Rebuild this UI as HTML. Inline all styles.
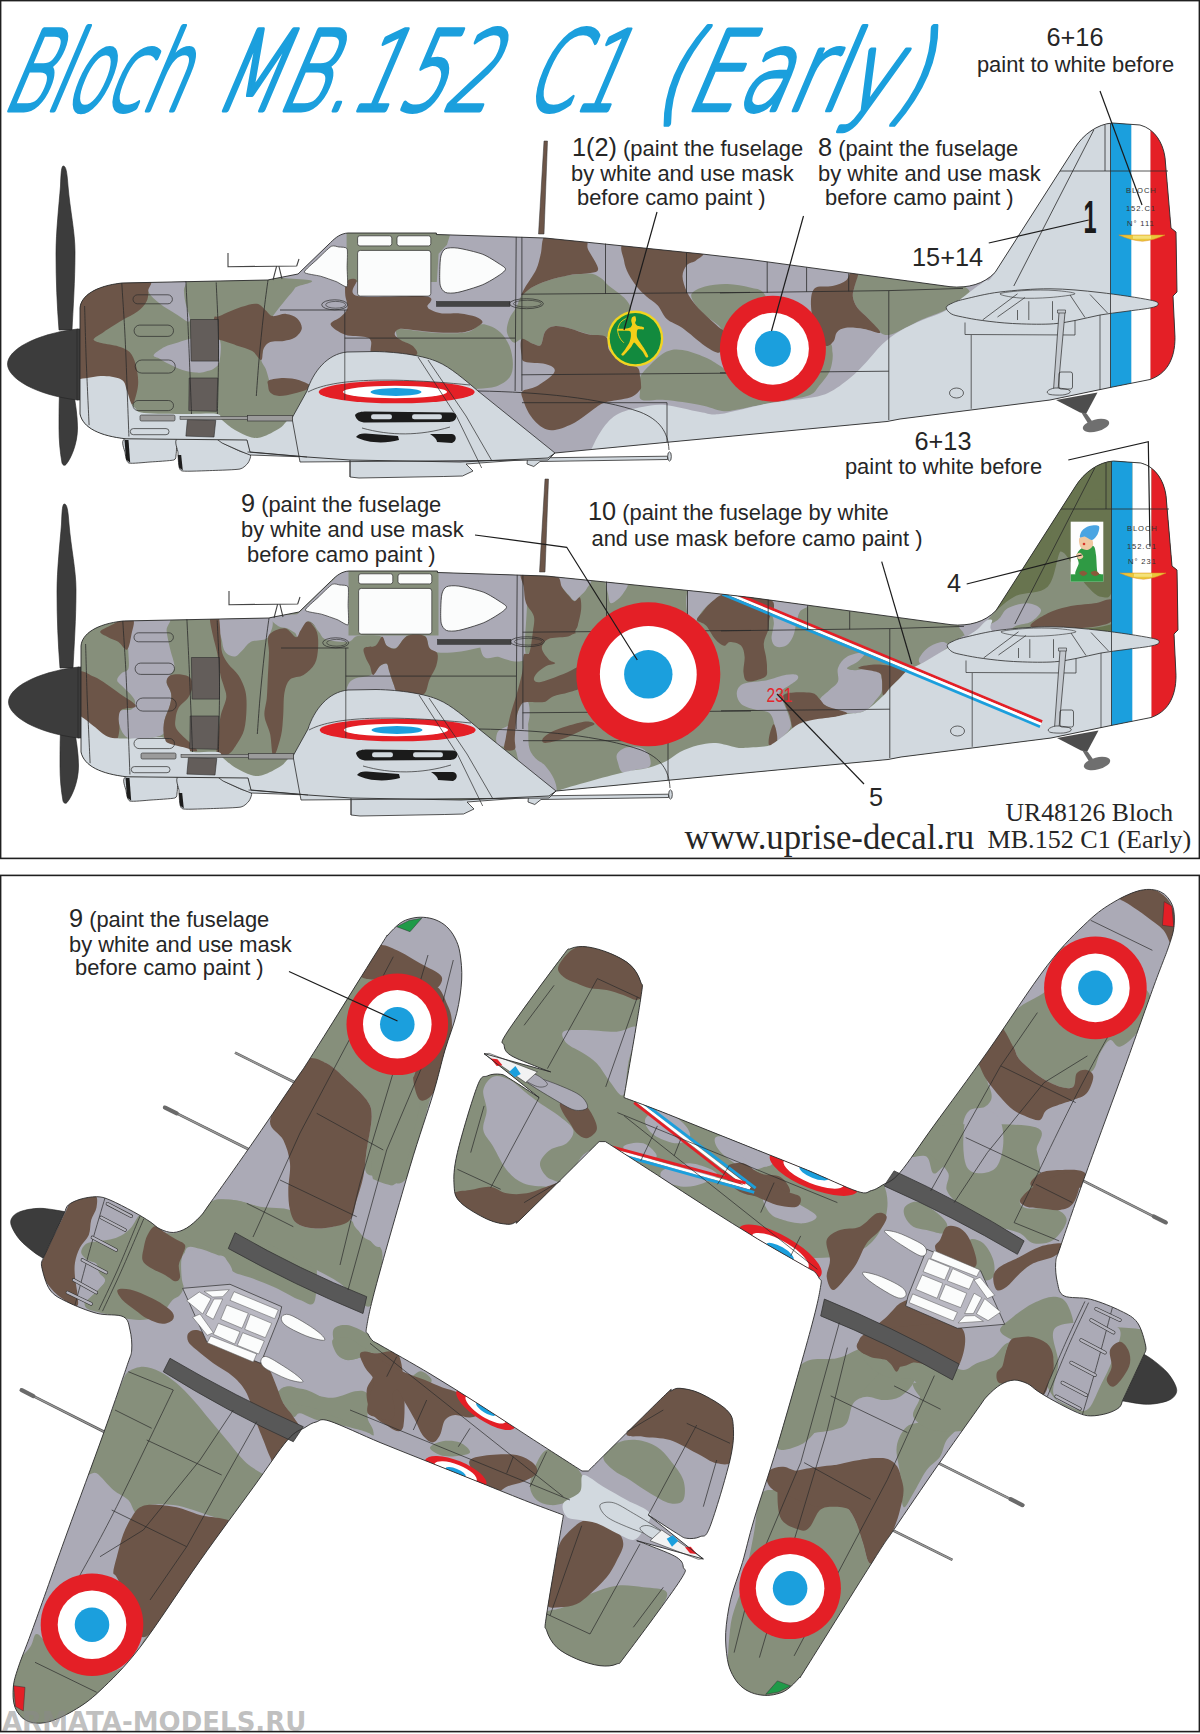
<!DOCTYPE html>
<html lang="en">
<head>
<meta charset="utf-8">
<title>Bloch MB.152 C1 (Early) - UR48126 decal instruction</title>
<style>
html,body{margin:0;padding:0;background:#fff;}
body{width:1200px;height:1734px;overflow:hidden;position:relative;font-family:"Liberation Sans",Arial,sans-serif;}
svg{display:block;position:absolute;left:0;top:0;}
.t{font-family:"Liberation Sans",Arial,sans-serif;fill:#262626;font-size:21.9px;}
.n{font-size:25.3px;}
.s{font-family:"Liberation Serif","Times New Roman",serif;fill:#262626;}
.title{font-family:"DejaVu Sans Light","DejaVu Sans","Liberation Sans",sans-serif;font-weight:200;fill:#1b9fdd;stroke:#1b9fdd;stroke-width:4.4px;stroke-linejoin:round;stroke-linecap:round;}
.title text{vector-effect:non-scaling-stroke;}
.ld{stroke:#1c1c1c;stroke-width:1.2;fill:none;}
.pl{stroke:#2a2a2a;stroke-width:0.8;fill:none;}
.ol{stroke:#222;stroke-width:1;fill:none;}
</style>
</head>
<body>
<svg width="1200" height="1734" viewBox="0 0 1200 1734">
<rect x="0" y="0" width="1200" height="1734" fill="#ffffff"/>

<!-- frames -->
<g fill="none" stroke="#1f1f1f" stroke-width="1.6">
<rect x="0.6" y="0.6" width="1198.8" height="857.8"/>
<rect x="0.6" y="875.4" width="1198.8" height="856.2"/>
</g>

<g id="p1" transform="translate(0,0)">
<clipPath id="p1_clip"><path d="M80,330 L80,308 C81,296 95,286 122,283 L268,280 L270,279.5 L298,274 L330.6,242.5 C336,237 341,233.5 348,233 L436.4,233 L436.4,234.5 L545,238 L624,246 L702,254 L750,259.5 L950,286.7 C968,288.5 984,284 995,272.5 L1075,147.5 C1083,135 1097,124 1112.5,123 L1140,125 C1155,129 1163,143 1165,157.5 L1171,228 L1176,232 L1177,292 L1173,296 L1175,337.5 C1175,360 1166,374 1150,379.5 L1110,387.5 L1050,400 L900,419 L887,421.5 L670,442 L555,453 L548,458 L460,462 L350,460 L307,457 L250,452 L247,440 L126,438.8 C100,436 83,428 80,414 Z"/></clipPath>
<g fill="#3c3c3c" stroke="#222" stroke-width="0.6">
<path d="M63.3,166 C66,166 67,172 68,186 C70,210 75,232 75,252 C75,280 73,310 72,330 L59,330 C57,305 56,280 56,254 C56,232 59,205 60.5,186 C61,172 61.5,166 63.3,166Z"/>
<path d="M60,384 L72,384 C75,400 77.5,415 77.5,428 C77.5,445 70,460 66,464.5 C64.5,466 63,465.5 62,463 C60,452 59,440 59,428 C59,412 59,398 60,384Z"/>
<path d="M7.5,364 C7.5,350 35,334 77.5,329 L77.5,400 C35,395 7.5,378 7.5,364Z"/>
<path d="M77,329 L80,329 L80,400 L77,400Z"/>
</g>
<path d="M125,438.8 C130,437.4 169.8,437.9 175,438.8 C180.2,439.7 176.4,445.9 176.5,447.5 C176.6,449.1 176.3,453.8 176,455 C175.7,456.2 176.4,459.3 173.8,460 C171.2,460.7 154.5,461.7 150,462 C145.5,462.3 131.3,463.9 128.8,463 C126.3,462.1 125.4,454.9 125,452.5 C124.6,450.1 120,440.2 125,438.8Z" fill="#d2d9df" stroke="#2b2b2b" stroke-width="0.8"/>
<path d="M177.5,438.8 C181.7,437.4 215.4,437.6 220,438 C224.6,438.4 221,441.7 223,443 C225,444.3 237.2,450 240,451.2 C242.8,452.4 249.7,453.8 250.5,455 C251.3,456.2 249.1,461.6 248,463 C246.9,464.4 243.6,468.2 240,469 C236.4,469.8 218.2,470.3 212.5,470.5 C206.8,470.7 185.9,471.6 182.5,471 C179.1,470.4 179.2,466.9 178.8,465 C178.4,463.1 178.1,455.1 178,452.5 C177.9,449.9 173.3,440.2 177.5,438.8Z" fill="#d2d9df" stroke="#2b2b2b" stroke-width="0.8"/>
<path d="M124.5,440 L128.5,440 L130.2,462.8 L126,459.5Z" fill="#1d1d1d"/>
<path d="M177.8,455 L181.2,455 L182.8,470.5 L179,467.5Z" fill="#1d1d1d"/>
<path d="M214,437 L222,443 L240,451 L250,455 L307,457 L350,460 L350,477 L359,478 L443.8,476.5 L462.5,476 L473,471 L466,464 L548,458 L555,453 L300,420Z" fill="#d2d9df" stroke="#2b2b2b" stroke-width="0.8"/>
<path d="M527.5,458 L667.5,456.2 L667.5,459.5 L540,461.5 L533.8,466.5 L527,464Z" fill="#d2d9df" stroke="#2b2b2b" stroke-width="0.8"/>
<ellipse cx="669.5" cy="456.5" rx="1.8" ry="4.6" fill="#d2d9df" stroke="#2b2b2b" stroke-width="0.8"/>
<path d="M80,330 L80,308 C81,296 95,286 122,283 L268,280 L270,279.5 L298,274 L330.6,242.5 C336,237 341,233.5 348,233 L436.4,233 L436.4,234.5 L545,238 L624,246 L702,254 L750,259.5 L950,286.7 C968,288.5 984,284 995,272.5 L1075,147.5 C1083,135 1097,124 1112.5,123 L1140,125 C1155,129 1163,143 1165,157.5 L1171,228 L1176,232 L1177,292 L1173,296 L1175,337.5 C1175,360 1166,374 1150,379.5 L1110,387.5 L1050,400 L900,419 L887,421.5 L670,442 L555,453 L548,458 L460,462 L350,460 L307,457 L250,452 L247,440 L126,438.8 C100,436 83,428 80,414 Z" fill="#d2d9df"/>
<g clip-path="url(#p1_clip)">
<rect x="70" y="110" width="1120" height="370" fill="#abaab6"/>
<path d="M79,279 C115.2,252 260.1,277.5 296.1,279 C332.1,280.5 296.7,284.6 295,288 C293.3,291.4 289.6,294.7 286,299.2 C282.4,303.7 277,310.1 273.6,315 C270.2,319.9 267.5,322.9 265.8,328.5 C264.1,334.1 264.3,343.6 263.5,348.8 C262.7,354.1 260.8,356.6 261.2,360 C261.6,363.4 264.5,365.6 265.8,369 C267.1,372.4 268,376.4 269.1,380.2 C270.2,383.9 265.9,390 272.5,391.5 C279.1,393 304.8,385.1 308.5,389.2 C312.2,393.3 301,408.7 295,416.2 C289,423.7 283.8,430.1 272.5,434.2 C261.2,438.3 259.8,439.9 227.5,441 C195.2,442.1 103.8,468 79,441 C54.2,414 42.8,306 79,279Z" fill="#868f7b"/>
<path d="M346.6,231.2 L436.4,231.2 L449.9,235.3 L447,244.8 L438.6,253.8 L436.8,281.9 L346.6,281.9Z" fill="#868f7b"/>
<path d="M395.9,331.4 C395.9,328.6 398.3,329.2 401.5,329.1 C404.7,329 409,330.1 415,330.7 C421,331.3 430,332.5 437.5,332.9 C445,333.3 454.4,333.3 460,332.9 C465.6,332.5 467.8,332.1 471.2,330.7 C474.6,329.3 477.2,325.4 480.2,324.6 C483.2,323.8 485.8,324.5 489.2,325.8 C492.6,327.1 497.1,329.1 500.5,332.5 C503.9,335.9 507.4,340.8 509.5,346 C511.6,351.2 512.9,358.8 512.9,364 C512.9,369.2 512.3,373.8 509.5,377.5 C506.7,381.2 501.2,384.6 496,386.5 C490.8,388.4 484,388.1 478,388.8 C472,389.6 466.8,392.9 460,391 C453.2,389.1 445,382 437.5,377.5 C430,373 421,369.2 415,364 C409,358.8 404.7,351.4 401.5,346 C398.3,340.6 395.9,334.2 395.9,331.4Z" fill="#868f7b"/>
<path d="M521.6,295.4 C524.2,292 527.5,289.9 531.8,287.5 C536.1,285.1 541.1,282.9 547.5,280.8 C553.9,278.7 562.9,276.3 570,275.1 C577.1,273.9 585,273 590.2,273.6 C595.5,274.2 598.5,276.6 601.5,278.5 C604.5,280.4 604.5,282 608.2,285.2 C612,288.4 620.2,293.7 624,297.6 C627.8,301.6 630.8,306.1 630.8,308.9 C630.8,311.7 627,311.7 624,314.5 C621,317.3 615.6,322.1 612.8,325.8 C610,329.6 611.2,335.6 607.1,337 C603,338.4 594.2,335.3 588,333.9 C581.8,332.5 575.6,329.7 570,328.4 C564.4,327.1 558.3,325.7 554.2,326.2 C550.1,326.7 547.4,328.3 545.2,331.4 C543,334.5 542.8,342.8 540.8,344.9 C538.8,347 536.1,344.8 532.9,343.8 C529.7,342.9 524.8,339.4 521.6,339.2 C518.4,339 516.2,343.7 513.8,342.6 C511.4,341.5 507.8,336.4 507,332.5 C506.2,328.6 507.7,323.1 509.2,319 C510.7,314.9 513.9,311.7 516,307.8 C518.1,303.9 519,298.8 521.6,295.4Z" fill="#868f7b"/>
<path d="M691.5,294 C693,290.8 699,288.1 705,286.4 C711,284.7 720,283.8 727.5,284 C735,284.2 743.8,285.7 750,287.5 C756.2,289.3 760.8,287.9 765,295 C769.2,302.1 779.2,321.7 775,330 C770.8,338.3 749.5,345.8 740,345 C730.5,344.2 723.5,329.7 718,325 C712.5,320.3 710.7,320 707,316.8 C703.3,313.5 698.6,309.3 696,305.5 C693.4,301.7 690,297.2 691.5,294Z" fill="#868f7b"/>
<path d="M639.8,377.5 C641.6,373.2 646.5,368.3 651,364 C655.5,359.7 661.5,353.9 666.8,351.6 C672,349.3 676.1,349.1 682.5,350 C688.9,350.9 698.6,354.5 705,357.2 C711.4,360 714.9,362.5 720.8,366.2 C726.6,370 730.1,377.7 740,380 C749.9,382.3 765.8,385.8 780,380 C794.2,374.2 816.2,349.6 825,345 C833.8,340.4 831.7,348.2 832.5,352.5 C833.3,356.8 832.2,364.9 830,370.5 C827.8,376.1 822.3,381.9 819,386 C815.7,390.1 815.3,392.7 810,395 C804.7,397.3 795.3,398.3 787,400 C778.7,401.7 768.7,403.3 760,405 C751.3,406.7 741.3,409 735,410 C728.7,411 727.8,411.8 722,411 C716.2,410.2 709.5,406.8 700,405 C690.5,403.2 674.7,400.8 665,400 C655.3,399.2 646.2,401.7 642,400 C637.8,398.3 640.4,393.8 640,390 C639.6,386.2 637.9,381.8 639.8,377.5Z" fill="#868f7b"/>
<path d="M858.4,271.5 C865.9,270.2 885.6,275.2 900,277.1 C914.4,279 934.3,281.2 945,282.8 C955.7,284.4 960,284.5 964.1,286.4 C968.2,288.3 970.7,291.6 969.8,294 C968.9,296.4 962.6,298.1 958.5,300.8 C954.4,303.5 951,307.1 945,310.2 C939,313.3 929.2,316.2 922.5,319.2 C915.8,322.2 909.8,325.6 904.5,328.2 C899.2,330.8 894.9,333.7 891,334.5 C887.1,335.3 884.6,335.7 880.9,333.1 C877.1,330.5 872.5,323.1 868.5,318.8 C864.5,314.5 859.8,311.3 857.2,307.5 C854.6,303.7 853.2,299.9 852.8,296.2 C852.4,292.4 854.1,289.1 855,285 C855.9,280.9 850.9,272.8 858.4,271.5Z" fill="#868f7b"/>
<path d="M147.6,279 C153.4,276.8 177.5,277.1 183.6,279 C189.7,280.9 183.6,286.4 183.9,290.2 C184.2,293.9 184.2,296.3 185.2,301.5 C186.2,306.7 191.3,319.2 189.7,321.3 C188.1,323.4 180.8,316.8 175.8,313.9 C170.9,311 164.5,307.4 160,303.8 C155.5,300.2 150.9,296.6 148.8,292.5 C146.7,288.4 141.8,281.2 147.6,279Z" fill="#abaab6"/>
<path d="M153.7,355.1 C154.4,353.1 160.4,349 164.5,346.9 C168.6,344.8 173.5,343.8 178,342.4 C182.5,341 187,339.4 191.5,338.6 C196,337.8 200.3,337.3 205,337.5 C209.7,337.7 217.2,335.9 219.6,339.8 C222,343.7 220.5,356.3 219.6,361.1 C218.7,365.9 216.4,366.8 214,368.6 C211.6,370.4 208,371 205,371.7 C202,372.4 199.8,372.9 196,372.6 C192.2,372.3 187,371.5 182.5,370.1 C178,368.7 172.8,366 169,364.1 C165.2,362.2 162.6,360.4 160,358.9 C157.4,357.4 152.9,357.1 153.7,355.1Z" fill="#abaab6"/>
<path d="M79,279 C90.1,257.2 133.8,277.1 145.4,279 C157,280.9 148.1,286.4 148.3,290.2 C148.5,293.9 148.3,297.9 146.5,301.5 C144.7,305.1 141.6,308.4 137.5,311.6 C133.4,314.8 127.4,317.2 121.8,320.6 C116.2,324 108.5,328.8 103.8,331.9 C99.1,335 94,337.4 93.6,339.3 C93.2,341.2 97.4,341.9 101.5,343.1 C105.6,344.3 113.7,345 118.4,346.5 C123.1,348 126.7,349.1 129.6,352.1 C132.5,355.1 134.3,359.4 135.7,364.5 C137.1,369.6 138.3,376.9 138.2,382.5 C138.1,388.1 136.4,394.4 135.2,398.2 C134,401.9 134.6,403.1 131.2,405 C127.8,406.9 123.7,408.8 115,409.5 C106.3,410.2 85,431.2 79,409.5 C73,387.8 67.9,300.8 79,279Z" fill="#6c5548"/>
<path d="M214,318.4 C214.9,314.6 215.1,318 219.6,316.1 C224.1,314.2 234.8,309.2 241,307.1 C247.2,305.1 252.7,303.2 256.8,303.8 C260.9,304.4 263.2,308.4 265.8,310.5 C268.4,312.6 269.1,315.5 272.5,316.1 C275.9,316.7 281.9,313.5 286,313.9 C290.1,314.3 294.6,316 297.2,318.4 C299.8,320.8 302.2,325.3 301.8,328.5 C301.4,331.7 298,335.4 295,337.5 C292,339.6 287.9,340.1 283.8,340.9 C279.7,341.6 273.6,340.7 270.2,342 C266.8,343.3 265,345.8 263.5,348.8 C262,351.8 263.1,359.6 261.2,360 C259.3,360.4 256.3,353.4 252.2,351 C248.1,348.6 241.9,347.3 236.5,345.4 C231.1,343.5 223.3,340.9 219.6,339.8 C215.8,338.7 214.9,342.2 214,338.6 C213.1,335 213.1,322.1 214,318.4Z" fill="#6c5548"/>
<path d="M269.1,380.2 C271.7,379.1 278.7,378 283.8,378 C288.9,378 295,378.7 299.5,380.2 C304,381.7 311.6,384.8 310.8,387 C310.1,389.2 300.3,391.8 295,393.3 C289.7,394.8 283.3,396.1 279.2,396 C275.1,395.9 272.1,394.5 270.2,392.6 C268.3,390.7 268.2,386.9 268,384.8 C267.8,382.7 266.5,381.3 269.1,380.2Z" fill="#6c5548"/>
<path d="M346.6,281.2 C348.5,278.9 354.7,277.8 356.5,280.3 C358.3,282.8 346,293.4 357.6,296.1 C369.2,298.8 414.6,294.8 426.2,296.5 C437.8,298.2 426.6,304.4 427.4,306.6 C428.2,308.9 428.8,308.9 431.2,310 C433.6,311.1 437.2,312.8 442,313.4 C446.8,314 454.4,312.8 460,313.4 C465.6,314 472.1,315.4 475.8,316.8 C479.6,318.2 482.1,320.1 482.5,321.7 C482.9,323.3 479.9,324.8 478,326.2 C476.1,327.6 474.2,329.1 471.2,330.2 C468.2,331.2 465.6,332.1 460,332.5 C454.4,332.9 445,332.9 437.5,332.5 C430,332.1 421.4,330.8 415,330.2 C408.6,329.6 402.6,328.3 399.2,329.1 C395.8,329.9 394.4,332.9 394.8,334.8 C395.2,336.7 398.5,338.5 401.5,340.4 C404.5,342.3 410.4,343.6 412.8,346 C415.2,348.4 419.5,353.1 416.1,355 C412.7,356.9 399.8,357.2 392.5,357.2 C385.2,357.2 375.8,357.6 372.2,355 C368.6,352.4 372.2,344.5 371.1,341.5 C370,338.5 369.8,338.1 365.5,337 C361.2,335.9 351,336.9 345.2,334.8 C339.4,332.7 331.3,327.6 330.6,324.6 C329.9,321.6 338,319.6 340.8,316.8 C343.6,314 346.8,311.6 347.5,307.8 C348.2,304 345.3,298.6 345.2,294.2 C345.1,289.8 344.7,283.5 346.6,281.2Z" fill="#6c5548"/>
<path d="M545.2,235.8 C549.3,233.2 558.7,237.2 565.5,238 C572.3,238.8 582,238.8 585.8,240.7 C589.5,242.6 586,244.6 588,249.2 C590,253.8 597.7,264.4 598.1,268.4 C598.5,272.4 594.9,272 590.2,273.1 C585.5,274.2 577.1,273.8 570,275.1 C562.9,276.4 553.9,278.7 547.5,280.8 C541.1,282.9 536.1,285.1 531.8,287.5 C527.5,289.9 522.7,295.4 521.6,295.4 C520.5,295.4 522.6,291.8 525,287.5 C527.4,283.2 533.6,275.1 536.2,269.5 C538.8,263.9 539.3,259.4 540.8,253.8 C542.3,248.2 541.1,238.4 545.2,235.8Z" fill="#6c5548"/>
<path d="M521.6,339.2 C523.5,337.3 529.7,342.9 532.9,343.8 C536.1,344.8 538.8,347 540.8,344.9 C542.8,342.8 543,334.5 545.2,331.4 C547.4,328.3 550.1,326.7 554.2,326.2 C558.3,325.7 564.4,327 570,328.4 C575.6,329.8 582,332.9 588,334.3 C594,335.7 602.4,334.3 606,337 C609.6,339.7 606.4,346 609.4,350.5 C612.4,355 619.3,361.2 624,364 C628.7,366.8 634.8,365.1 637.5,367.4 C640.2,369.6 639.6,374.6 640.2,377.5 C640.8,380.4 641,382.9 641,385 C641,387.1 641.8,387.9 640,390 C638.2,392.1 635.8,395.4 630,397.5 C624.2,399.6 611.2,400.4 605,402.5 C598.8,404.6 597.5,406.7 592.5,410 C587.5,413.3 581.2,419.2 575,422.5 C568.8,425.8 560.4,429.2 555,430 C549.6,430.8 546.7,430 542.5,427.5 C538.3,425 533.3,419.9 530,415 C526.7,410.1 523.7,402 522.5,398 C521.3,394 520.5,392.9 522.8,391 C525.1,389.1 531.3,389.1 536.2,386.5 C541.1,383.9 549,378.2 552,375.2 C555,372.2 555.3,370.4 554.2,368.5 C553.1,366.6 550.1,365.1 545.2,364 C540.3,362.9 528.9,363.3 525,361.8 C521.1,360.3 522.2,358.8 521.6,355 C521,351.2 519.7,341.1 521.6,339.2Z" fill="#6c5548"/>
<path d="M624,243.6 C630,241.4 647.1,246 660,247.4 C672.9,248.8 695.6,249.7 701.6,251.9 C707.6,254.1 698.4,258.3 696,260.5 C693.6,262.7 689.2,262.4 687,265 C684.8,267.6 682.5,271.7 682.5,276.2 C682.5,280.7 684.8,287.1 687,292 C689.2,296.9 692.6,301.4 696,305.5 C699.4,309.6 703.5,313.2 707.2,316.8 C711,320.4 715.7,324.3 718.5,326.9 C721.3,329.5 723.7,329.3 724.1,332.5 C724.5,335.7 721.7,342.6 720.8,346 C719.9,349.4 721.1,352.8 718.5,352.8 C715.9,352.8 711,350.1 705,346 C699,341.9 688.9,332.5 682.5,328 C676.1,323.5 670.9,322.8 666.8,319 C662.7,315.2 661.2,309.2 657.8,305.5 C654.4,301.8 649.9,299.5 646.5,296.5 C643.1,293.5 640.5,291.2 637.5,287.5 C634.5,283.8 630.8,278.5 628.5,274 C626.2,269.5 624.8,265.6 624,260.5 C623.2,255.4 618,245.8 624,243.6Z" fill="#6c5548"/>
<path d="M814.5,288.4 C818.1,284.8 827.2,287.4 832.5,286.1 C837.8,284.8 842.8,283.1 846,280.5 C849.2,277.9 849.5,271.8 851.6,270.4 C853.7,269 857.8,269.5 858.4,271.9 C859,274.3 855.9,280.9 855,285 C854.1,289.1 852.4,292.4 852.8,296.2 C853.2,299.9 854.6,303.7 857.2,307.5 C859.8,311.3 864.7,314.6 868.5,318.8 C872.3,323 881,331 880.2,332.7 C879.5,334.4 869.7,329.7 864,328.9 C858.3,328.1 850.5,327.2 846,327.8 C841.5,328.4 839.1,330 837,332.2 C834.9,334.4 835.5,338.9 833.6,341.2 C831.7,343.5 828.6,346.9 825.8,345.8 C823,344.7 819.2,340.9 816.8,334.5 C814.3,328.1 811.5,315.2 811.1,307.5 C810.7,299.8 810.9,292 814.5,288.4Z" fill="#6c5548"/>
<path d="M60,379 C63.2,362.2 71.7,379.5 79,379 C86.3,378.5 96.8,375.8 104,376 C111.2,376.2 118.2,377.5 122,380 C125.8,382.5 125.5,387.2 127,391 C128.5,394.8 129.7,400.2 131,403 C132.3,405.8 132.8,406.3 135,408 C137.2,409.7 135.3,412 144,413 C152.7,414 174.8,413.8 187,414 C199.2,414.2 211.2,413 217,414 C222.8,415 219,417.3 222,420 C225,422.7 230.3,427.2 235,430 C239.7,432.8 245.5,435.8 250,437 C254.5,438.2 257,438.5 262,437 C267,435.5 275,431.2 280,428 C285,424.8 287,418.5 292,418 C297,417.5 307,414.7 310,425 C313,435.3 351.7,470.8 310,480 C268.3,489.2 101.7,496.8 60,480 C18.3,463.2 56.8,395.8 60,379Z" fill="#d2d9df"/>
<path d="M580,470 C528.3,467 587,457.7 590,452 C593,446.3 595,441 598,436 C601,431 604.3,425.8 608,422 C611.7,418.2 614.3,415.5 620,413 C625.7,410.5 634.5,408.3 642,407 C649.5,405.7 655.3,404.2 665,405 C674.7,405.8 690.8,410.5 700,412 C709.2,413.5 709.2,415.3 720,414 C730.8,412.7 750.8,406.6 765,404 C779.2,401.4 794.5,400.4 805,398.6 C815.5,396.8 820.5,396.4 828,393 C835.5,389.6 843.7,383.1 850,378 C856.3,372.9 860.7,368.2 866,362.6 C871.3,357 876.3,349.9 882,344.6 C887.7,339.3 893.2,335.1 900,331 C906.8,326.9 915,323.3 922.5,320 C930,316.7 938.4,314.7 945,311 C951.6,307.3 957,301.8 962,298 C967,294.2 971.2,290.8 975,288 C978.8,285.2 981.7,283.6 985,281 C988.3,278.4 986.7,285.2 995,272.5 C1003.3,259.8 1021.7,227.1 1035,205 C1048.3,182.9 1062.2,156.7 1075,140 C1087.8,123.3 1092,110.8 1112,105 C1132,99.2 1181.2,50.8 1195,105 C1208.8,159.2 1244.2,369.2 1195,430 C1145.8,490.8 1002.5,463.3 900,470 C797.5,476.7 631.7,473 580,470Z" fill="#d2d9df"/>
</g>
<g clip-path="url(#p1_clip)">
<rect x="1110.5" y="110" width="21" height="290" fill="#1b9fdd"/>
<rect x="1131.5" y="110" width="19" height="290" fill="#ffffff"/>
<rect x="1150.5" y="110" width="40" height="290" fill="#e41f26"/>
</g>
<path d="M292,418 L307,391 C313,372 327,354 347,352 L375,351.5 C400,352 425,356 438,362 C450,367 465,380 478,391 L555,453 L548,460 L300,462 Z" fill="#d2d9df" stroke="#2b2b2b" stroke-width="0.8"/>
<ellipse cx="396.7" cy="392" rx="78" ry="11.3" fill="#e41f26"/>
<ellipse cx="395" cy="392" rx="52" ry="6.3" fill="#fff"/>
<ellipse cx="396" cy="392" rx="25.5" ry="3.9" fill="#1b9fdd"/>
<path d="M355,415 C357,412 362,411.5 366,411.5 L452,412.5 C456,413 457,415 456,418 C455,421 452,422 448,422 L366,422.5 C360,422.5 356,420 355,415Z" fill="#1b1b1b"/>
<rect x="371" y="414.3" width="21" height="5" rx="2.4" fill="#d2d9df"/>
<rect x="412" y="414.3" width="30" height="5" rx="2.4" fill="#d2d9df"/>
<path d="M356,437 C358,434 362,433 366,433.5 L398,436 L399,440 C385,444 366,443 356,437Z" fill="#1b1b1b"/>
<path d="M430,434 L452,434 C457,435 457,441 452,443 L437,442 C437,439 434,437 430,434Z" fill="#1b1b1b"/>
<path d="M362,428 C390,436 420,436 450,427" fill="none" stroke="#2b2b2b" stroke-width="0.7"/>
<path d="M418,357 L456.7,416.7 L481.7,468 M428,360 L466,416 L492,461 M308,392 C330,380 380,376 470,385 M344.8,352 L344.8,400" fill="none" stroke="#2b2b2b" stroke-width="0.7"/>
<path d="M247.5,452 L307,457 M350,460 L350,477" fill="none" stroke="#2b2b2b" stroke-width="0.7"/>
<path d="M228,253 L228,266.7 L296.7,266 M273,280 L276.5,266.7 M282,279 L279,266.7 M296.7,266 L299,259" fill="none" stroke="#444" stroke-width="1.1"/>
<path d="M946.2,307.5 C946.4,305.7 949.4,304.4 952.5,303 C955.6,301.6 957.1,300.8 965,299 C972.9,297.2 985.8,293.7 1000,292 C1014.2,290.3 1033.3,288.7 1050,288.8 C1066.7,288.9 1083.3,290.6 1100,292.5 C1116.7,294.4 1140.3,298 1150,300 C1159.7,302 1158,303.2 1158,304.5 C1158,305.8 1155.5,306.8 1150,308 C1144.5,309.2 1133.3,310.3 1125,311.5 C1116.7,312.7 1108.3,313.5 1100,315 C1091.7,316.5 1083.3,319 1075,320.5 C1066.7,322 1060.4,323.5 1050,324 C1039.6,324.5 1023.8,324.1 1012.5,323.5 C1001.2,322.9 990.8,321.6 982.5,320.5 C974.2,319.4 967.7,318.1 962.5,317 C957.3,315.9 953.9,315.4 951.2,313.8 C948.5,312.2 946,309.3 946.2,307.5Z" fill="#d2d9df" stroke="#2b2b2b" stroke-width="0.8"/>
<path d="M1000,293.8 C1000.8,292.6 1015.8,291.1 1025,290.5 C1034.2,289.9 1046.7,289.9 1055,290.5 C1063.3,291.1 1075.8,292.6 1075,293.8 C1074.2,295 1059.2,296.8 1050,297.5 C1040.8,298.2 1028.3,298.6 1020,298 C1011.7,297.4 999.2,295.1 1000,293.8Z" fill="none" stroke="#2b2b2b" stroke-width="0.6"/>
<path d="M982.5,320.0 L1017.5,293.8 M997.5,317.0 L1025.0,297.5 M1070.0,295.0 L1085.0,317.5 M1090.0,294.5 L1107.5,313.0 M965.0,322.5 L965.0,334.5 M965.0,334.5 L1075.0,335.0 M1075.0,320.5 L1075.0,335.0 M971.2,335.0 L971.2,408.8 M1100.0,315.0 L1100.0,390.0 M1017.5,310.0 L1017.5,320.0 M1028.8,301.2 L1028.8,320.0 M1052.5,301.2 L1052.5,320.0" fill="none" stroke="#2b2b2b" stroke-width="0.7"/>
<path d="M1059,312.5 L1065,312.5 L1058,390 L1053.5,390Z" fill="#c4c9cf" stroke="#2b2b2b" stroke-width="0.7"/>
<path d="M1057.5,310 L1065.5,310 L1065.5,313 L1057.5,313Z" fill="#c4c9cf" stroke="#2b2b2b" stroke-width="0.6"/>
<path d="M1047.5,391.2 C1048.3,390.1 1051.7,388.3 1055,388 C1058.3,387.7 1065,388.8 1067.5,389.5 C1070,390.2 1070.8,391.6 1070,392.5 C1069.2,393.4 1065.8,394.7 1062.5,395 C1059.2,395.3 1052.5,395.1 1050,394.5 C1047.5,393.9 1046.7,392.3 1047.5,391.2Z" fill="#d2d9df" stroke="#2b2b2b" stroke-width="0.7"/>
<rect x="1059" y="372" width="13.5" height="17" rx="2" fill="none" stroke="#2b2b2b" stroke-width="0.7"/>
<ellipse cx="956.5" cy="393" rx="7" ry="5" fill="none" stroke="#2b2b2b" stroke-width="0.7"/>
<rect x="357.6" y="235.8" width="34.2" height="10.1" rx="2.25" fill="#fbfcfc" stroke="#2b2b2b" stroke-width="0.7"/>
<rect x="397" y="235.8" width="33.8" height="10.1" rx="2.25" fill="#fbfcfc" stroke="#2b2b2b" stroke-width="0.7"/>
<rect x="357.6" y="250.4" width="73.2" height="45.7" rx="2.7" fill="#fbfcfc" stroke="#2b2b2b" stroke-width="0.7"/>
<path d="M304.3,272.2 C304,270.5 314.4,262 317.1,259.4 C319.8,256.8 329.1,247.5 331.3,246.3 C333.5,245.1 337.3,246.8 338.9,247 C340.5,247.2 346.3,246.8 347.1,248.8 C347.9,250.8 347.1,263.4 347.1,267.2 C347.1,271 348.2,285.2 347.1,286.6 C346,288 338.9,282.6 336.2,281.6 C333.5,280.6 323.7,277.1 320.5,276.2 C317.3,275.3 304.6,273.9 304.3,272.2Z" fill="#fbfcfc" stroke="#2b2b2b" stroke-width="0.7"/>
<path d="M440.9,256 C441.6,253.2 443.1,249.9 445.4,248.8 C447.7,247.7 452.9,247.4 457.8,248.1 C462.7,248.8 477,252.1 482.5,254.2 C488,256.3 496.3,261.9 499.4,263.9 C502.5,265.9 505.5,267.6 505.5,269.1 C505.5,270.6 502.5,273 499.4,275.1 C496.3,277.2 488,282.5 482.5,284.8 C477,287.1 462.7,291.4 457.8,292.4 C452.9,293.4 447.7,293.4 445.4,292.4 C443.1,291.4 440.9,288.3 440.2,285.2 C439.5,282.1 439.7,273.4 439.8,269.5 C439.9,265.6 440.2,258.8 440.9,256Z" fill="#fbfcfc" stroke="#2b2b2b" stroke-width="0.8"/>
<rect x="436.4" y="301.4" width="73.6" height="5" fill="#444" stroke="#2b2b2b" stroke-width="0.5"/>
<path d="M544,141 L547.5,141 L544,234 L538.5,234Z" fill="#6c5548" stroke="#333" stroke-width="0.5"/>
<path d="M190.4,319.5 L218.5,319.5 L218.5,361.1 L191.1,361.1Z" fill="#635d5a" stroke="#2b2b2b" stroke-width="0.6"/>
<path d="M189.2,378 L217.8,378 L216.7,411.3 L188.8,410.6Z" fill="#635d5a" stroke="#2b2b2b" stroke-width="0.6"/>
<path d="M187.4,419.6 L215.8,420.3 L214,437 L185.9,436.1Z" fill="#635d5a" stroke="#2b2b2b" stroke-width="0.6"/>
<rect x="140" y="415" width="35" height="6" rx="1.5" fill="#9b9b9b" stroke="#2b2b2b" stroke-width="0.6"/>
<rect x="180" y="416.5" width="68" height="3" fill="#9b9b9b" stroke="#2b2b2b" stroke-width="0.5"/>
<rect x="247.5" y="415.5" width="45" height="5.5" fill="#9b9b9b" stroke="#2b2b2b" stroke-width="0.6"/>
<rect x="133" y="294.8" width="39.4" height="9" rx="4.5" fill="none" stroke="#2b2b2b" stroke-width="0.7"/>
<rect x="134.1" y="325.1" width="39.4" height="11.3" rx="5.6" fill="none" stroke="#2b2b2b" stroke-width="0.7"/>
<rect x="135.2" y="360" width="40.1" height="13.1" rx="6.6" fill="none" stroke="#2b2b2b" stroke-width="0.7"/>
<rect x="133" y="400.5" width="40.5" height="10.1" rx="5.1" fill="none" stroke="#2b2b2b" stroke-width="0.7"/>
<rect x="130.3" y="428.6" width="38.7" height="6.1" rx="3" fill="none" stroke="#2b2b2b" stroke-width="0.7"/>
<ellipse cx="334.7" cy="304.8" rx="13" ry="5" fill="none" stroke="#2b2b2b" stroke-width="0.7"/>
<ellipse cx="335.7" cy="304.8" rx="10" ry="3.4" fill="none" stroke="#2b2b2b" stroke-width="0.6"/>
<ellipse cx="526.4" cy="303.7" rx="17" ry="5" fill="none" stroke="#2b2b2b" stroke-width="0.7"/>
<ellipse cx="527.4" cy="303.7" rx="14" ry="3.4" fill="none" stroke="#2b2b2b" stroke-width="0.6"/>
<path d="M1056,400 L1097.5,392.5 L1086,414 L1080,412.5Z" fill="#4d4d4d"/>
<path d="M1081,412 L1087,414 L1094,424 L1089,425Z" fill="#6a6a6a"/>
<ellipse cx="1096" cy="425.5" rx="13.5" ry="6" transform="rotate(-14 1096 425.5)" fill="#6f6f6f"/>
<g stroke="#2b2b2b" stroke-width="0.8" fill="none"><path d="M121.8,283.1 C122.3,292.2 124.2,318.7 125.1,337.5 C126,356.3 126.8,379.5 127.4,396 C128,412.5 128.7,429.8 128.9,436.5" fill="none"/>
<path d="M84.6,306 C84.9,315 85.5,340.1 86.2,360 C87,379.9 88.6,414.3 89.1,425.2" fill="none"/>
<path d="M185.9,281.2 C186.4,291.7 187.9,322.1 188.8,344.2 C189.7,366.3 191.1,402.4 191.5,414" fill="none"/>
<path d="M216.2,282.4 C216.6,292.7 218.3,322.3 218.5,344.2 C218.7,366.1 217.6,402.4 217.4,414" fill="none"/>
<path d="M268,280.1 C267.2,285.9 265,301.7 263.5,315 C262,328.3 260.2,346.5 259,360 C257.8,373.5 256.8,390 256.3,396" fill="none"/>
<path d="M344.8,310 L344.8,352.3" fill="none"/>
<path d="M516.2,236.9 L515.1,391" fill="none"/>
<path d="M521.9,236.9 L521.9,391" fill="none"/>
<path d="M280,310 L347.5,310" fill="none"/>
<path d="M344.8,338.1 L515.1,338.1" fill="none"/>
<path d="M521.6,294.2 L750,292.4" fill="none"/>
<path d="M720,292.9 L888.8,290.6 L963,288.4" fill="none"/>
<path d="M521.6,374.8 L750,373" fill="none"/>
<path d="M720,372.8 L888.8,371.2" fill="none"/>
<path d="M605.5,243.6 L605.5,293.8" fill="none"/>
<path d="M686.5,252.6 L686.5,293.1" fill="none"/>
<path d="M767.2,261.8 L767.2,292.9" fill="none"/>
<path d="M806.6,267.4 L806.6,291.8" fill="none"/>
<path d="M848.7,273.3 L848.7,291.3" fill="none"/>
<path d="M888.8,290.6 L888.8,420" fill="none"/>
<path d="M478,391 C540,392 600,398 640,412 C660,420 668,432 669,450 M522,402.7 L667,402.7 L667,442" fill="none"/>
<path d="M1110.5,123.5 L1110.5,387.5" fill="none"/>
<path d="M1060,171 L1168,171" fill="none"/>
<path d="M1093.8,130 L1013.8,286" fill="none"/>
<path d="M1105,125 L1105,171" fill="none"/></g>
<circle cx="635.3" cy="338.6" r="28" fill="#f2d51f"/><circle cx="635.3" cy="338.6" r="25.6" fill="#128a3e"/>
<path d="M632.1,317.2 C632.6,316.7 634.7,316 635.2,316.3 C635.7,316.6 636.1,319.3 636.1,320.1 C636.1,320.9 635,322.4 635.2,323.1 C635.4,323.8 636.5,325.3 637.5,325.8 C638.5,326.3 642.7,326.7 643.4,327.1 C644.1,327.5 644.3,329.1 643.6,329.4 C642.9,329.7 638.3,328.9 637.5,329.8 C636.7,330.7 636.7,335.5 637,337 C637.3,338.5 639.2,341 640.2,342.6 C641.2,344.2 644.5,348.9 645.4,350.5 C646.3,352.1 648.2,355.6 648.3,356.4 C648.4,357.2 646.7,357.8 646,357.2 C645.3,356.6 643.5,352.9 642.5,351.6 C641.5,350.3 638.5,347.1 637.5,346 C636.5,344.9 634.8,342.5 634.1,342.6 C633.4,342.7 632.1,345.9 631.2,347.1 C630.3,348.3 627.1,351.8 626.2,352.8 C625.3,353.8 623.7,355.5 623.1,355.7 C622.5,355.9 621.1,355 621.3,354.3 C621.5,353.6 624.2,350.7 625.1,349.4 C626,348.1 628.3,344.7 629,343.3 C629.7,341.9 630.6,338.4 630.8,337 C631,335.6 631.1,332.1 630.3,331.4 C629.5,330.7 625.5,330.8 624,330.7 C622.5,330.6 618.4,330.9 617.7,330.7 C617,330.5 616.8,329.1 617.7,328.9 C618.6,328.7 623.6,328.9 625.1,328.7 C626.6,328.5 629.5,328.1 630.3,327.6 C631.1,327.1 632,325.4 632.1,324.6 C632.2,323.8 631.2,321.7 631.2,320.8 C631.2,319.9 631.6,317.7 632.1,317.2Z" fill="#f4cf18"/>
<path d="M626.7,318.1 C625.7,318.8 622.1,320.4 620.6,322.4 C619.1,324.4 617.8,327.6 617.7,330.2 C617.6,332.8 619,336 620,338.1 C621,340.2 623.3,342.1 624,342.9" fill="none" stroke="#f4cf18" stroke-width="0.9"/>
<text transform="translate(1083.5,232.5) scale(0.5,1)" font-family="'Liberation Sans',Arial,sans-serif" font-weight="bold" font-size="47" fill="#1a1a1a">1</text>
<g font-family="'Liberation Sans',Arial,sans-serif" font-size="7.6" fill="#333" letter-spacing="0.9">
<text x="1126" y="192.6">BLOCH</text><text x="1126" y="210.6">152.C1</text><text x="1127" y="225.6">N° 111</text></g>
<path d="M1118.8,235 L1165,235 C1158,238.5 1150,240.5 1142.5,241.3 C1134,240.5 1126,238.5 1118.8,235Z" fill="#e9c83a" stroke="#e08a1e" stroke-width="0.5"/>
<rect x="1133" y="235.6" width="18" height="3.2" fill="#f4e27a"/>
<circle cx="772.9" cy="348.7" r="53" fill="#e41f26"/><circle cx="772.9" cy="348.7" r="36" fill="#fff"/><circle cx="772.9" cy="348.7" r="18" fill="#1b9fdd"/>
<path d="M80,330 L80,308 C81,296 95,286 122,283 L268,280 L270,279.5 L298,274 L330.6,242.5 C336,237 341,233.5 348,233 L436.4,233 L436.4,234.5 L545,238 L624,246 L702,254 L750,259.5 L950,286.7 C968,288.5 984,284 995,272.5 L1075,147.5 C1083,135 1097,124 1112.5,123 L1140,125 C1155,129 1163,143 1165,157.5 L1171,228 L1176,232 L1177,292 L1173,296 L1175,337.5 C1175,360 1166,374 1150,379.5 L1110,387.5 L1050,400 L900,419 L887,421.5 L670,442 L555,453 L548,458 L460,462 L350,460 L307,457 L250,452 L247,440 L126,438.8 C100,436 83,428 80,414 Z" fill="none" stroke="#2b2b2b" stroke-width="0.9"/>
</g>
<g id="p2" transform="translate(1,338)">
<clipPath id="p2_clip"><path d="M80,330 L80,308 C81,296 95,286 122,283 L268,280 L270,279.5 L298,274 L330.6,242.5 C336,237 341,233.5 348,233 L436.4,233 L436.4,234.5 L545,238 L624,246 L702,254 L750,259.5 L950,286.7 C968,288.5 984,284 995,272.5 L1075,147.5 C1083,135 1097,124 1112.5,123 L1140,125 C1155,129 1163,143 1165,157.5 L1171,228 L1176,232 L1177,292 L1173,296 L1175,337.5 C1175,360 1166,374 1150,379.5 L1110,387.5 L1050,400 L900,419 L887,421.5 L670,442 L555,453 L548,458 L460,462 L350,460 L307,457 L250,452 L247,440 L126,438.8 C100,436 83,428 80,414 Z"/></clipPath>
<g fill="#3c3c3c" stroke="#222" stroke-width="0.6">
<path d="M63.3,166 C66,166 67,172 68,186 C70,210 75,232 75,252 C75,280 73,310 72,330 L59,330 C57,305 56,280 56,254 C56,232 59,205 60.5,186 C61,172 61.5,166 63.3,166Z"/>
<path d="M60,384 L72,384 C75,400 77.5,415 77.5,428 C77.5,445 70,460 66,464.5 C64.5,466 63,465.5 62,463 C60,452 59,440 59,428 C59,412 59,398 60,384Z"/>
<path d="M7.5,364 C7.5,350 35,334 77.5,329 L77.5,400 C35,395 7.5,378 7.5,364Z"/>
<path d="M77,329 L80,329 L80,400 L77,400Z"/>
</g>
<path d="M125,438.8 C130,437.4 169.8,437.9 175,438.8 C180.2,439.7 176.4,445.9 176.5,447.5 C176.6,449.1 176.3,453.8 176,455 C175.7,456.2 176.4,459.3 173.8,460 C171.2,460.7 154.5,461.7 150,462 C145.5,462.3 131.3,463.9 128.8,463 C126.3,462.1 125.4,454.9 125,452.5 C124.6,450.1 120,440.2 125,438.8Z" fill="#d2d9df" stroke="#2b2b2b" stroke-width="0.8"/>
<path d="M177.5,438.8 C181.7,437.4 215.4,437.6 220,438 C224.6,438.4 221,441.7 223,443 C225,444.3 237.2,450 240,451.2 C242.8,452.4 249.7,453.8 250.5,455 C251.3,456.2 249.1,461.6 248,463 C246.9,464.4 243.6,468.2 240,469 C236.4,469.8 218.2,470.3 212.5,470.5 C206.8,470.7 185.9,471.6 182.5,471 C179.1,470.4 179.2,466.9 178.8,465 C178.4,463.1 178.1,455.1 178,452.5 C177.9,449.9 173.3,440.2 177.5,438.8Z" fill="#d2d9df" stroke="#2b2b2b" stroke-width="0.8"/>
<path d="M124.5,440 L128.5,440 L130.2,462.8 L126,459.5Z" fill="#1d1d1d"/>
<path d="M177.8,455 L181.2,455 L182.8,470.5 L179,467.5Z" fill="#1d1d1d"/>
<path d="M214,437 L222,443 L240,451 L250,455 L307,457 L350,460 L350,477 L359,478 L443.8,476.5 L462.5,476 L473,471 L466,464 L548,458 L555,453 L300,420Z" fill="#d2d9df" stroke="#2b2b2b" stroke-width="0.8"/>
<path d="M527.5,458 L667.5,456.2 L667.5,459.5 L540,461.5 L533.8,466.5 L527,464Z" fill="#d2d9df" stroke="#2b2b2b" stroke-width="0.8"/>
<ellipse cx="669.5" cy="456.5" rx="1.8" ry="4.6" fill="#d2d9df" stroke="#2b2b2b" stroke-width="0.8"/>
<path d="M80,330 L80,308 C81,296 95,286 122,283 L268,280 L270,279.5 L298,274 L330.6,242.5 C336,237 341,233.5 348,233 L436.4,233 L436.4,234.5 L545,238 L624,246 L702,254 L750,259.5 L950,286.7 C968,288.5 984,284 995,272.5 L1075,147.5 C1083,135 1097,124 1112.5,123 L1140,125 C1155,129 1163,143 1165,157.5 L1171,228 L1176,232 L1177,292 L1173,296 L1175,337.5 C1175,360 1166,374 1150,379.5 L1110,387.5 L1050,400 L900,419 L887,421.5 L670,442 L555,453 L548,458 L460,462 L350,460 L307,457 L250,452 L247,440 L126,438.8 C100,436 83,428 80,414 Z" fill="#d2d9df"/>
<g clip-path="url(#p2_clip)">
<rect x="70" y="110" width="1120" height="370" fill="#868f7b"/>
<path d="M125.1,279 C131.9,275.6 160.1,276.8 166.8,279 C173.6,281.2 165.2,287.2 165.6,292.5 C166,297.8 167.7,304.5 169,310.5 C170.3,316.5 173.5,324 173.5,328.5 C173.5,333 170.3,334.9 169,337.5 C167.7,340.1 165.4,341.2 165.6,344.2 C165.8,347.2 169.5,351.7 170.1,355.5 C170.7,359.3 170.1,362.3 169,366.8 C167.9,371.3 164.5,377.6 163.4,382.5 C162.3,387.4 165.4,393 162.2,396 C159,399 150.2,399.9 144.2,400.5 C138.2,401.1 130.5,401.6 126.2,399.4 C121.9,397.1 119.7,391.3 118.4,387 C117.1,382.7 116.3,376.1 118.4,373.5 C120.5,370.9 128.2,372.7 130.8,371.2 C133.4,369.7 134.1,366.7 134.1,364.5 C134.1,362.3 133.1,360.6 130.8,357.8 C128.6,355 123,350.2 120.6,347.6 C118.1,345 116.1,344.1 116.1,342 C116.1,339.9 118.7,337.1 120.6,335.2 C122.5,333.3 126.3,334.2 127.4,330.8 C128.5,327.4 127.6,320.3 127.4,315 C127.2,309.7 126.6,305.2 126.2,299.2 C125.8,293.2 118.3,282.4 125.1,279Z" fill="#abaab6"/>
<path d="M220.8,279 C228.6,274.8 260.3,275.2 268,278.6 C275.7,282 269.9,295 266.9,299.2 C263.9,303.4 254.3,301.5 250,303.8 C245.7,306.1 243.6,310.4 241,312.8 C238.4,315.2 236.8,318 234.2,318.4 C231.6,318.8 227.4,317.4 225.2,315 C223,312.6 221.9,309.8 221.2,303.8 C220.5,297.8 213,283.2 220.8,279Z" fill="#abaab6"/>
<path d="M271.4,278.6 C276.8,276.7 304.2,275.4 309.6,276.8 C315,278.2 306.1,283.2 304,286.9 C301.9,290.6 298.9,297.9 297.2,299.2 C295.5,300.5 295.8,296.3 293.9,294.8 C292,293.3 288.8,291.3 286,290.2 C283.2,289.1 279.4,289.9 277,288 C274.6,286.1 266,280.5 271.4,278.6Z" fill="#abaab6"/>
<path d="M293.5,280.8 C292.4,278.7 296.1,277 302.5,270.6 C308.9,264.2 324.3,249.1 331.8,242.5 C339.3,235.9 329.9,233.1 347.5,231.2 C365.1,229.3 409,230.8 437.5,231.2 C466,231.6 504.9,220.7 518.5,233.5 C532.1,246.3 519.8,295 519,307.8 C518.2,320.6 516.3,310.6 514,310.4 C511.7,310.2 510.2,306.9 505,306.6 C499.8,306.4 490,307.8 482.5,308.9 C475,310 467.5,312.5 460,313.4 C452.5,314.3 442.8,315.1 437.5,314.5 C432.2,313.9 430.8,312.7 428.5,310 C426.2,307.3 427.4,300.3 424,298.1 C420.6,295.9 411.8,296.4 408.2,296.9 C404.6,297.4 404.8,298.8 402.6,301 C400.4,303.2 397.6,308.9 394.8,310 C392,311.1 388.4,309.8 385.8,307.8 C383.2,305.8 383.9,299.7 379,298.1 C374.1,296.5 361.8,297.2 356.5,298.1 C351.2,299 352.8,303.1 347.5,303.7 C342.2,304.2 329.9,303 325,301.4 C320.1,299.8 320.8,297.2 318.2,294.2 C315.6,291.2 313.3,285.6 309.2,283.4 C305.1,281.2 294.6,282.9 293.5,280.8Z" fill="#abaab6"/>
<path d="M347.5,346 C348.6,343.6 350.4,341.9 354.2,340.4 C357.9,338.9 365.9,339.1 370,337 C374.1,334.9 376.4,329.9 379,328 C381.6,326.1 384.3,325.1 385.8,325.8 C387.3,326.6 386.9,329.1 388,332.5 C389.1,335.9 391.4,342.6 392.5,346 C393.6,349.4 398.6,351.3 394.8,352.8 C391.1,354.3 377.9,354.6 370,355 C362.1,355.4 351.2,356.5 347.5,355 C343.8,353.5 346.4,348.4 347.5,346Z" fill="#abaab6"/>
<path d="M480,233.5 C487.1,220.8 515.5,223.1 522.8,235.8 C530.1,248.6 523,296.9 523.9,310 C524.8,323.1 528.2,312.6 528.4,314.5 C528.6,316.4 527.4,319.7 525,321.2 C522.6,322.7 518.3,323.9 513.8,323.5 C509.3,323.1 503.6,320.9 498,319 C492.4,317.1 483,326.4 480,312.2 C477,297.9 472.9,246.2 480,233.5Z" fill="#abaab6"/>
<path d="M554.2,237.6 C558.7,236.2 582.7,238.6 588,240.7 C593.3,242.8 587.3,247.5 585.8,250.4 C584.3,253.3 581.1,256.1 579,258.2 C576.9,260.3 575.3,263 573.4,262.8 C571.5,262.6 569.9,259.4 567.8,257.1 C565.7,254.8 563.3,252.4 561,249.2 C558.7,245.9 549.7,239 554.2,237.6Z" fill="#abaab6"/>
<path d="M606,242.5 C609.2,240.6 623.6,242.6 626.2,244.8 C628.8,247.1 623.7,253 621.8,256 C619.9,259 617.1,261.3 615,262.8 C612.9,264.3 610.7,266.1 609.4,265 C608.1,263.9 607.7,259.8 607.1,256 C606.5,252.2 602.8,244.4 606,242.5Z" fill="#abaab6"/>
<path d="M688.1,251.9 C693.9,247 719.4,253.4 723,255.6 C726.6,257.8 713.2,261.9 709.5,265 C705.8,268.1 702.9,271 700.5,274 C698.1,277 697,281.1 694.9,283 C692.8,284.9 689.2,290.4 688.1,285.2 C687,280 682.3,256.8 688.1,251.9Z" fill="#abaab6"/>
<path d="M737.6,355 C738.4,352.7 743.1,349.7 745.5,348.2 C747.9,346.7 751.1,343.4 752.2,346 C753.3,348.6 754.1,361.4 752.2,364 C750.3,366.6 743.4,363.3 741,361.8 C738.6,360.3 736.9,357.3 737.6,355Z" fill="#abaab6"/>
<path d="M522.3,366.2 C523.1,361.3 526.2,362.1 527.2,364 C528.2,365.9 529,372.6 528.6,377.5 C528.2,382.4 526,390.6 525,393.2 C524,395.8 522.8,397.7 522.3,393.2 C521.8,388.7 521.5,371.1 522.3,366.2Z" fill="#abaab6"/>
<path d="M772.9,262.5 C778.9,261.3 802.3,264.7 806.6,266.6 C810.9,268.5 800.7,270.7 798.8,273.8 C796.9,276.9 796.5,280.9 795.4,285 C794.3,289.1 793.7,294.8 792,298.5 C790.3,302.2 788,305.8 785.2,307.5 C782.4,309.2 777.5,309.7 775.1,308.6 C772.7,307.5 771,304.7 770.6,300.8 C770.2,296.9 772.9,289.5 772.9,285 C772.9,280.5 770.6,277.6 770.6,273.8 C770.6,270.1 766.9,263.7 772.9,262.5Z" fill="#abaab6"/>
<path d="M735.8,354.8 C736.2,351.4 737.6,347.9 742.5,345.8 C747.4,343.7 757.9,343.9 765,342.4 C772.1,340.9 780.1,337.7 785.2,336.8 C790.3,335.9 793.5,336.1 795.4,336.8 C797.3,337.5 797.8,339.3 796.5,341.2 C795.2,343.1 790.5,345.7 787.5,348 C784.5,350.3 779.2,351.8 778.5,354.8 C777.8,357.8 781.5,362.3 783,366 C784.5,369.7 786.4,373.4 787.5,377.2 C788.6,380.9 790.5,385.1 789.8,388.5 C789,391.9 785.3,395.2 783,397.5 C780.7,399.8 777.7,403.5 776.2,402 C774.7,400.5 775.3,393 774,388.5 C772.7,384 771.8,377.8 768.4,375 C765,372.2 758.5,373.1 753.8,371.6 C749.1,370.1 743.2,368.8 740.2,366 C737.2,363.2 735.4,358.2 735.8,354.8Z" fill="#abaab6"/>
<path d="M837,330 C838.5,325.9 841.5,321.4 846,318.8 C850.5,316.2 862.1,313.5 864,314.2 C865.9,314.9 860.2,320.6 857.2,323.2 C854.2,325.8 846.4,328.5 846,330 C845.6,331.5 850.5,332.2 855,332.2 C859.5,332.2 868.9,329.2 873,330 C877.1,330.8 878.5,333.1 879.8,336.8 C881.1,340.6 881.7,348.4 880.9,352.5 C880.1,356.6 878,358.1 875.2,361.5 C872.4,364.9 868.9,370.6 864,372.8 C859.1,375.1 852.4,375.8 846,375 C839.6,374.2 830.3,370.4 825.8,368.2 C821.3,365.9 818.6,364.1 819,361.5 C819.4,358.9 825,355.5 828,352.5 C831,349.5 835.5,347.2 837,343.5 C838.5,339.8 835.5,334.1 837,330Z" fill="#abaab6"/>
<path d="M918,321 C918.9,318.2 923.2,312.6 927,309.8 C930.8,307 937.1,304.5 940.5,304.1 C943.9,303.7 947.2,305.8 947.2,307.5 C947.2,309.2 943.5,311.9 940.5,314.2 C937.5,316.4 932.4,318.9 929.2,321 C926,323.1 923.3,326.6 921.4,326.6 C919.5,326.6 917.1,323.8 918,321Z" fill="#abaab6"/>
<path d="M958.5,287.2 C960.5,285.5 969,285.8 974.2,283.9 C979.5,282 985.1,277.7 990,276 C994.9,274.3 1001.2,272.3 1003.5,273.8 C1005.8,275.3 1008,281.9 1003.5,285 C999,288.1 982.9,290.1 976.5,292.2 C970.1,294.3 967.6,297.1 965.2,297.4 C962.8,297.7 963,295.7 961.9,294 C960.8,292.3 956.5,288.9 958.5,287.2Z" fill="#abaab6"/>
<path d="M616,416.2 C617.3,413.6 621.2,410.6 625,409.5 C628.8,408.4 634.8,408.4 638.5,409.5 C642.2,410.6 645.8,413 647.5,416.2 C649.2,419.4 650.9,426 648.6,428.6 C646.4,431.2 638.5,431.1 634,432 C629.5,432.9 624.4,435.3 621.6,434.2 C618.8,433.1 618,428.2 617.1,425.2 C616.2,422.2 614.7,418.8 616,416.2Z" fill="#abaab6"/>
<path d="M496.8,393.8 C498.7,390.4 504.8,390 508,387 C511.2,384 513.6,379.6 515.9,375.8 C518.1,372.1 519.8,366.6 521.5,364.5 C523.2,362.4 525.1,359.6 526,363.4 C526.9,367.1 526.7,379.3 527.1,387 C527.5,394.7 526.9,403.9 528.2,409.5 C529.5,415.1 532.4,417.8 535,420.8 C537.6,423.8 541,424.1 544,427.5 C547,430.9 551.1,436.5 553,441 C554.9,445.5 556.7,452.2 555.2,454.5 C553.7,456.8 549.6,457.5 544,454.5 C538.4,451.5 526,442.1 521.5,436.5 C517,430.9 518.5,425.3 517,420.8 C515.5,416.3 515.9,411.8 512.5,409.5 C509.1,407.2 499.4,409.8 496.8,407.2 C494.2,404.6 494.9,397.2 496.8,393.8Z" fill="#abaab6"/>
<path d="M347.5,231.2 L437.5,231.2 L437.5,297.6 L347.5,297.6Z" fill="#868f7b"/>
<path d="M99.2,293.6 C99.8,291.6 106.4,289 110.5,286.9 C114.6,284.8 120.3,281.9 124,281.2 C127.7,280.4 131.5,280.1 132.6,282.4 C133.7,284.7 131.9,289.9 130.8,294.8 C129.7,299.7 128.5,310.1 126.2,311.6 C123.9,313.1 120.4,305.9 117.2,303.8 C114,301.7 110.1,300.9 107.1,299.2 C104.1,297.5 98.6,295.7 99.2,293.6Z" fill="#6c5548"/>
<path d="M76.8,336.4 C79.4,329.1 87.6,336.9 92.5,338.6 C97.4,340.3 101.1,343.3 106,346.5 C110.9,349.7 117.5,354.8 121.8,357.8 C126.1,360.8 129.8,362.6 131.9,364.5 C134,366.4 136,367.8 134.1,369 C132.2,370.2 123.3,369.8 120.6,371.7 C117.9,373.6 118.1,376.9 117.7,380.2 C117.3,383.5 118.9,387.7 118.4,391.5 C118,395.3 117.4,400.9 115,402.8 C112.6,404.7 107.5,404.7 103.8,402.8 C100,400.9 97,394.9 92.5,391.5 C88,388.1 79.4,391.7 76.8,382.5 C74.2,373.3 74.2,343.7 76.8,336.4Z" fill="#6c5548"/>
<path d="M169,337.5 C171.4,336.2 176.8,336 180.2,336.4 C183.6,336.8 187.3,337.7 189.2,339.8 C191.1,341.9 191.9,345.4 191.5,348.8 C191.1,352.2 189.2,356.6 187,360 C184.8,363.4 180.1,365.6 178,369 C175.9,372.4 175,376.4 174.6,380.2 C174.2,383.9 173.4,387.4 175.8,391.5 C178.2,395.6 185.8,401.4 189.2,405 C192.6,408.6 197.1,411.8 196,412.9 C194.9,414 187.4,412.8 182.5,411.8 C177.6,410.9 170.1,409.8 166.8,407.2 C163.5,404.6 163.3,400.1 162.7,396 C162.1,391.9 162.3,387.4 163.4,382.5 C164.5,377.6 167.9,371.3 169,366.8 C170.1,362.3 170.7,359.3 170.1,355.5 C169.5,351.7 165.8,347.2 165.6,344.2 C165.4,341.2 166.6,338.8 169,337.5Z" fill="#6c5548"/>
<path d="M209.1,279 C210,276 215.7,275.6 217.4,279 C219.2,282.4 219,293.2 219.6,299.2 C220.2,305.2 219.9,310.5 221.2,315 C222.5,319.5 224.8,322.4 227.5,326.2 C230.2,329.9 234.8,333 237.6,337.5 C240.4,342 243.1,347.6 244.4,353.2 C245.7,358.8 245.7,364.8 245.5,371.2 C245.3,377.6 244.7,385.9 243.2,391.5 C241.7,397.1 239.1,400.9 236.5,405 C233.9,409.1 230.9,414.3 227.5,416.2 C224.1,418.1 217.9,419.6 216.2,416.2 C214.5,412.8 216.8,402.4 217.4,396 C218,389.6 218.3,384 219.6,378 C220.9,372 224.6,364.9 225.2,360 C225.8,355.1 223.9,352.6 223,348.8 C222.1,345.1 220.7,343.1 219.6,337.5 C218.5,331.9 217.5,321.8 216.2,315 C214.9,308.2 213,303 211.8,297 C210.6,291 208.2,282 209.1,279Z" fill="#6c5548"/>
<path d="M268,297 C270.6,292.9 279.3,289.8 283.8,290.2 C288.3,290.6 292.4,298.8 295,299.2 C297.6,299.6 297.6,295.1 299.5,292.5 C301.4,289.9 303.8,284.2 306.2,283.5 C308.6,282.8 313.6,287.9 314.1,288 C314.6,288.1 308.9,283.1 309.2,284.1 C309.5,285.1 314.7,289.9 316,294.2 C317.3,298.5 317.5,304.7 317.1,310 C316.7,315.3 316.2,321.3 313.8,325.8 C311.4,330.3 306.6,334.4 302.5,337 C298.4,339.6 292.2,338.5 289,341.5 C285.8,344.5 284.5,349 283.4,355 C282.3,361 282.8,370.4 282.2,377.5 C281.6,384.6 281.6,391 280,397.8 C278.4,404.6 274.3,418.8 272.5,418.5 C270.7,418.2 270.6,402.8 269.1,396 C267.6,389.2 264.1,384 263.5,378 C262.9,372 265.2,366.8 265.8,360 C266.4,353.2 266.5,345 266.9,337.5 C267.3,330 267.8,321.8 268,315 C268.2,308.2 265.4,301.1 268,297Z" fill="#6c5548"/>
<path d="M363.2,310 C364.9,308.1 371.5,309.7 374.5,307.8 C377.5,305.9 379.3,298.8 381.2,298.8 C383.1,298.8 383.5,305.9 385.8,307.8 C388.1,309.7 392,311.5 394.8,310.4 C397.6,309.3 400.2,303.2 402.6,301 C405,298.8 405.8,297.3 409.4,296.9 C413,296.4 420.8,296.1 424,298.3 C427.2,300.5 426.4,307.1 428.5,310 C430.6,312.9 435.3,312.6 436.4,315.6 C437.5,318.6 436.5,323.7 435.2,328 C433.9,332.3 430.4,337 428.5,341.5 C426.6,346 426.2,352.3 424,355 C421.8,357.7 419.5,357.9 415,357.7 C410.5,357.5 400.8,355.8 397,353.9 C393.2,351.9 394,349.6 392.5,346 C391,342.4 389.1,335.9 388,332.5 C386.9,329.1 387.3,326.6 385.8,325.8 C384.3,325.1 381.3,326.1 379,328 C376.7,329.9 373.9,337 372.2,337 C370.5,337 370.2,331 368.9,328 C367.6,325 365.3,322 364.4,319 C363.4,316 361.5,311.9 363.2,310Z" fill="#6c5548"/>
<path d="M521.6,233.9 C526.8,231.9 547.6,234.4 554.2,236.9 C560.8,239.4 558.7,245.7 561,249.2 C563.3,252.7 565.7,255.5 567.8,257.8 C569.9,260.1 571.5,262.9 573.4,263.2 C575.3,263.5 577.9,258 579,259.4 C580.1,260.8 580.5,267.1 580.1,271.8 C579.7,276.5 577.7,283.6 576.8,287.5 C575.9,291.4 573.8,290.9 574.5,295.4 C575.2,299.9 580.5,308.3 581.2,314.5 C582,320.7 579,326.9 579,332.5 C579,338.1 583.1,344.6 581.2,348.2 C579.3,351.8 572.7,352.6 567.8,354.3 C562.9,356 556.1,356.8 552,358.4 C547.9,360 547.1,363.1 543,364 C538.9,364.9 531,363.6 527.2,364 C523.5,364.4 522.4,363.9 520.5,366.2 C518.6,368.4 517.1,371.9 516,377.5 C514.9,383.1 514.2,394.4 513.8,400 C513.4,405.6 515.5,409.3 513.8,411.2 C512.1,413.1 505.1,413.1 503.6,411.2 C502.1,409.3 503.9,405.6 504.8,400 C505.7,394.4 507.3,385 509.2,377.5 C511.1,370 513.9,362.5 516,355 C518.1,347.5 520.5,338.9 521.6,332.5 C522.7,326.1 521.7,319.8 522.8,316.8 C523.9,313.8 526.9,318.3 528.4,314.5 C529.9,310.7 531,300.2 531.8,294.2 C532.5,288.2 534,283.4 532.9,278.5 C531.8,273.6 526.7,269.9 525,265 C523.3,260.1 523.4,254.4 522.8,249.2 C522.2,244 516.4,235.9 521.6,233.9Z" fill="#6c5548"/>
<path d="M723,256 C728.5,254.8 734.9,257.1 742.5,258 C750.1,258.9 763.3,259.7 768.4,261.5 C773.5,263.3 773,265.8 773,269 C773,272.2 769.4,276.7 768.4,280.5 C767.4,284.3 768.2,287.6 767.2,291.8 C766.3,295.9 763.1,300.8 762.8,305.2 C762.4,309.8 764.5,314.6 765,318.8 C765.5,322.9 766.2,326.6 766,330 C765.8,333.4 767.2,336.8 764,339 C760.8,341.2 750.6,344.2 747,343.5 C743.4,342.8 743.1,338.6 742.5,334.5 C741.9,330.4 744,323.2 743.6,318.8 C743.2,314.2 742.4,310 740,307.5 C737.6,305 731.8,304 729,304 C726.2,304 725.5,308.2 723,307.8 C720.5,307.2 717,304.4 714,301 C711,297.6 708,290.7 705,287.5 C702,284.3 696.6,284.2 696,282 C695.4,279.8 699.4,276.8 701.6,274 C703.9,271.2 705.9,268 709.5,265 C713.1,262 717.5,257.2 723,256Z" fill="#6c5548"/>
<path d="M857.2,330 C856.5,328.7 867.7,327 873,326.6 C878.3,326.2 883.2,326.9 888.8,327.8 C894.4,328.7 905.3,330 906.8,332.2 C908.3,334.4 900.8,338.2 897.8,341.2 C894.8,344.2 891.4,347.6 888.8,350.2 C886.2,352.8 883.3,358.5 882,357 C880.7,355.5 881.6,344.9 880.9,341.2 C880.1,337.4 881.5,336.4 877.5,334.5 C873.5,332.6 858,331.3 857.2,330Z" fill="#6c5548"/>
<path d="M784.1,355.9 C788.4,354 804.2,353.9 810,354.8 C815.8,355.7 816.4,359.3 819,361.5 C821.6,363.7 821.3,365.9 825.8,368.2 C830.3,370.4 844.9,373.1 846,375 C847.1,376.9 838.5,378 832.5,379.5 C826.5,381 816,382.7 810,384 C804,385.3 799.5,386.3 796.5,387.4 C793.5,388.5 793.3,392.5 792,390.8 C790.7,389.1 789.9,381.3 788.6,377.2 C787.3,373.1 784.9,369.6 784.1,366 C783.4,362.4 779.8,357.8 784.1,355.9Z" fill="#6c5548"/>
<path d="M768.4,397.5 C769.1,393.9 771.6,385.4 772.9,386.2 C774.2,386.9 777,398.4 776.2,402 C775.5,405.6 769.7,408.4 768.4,407.6 C767.1,406.9 767.6,401.1 768.4,397.5Z" fill="#6c5548"/>
<path d="M541.8,400.5 C542.9,398.6 546.7,395.9 550.8,393.8 C554.9,391.7 560.9,389.8 566.5,388.1 C572.1,386.4 580,384 584.5,383.6 C589,383.2 593.5,384.8 593.5,385.9 C593.5,387 587.9,388.7 584.5,390.4 C581.1,392.1 577.3,394.1 573.2,396 C569.1,397.9 564.7,400.1 559.8,401.6 C554.9,403.1 547,405.2 544,405 C541,404.8 540.7,402.4 541.8,400.5Z" fill="#6c5548"/>
<path d="M583.5,310 C583.1,314.5 581.2,322.1 579,325.8 C576.8,329.6 574.1,330.3 570,332.5 C565.9,334.7 559.5,337.2 554.2,339.2 C549,341.1 542,343.8 538.5,344.2 C535,344.6 533.3,343.1 532.9,341.5 C532.5,339.9 534.2,337.1 536.2,334.8 C538.2,332.6 542.2,329.6 545.2,328 C548.2,326.4 553.8,326.4 554.2,325.3 C554.6,324.2 549.7,323.8 547.5,321.2 C545.3,318.6 540.8,313.4 540.8,310 C540.8,306.6 543.4,302.9 547.5,301 C551.6,299.1 561,299.7 565.5,298.8 C570,297.9 571.9,295.4 574.5,295.4 C577.1,295.4 579.7,296.4 581.2,298.8 C582.7,301.2 583.9,305.5 583.5,310Z" fill="#868f7b"/>
<path d="M985,300 L995,272 L1075,140 L1112,110 L1195,110 L1195,300Z" fill="#68744f"/>
<path d="M986.7,282 C991.1,275.9 1003.3,264.2 1013.3,258.7 C1023.3,253.1 1038.9,256.5 1046.7,248.7 C1054.5,240.9 1055,219.8 1060,212 C1065,204.2 1071.2,197 1076.7,202 C1082.2,207 1087.8,234.2 1093.3,242 C1098.8,249.8 1106.9,243.1 1110,248.7 C1113.1,254.2 1113.4,268.6 1111.7,275.3 C1110,282 1120.8,285.4 1100,288.7 C1079.2,292 1005.6,296.4 986.7,295.3 C967.8,294.2 982.3,288.1 986.7,282Z" fill="#868f7b"/>
<path d="M1070,168.7 C1080.3,164.3 1104.8,155.4 1111.7,168.7 C1118.7,182 1113.7,233.7 1111.7,248.7 C1109.8,263.7 1104.2,258.7 1100,258.7 C1095.8,258.7 1090.6,252.6 1086.7,248.7 C1082.8,244.8 1080.6,240.9 1076.7,235.3 C1072.8,229.7 1067.2,219.2 1063.3,215.3 C1059.4,211.4 1055.5,215.3 1053.3,212 C1051.1,208.7 1047.2,202.5 1050,195.3 C1052.8,188.1 1059.7,173.1 1070,168.7Z" fill="#68744f"/>
<path d="M1046.7,275.3 C1052.8,272 1058.9,270.4 1066.7,268.7 C1074.5,267 1085.8,266.4 1093.3,265.3 C1100.8,264.2 1108.6,259.2 1111.7,262 C1114.8,264.8 1114.8,277.6 1111.7,282 C1108.6,286.4 1100.8,287.3 1093.3,288.7 C1085.8,290.1 1077.2,290.3 1066.7,290.3 C1056.2,290.3 1033.3,291.2 1030,288.7 C1026.7,286.2 1040.6,278.6 1046.7,275.3Z" fill="#6c5548"/>
<path d="M996.7,282 C1001.2,278.7 1001.7,273.1 1006.7,270.3 C1011.7,267.5 1021.2,265 1026.7,265.3 C1032.2,265.6 1039.5,268.9 1040,272 C1040.5,275.1 1034.5,280.9 1030,283.7 C1025.5,286.5 1018.3,285.6 1013.3,288.7 C1008.3,291.8 1004.4,299.2 1000,302 C995.6,304.8 993.4,303.1 986.7,305.3 C980,307.5 965,315.9 960,315.3 C955,314.8 953.4,306.2 956.7,302 C960,297.8 973.3,293.6 980,290.3 C986.7,287 992.2,285.3 996.7,282Z" fill="#abaab6"/>
<path d="M60,372 C63.2,355 73.6,375.3 79,378 C84.4,380.7 87.8,384.6 92.5,388 C97.2,391.4 101.4,396.6 107,398.7 C112.6,400.8 119.8,400.3 126,400.5 C132.2,400.7 138,400.2 144,400 C150,399.8 158.2,398.6 162,399.4 C165.8,400.2 162.8,403.1 167,405 C171.2,406.9 182.9,409.1 187,410.6 C191.1,412.1 186.5,413.4 191.5,414 C196.5,414.6 211.9,413 217,414 C222.1,415 219,417.3 222,420 C225,422.7 230.3,427.2 235,430 C239.7,432.8 245.5,435.8 250,437 C254.5,438.2 257,438.5 262,437 C267,435.5 275,431.2 280,428 C285,424.8 287,418.5 292,418 C297,417.5 307,414.7 310,425 C313,435.3 351.7,470.8 310,480 C268.3,489.2 101.7,498 60,480 C18.3,462 56.8,389 60,372Z" fill="#d2d9df"/>
<path d="M555.2,459 C554.4,454.6 549.6,456 555.2,453.4 C560.8,450.8 577.7,446.4 589,443.2 C600.3,440 613,436.4 622.8,434.2 C632.5,432 640.4,431.7 647.5,429.8 C654.6,427.9 660.2,425.6 665.5,423 C670.8,420.4 673.8,416.6 679,414 C684.2,411.4 691,408.7 697,407.2 C703,405.7 708.6,404.6 715,405 C721.4,405.4 730.6,408.7 735.2,409.5 C739.8,410.3 737.5,410.1 742.5,409.9 C747.5,409.7 759.8,409.2 765,408.3 C770.2,407.4 771,406 774,404.2 C777,402.4 779.2,400.4 783,397.5 C786.8,394.6 792,389.2 796.5,386.7 C801,384.1 804,383.5 810,382.2 C816,380.9 826.5,380.1 832.5,379.1 C838.5,378.1 840.8,377.2 846,376.1 C851.2,375.1 858,375.8 864,372.8 C870,369.8 877.9,361.9 882,358.1 C886.1,354.3 886.2,353 888.8,350.2 C891.4,347.4 894.8,344.2 897.8,341.2 C900.8,338.2 902.7,335 906.8,332.2 C910.9,329.4 916.1,327.9 922.5,324.4 C928.9,320.8 936.4,316.1 945,310.9 C953.6,305.6 966.7,297.8 974.2,292.9 C981.7,288 984,280.4 990,281.6 C996,282.8 975.8,293.6 1010,300 C1044.2,306.4 1164.2,298.3 1195,320 C1225.8,341.7 1244.2,403.3 1195,430 C1145.8,456.7 1005.8,471.7 900,480 C794.2,488.3 617.5,483.5 560,480 C502.5,476.5 556,463.4 555.2,459Z" fill="#d2d9df"/>
<path d="M724,249.7 L1041.7,382.2 L1040.6,384.9 L722.9,252.4Z" fill="#e41f26"/>
<path d="M722.9,252.4 L1040.6,384.9 L1039.5,387.4 L721.9,254.9Z" fill="#ffffff"/>
<path d="M721.9,254.9 L1039.5,387.4 L1038.5,389.9 L720.8,257.4Z" fill="#1b9fdd"/>
</g>
<g clip-path="url(#p2_clip)">
<rect x="1110.5" y="110" width="21" height="290" fill="#1b9fdd"/>
<rect x="1131.5" y="110" width="19" height="290" fill="#ffffff"/>
<rect x="1150.5" y="110" width="40" height="290" fill="#e41f26"/>
</g>
<path d="M292,418 L307,391 C313,372 327,354 347,352 L375,351.5 C400,352 425,356 438,362 C450,367 465,380 478,391 L555,453 L548,460 L300,462 Z" fill="#d2d9df" stroke="#2b2b2b" stroke-width="0.8"/>
<ellipse cx="396.7" cy="392" rx="78" ry="11.3" fill="#e41f26"/>
<ellipse cx="395" cy="392" rx="52" ry="6.3" fill="#fff"/>
<ellipse cx="396" cy="392" rx="25.5" ry="3.9" fill="#1b9fdd"/>
<path d="M355,415 C357,412 362,411.5 366,411.5 L452,412.5 C456,413 457,415 456,418 C455,421 452,422 448,422 L366,422.5 C360,422.5 356,420 355,415Z" fill="#1b1b1b"/>
<rect x="371" y="414.3" width="21" height="5" rx="2.4" fill="#d2d9df"/>
<rect x="412" y="414.3" width="30" height="5" rx="2.4" fill="#d2d9df"/>
<path d="M356,437 C358,434 362,433 366,433.5 L398,436 L399,440 C385,444 366,443 356,437Z" fill="#1b1b1b"/>
<path d="M430,434 L452,434 C457,435 457,441 452,443 L437,442 C437,439 434,437 430,434Z" fill="#1b1b1b"/>
<path d="M362,428 C390,436 420,436 450,427" fill="none" stroke="#2b2b2b" stroke-width="0.7"/>
<path d="M418,357 L456.7,416.7 L481.7,468 M428,360 L466,416 L492,461 M308,392 C330,380 380,376 470,385 M344.8,352 L344.8,400" fill="none" stroke="#2b2b2b" stroke-width="0.7"/>
<path d="M247.5,452 L307,457 M350,460 L350,477" fill="none" stroke="#2b2b2b" stroke-width="0.7"/>
<path d="M228,253 L228,266.7 L296.7,266 M273,280 L276.5,266.7 M282,279 L279,266.7 M296.7,266 L299,259" fill="none" stroke="#444" stroke-width="1.1"/>
<path d="M946.2,307.5 C946.4,305.7 949.4,304.4 952.5,303 C955.6,301.6 957.1,300.8 965,299 C972.9,297.2 985.8,293.7 1000,292 C1014.2,290.3 1033.3,288.7 1050,288.8 C1066.7,288.9 1083.3,290.6 1100,292.5 C1116.7,294.4 1140.3,298 1150,300 C1159.7,302 1158,303.2 1158,304.5 C1158,305.8 1155.5,306.8 1150,308 C1144.5,309.2 1133.3,310.3 1125,311.5 C1116.7,312.7 1108.3,313.5 1100,315 C1091.7,316.5 1083.3,319 1075,320.5 C1066.7,322 1060.4,323.5 1050,324 C1039.6,324.5 1023.8,324.1 1012.5,323.5 C1001.2,322.9 990.8,321.6 982.5,320.5 C974.2,319.4 967.7,318.1 962.5,317 C957.3,315.9 953.9,315.4 951.2,313.8 C948.5,312.2 946,309.3 946.2,307.5Z" fill="#d2d9df" stroke="#2b2b2b" stroke-width="0.8"/>
<path d="M1000,293.8 C1000.8,292.6 1015.8,291.1 1025,290.5 C1034.2,289.9 1046.7,289.9 1055,290.5 C1063.3,291.1 1075.8,292.6 1075,293.8 C1074.2,295 1059.2,296.8 1050,297.5 C1040.8,298.2 1028.3,298.6 1020,298 C1011.7,297.4 999.2,295.1 1000,293.8Z" fill="none" stroke="#2b2b2b" stroke-width="0.6"/>
<path d="M982.5,320.0 L1017.5,293.8 M997.5,317.0 L1025.0,297.5 M1070.0,295.0 L1085.0,317.5 M1090.0,294.5 L1107.5,313.0 M965.0,322.5 L965.0,334.5 M965.0,334.5 L1075.0,335.0 M1075.0,320.5 L1075.0,335.0 M971.2,335.0 L971.2,408.8 M1100.0,315.0 L1100.0,390.0 M1017.5,310.0 L1017.5,320.0 M1028.8,301.2 L1028.8,320.0 M1052.5,301.2 L1052.5,320.0" fill="none" stroke="#2b2b2b" stroke-width="0.7"/>
<path d="M1059,312.5 L1065,312.5 L1058,390 L1053.5,390Z" fill="#c4c9cf" stroke="#2b2b2b" stroke-width="0.7"/>
<path d="M1057.5,310 L1065.5,310 L1065.5,313 L1057.5,313Z" fill="#c4c9cf" stroke="#2b2b2b" stroke-width="0.6"/>
<path d="M1047.5,391.2 C1048.3,390.1 1051.7,388.3 1055,388 C1058.3,387.7 1065,388.8 1067.5,389.5 C1070,390.2 1070.8,391.6 1070,392.5 C1069.2,393.4 1065.8,394.7 1062.5,395 C1059.2,395.3 1052.5,395.1 1050,394.5 C1047.5,393.9 1046.7,392.3 1047.5,391.2Z" fill="#d2d9df" stroke="#2b2b2b" stroke-width="0.7"/>
<rect x="1059" y="372" width="13.5" height="17" rx="2" fill="none" stroke="#2b2b2b" stroke-width="0.7"/>
<ellipse cx="956.5" cy="393" rx="7" ry="5" fill="none" stroke="#2b2b2b" stroke-width="0.7"/>
<rect x="357.6" y="235.8" width="34.2" height="10.1" rx="2.25" fill="#fbfcfc" stroke="#2b2b2b" stroke-width="0.7"/>
<rect x="397" y="235.8" width="33.8" height="10.1" rx="2.25" fill="#fbfcfc" stroke="#2b2b2b" stroke-width="0.7"/>
<rect x="357.6" y="250.4" width="73.2" height="45.7" rx="2.7" fill="#fbfcfc" stroke="#2b2b2b" stroke-width="0.7"/>
<path d="M304.3,272.2 C304,270.5 314.4,262 317.1,259.4 C319.8,256.8 329.1,247.5 331.3,246.3 C333.5,245.1 337.3,246.8 338.9,247 C340.5,247.2 346.3,246.8 347.1,248.8 C347.9,250.8 347.1,263.4 347.1,267.2 C347.1,271 348.2,285.2 347.1,286.6 C346,288 338.9,282.6 336.2,281.6 C333.5,280.6 323.7,277.1 320.5,276.2 C317.3,275.3 304.6,273.9 304.3,272.2Z" fill="#fbfcfc" stroke="#2b2b2b" stroke-width="0.7"/>
<path d="M440.9,256 C441.6,253.2 443.1,249.9 445.4,248.8 C447.7,247.7 452.9,247.4 457.8,248.1 C462.7,248.8 477,252.1 482.5,254.2 C488,256.3 496.3,261.9 499.4,263.9 C502.5,265.9 505.5,267.6 505.5,269.1 C505.5,270.6 502.5,273 499.4,275.1 C496.3,277.2 488,282.5 482.5,284.8 C477,287.1 462.7,291.4 457.8,292.4 C452.9,293.4 447.7,293.4 445.4,292.4 C443.1,291.4 440.9,288.3 440.2,285.2 C439.5,282.1 439.7,273.4 439.8,269.5 C439.9,265.6 440.2,258.8 440.9,256Z" fill="#fbfcfc" stroke="#2b2b2b" stroke-width="0.8"/>
<rect x="436.4" y="301.4" width="73.6" height="5" fill="#444" stroke="#2b2b2b" stroke-width="0.5"/>
<path d="M544,141 L547.5,141 L544,234 L538.5,234Z" fill="#6c5548" stroke="#333" stroke-width="0.5"/>
<path d="M190.4,319.5 L218.5,319.5 L218.5,361.1 L191.1,361.1Z" fill="#635d5a" stroke="#2b2b2b" stroke-width="0.6"/>
<path d="M189.2,378 L217.8,378 L216.7,411.3 L188.8,410.6Z" fill="#635d5a" stroke="#2b2b2b" stroke-width="0.6"/>
<path d="M187.4,419.6 L215.8,420.3 L214,437 L185.9,436.1Z" fill="#635d5a" stroke="#2b2b2b" stroke-width="0.6"/>
<rect x="140" y="415" width="35" height="6" rx="1.5" fill="#9b9b9b" stroke="#2b2b2b" stroke-width="0.6"/>
<rect x="180" y="416.5" width="68" height="3" fill="#9b9b9b" stroke="#2b2b2b" stroke-width="0.5"/>
<rect x="247.5" y="415.5" width="45" height="5.5" fill="#9b9b9b" stroke="#2b2b2b" stroke-width="0.6"/>
<rect x="133" y="294.8" width="39.4" height="9" rx="4.5" fill="none" stroke="#2b2b2b" stroke-width="0.7"/>
<rect x="134.1" y="325.1" width="39.4" height="11.3" rx="5.6" fill="none" stroke="#2b2b2b" stroke-width="0.7"/>
<rect x="135.2" y="360" width="40.1" height="13.1" rx="6.6" fill="none" stroke="#2b2b2b" stroke-width="0.7"/>
<rect x="133" y="400.5" width="40.5" height="10.1" rx="5.1" fill="none" stroke="#2b2b2b" stroke-width="0.7"/>
<rect x="130.3" y="428.6" width="38.7" height="6.1" rx="3" fill="none" stroke="#2b2b2b" stroke-width="0.7"/>
<ellipse cx="334.7" cy="304.8" rx="13" ry="5" fill="none" stroke="#2b2b2b" stroke-width="0.7"/>
<ellipse cx="335.7" cy="304.8" rx="10" ry="3.4" fill="none" stroke="#2b2b2b" stroke-width="0.6"/>
<ellipse cx="526.4" cy="303.7" rx="17" ry="5" fill="none" stroke="#2b2b2b" stroke-width="0.7"/>
<ellipse cx="527.4" cy="303.7" rx="14" ry="3.4" fill="none" stroke="#2b2b2b" stroke-width="0.6"/>
<path d="M1056,400 L1097.5,392.5 L1086,414 L1080,412.5Z" fill="#4d4d4d"/>
<path d="M1081,412 L1087,414 L1094,424 L1089,425Z" fill="#6a6a6a"/>
<ellipse cx="1096" cy="425.5" rx="13.5" ry="6" transform="rotate(-14 1096 425.5)" fill="#6f6f6f"/>
<g stroke="#2b2b2b" stroke-width="0.8" fill="none"><path d="M121.8,283.1 C122.3,292.2 124.2,318.7 125.1,337.5 C126,356.3 126.8,379.5 127.4,396 C128,412.5 128.7,429.8 128.9,436.5" fill="none"/>
<path d="M84.6,306 C84.9,315 85.5,340.1 86.2,360 C87,379.9 88.6,414.3 89.1,425.2" fill="none"/>
<path d="M185.9,281.2 C186.4,291.7 187.9,322.1 188.8,344.2 C189.7,366.3 191.1,402.4 191.5,414" fill="none"/>
<path d="M216.2,282.4 C216.6,292.7 218.3,322.3 218.5,344.2 C218.7,366.1 217.6,402.4 217.4,414" fill="none"/>
<path d="M268,280.1 C267.2,285.9 265,301.7 263.5,315 C262,328.3 260.2,346.5 259,360 C257.8,373.5 256.8,390 256.3,396" fill="none"/>
<path d="M344.8,310 L344.8,352.3" fill="none"/>
<path d="M516.2,236.9 L515.1,391" fill="none"/>
<path d="M521.9,236.9 L521.9,391" fill="none"/>
<path d="M280,310 L347.5,310" fill="none"/>
<path d="M344.8,338.1 L515.1,338.1" fill="none"/>
<path d="M521.6,294.2 L750,292.4" fill="none"/>
<path d="M720,292.9 L888.8,290.6 L963,288.4" fill="none"/>
<path d="M521.6,374.8 L750,373" fill="none"/>
<path d="M720,372.8 L888.8,371.2" fill="none"/>
<path d="M605.5,243.6 L605.5,293.8" fill="none"/>
<path d="M686.5,252.6 L686.5,293.1" fill="none"/>
<path d="M767.2,261.8 L767.2,292.9" fill="none"/>
<path d="M806.6,267.4 L806.6,291.8" fill="none"/>
<path d="M848.7,273.3 L848.7,291.3" fill="none"/>
<path d="M888.8,290.6 L888.8,420" fill="none"/>
<path d="M478,391 C540,392 600,398 640,412 C660,420 668,432 669,450 M522,402.7 L667,402.7 L667,442" fill="none"/>
<path d="M1110.5,123.5 L1110.5,387.5" fill="none"/>
<path d="M1060,171 L1168,171" fill="none"/>
<path d="M1093.8,130 L1013.8,286" fill="none"/>
<path d="M1105,125 L1105,171" fill="none"/></g>
<rect x="1069.7" y="183.7" width="32.59999999999991" height="60.0" fill="#fdfdfd"/>
<rect x="1069.7" y="236.3" width="32.59999999999991" height="7.399999999999977" fill="#2f9a44"/>
<path d="M1080.7,210.3 C1082.9,209.1 1090.4,207.1 1092.3,208 C1094.2,208.9 1094.5,213.6 1095,217 C1095.5,220.4 1095.7,231 1096.3,233.7 C1096.9,236.4 1102.5,236.8 1099.7,237.3 C1096.9,237.8 1077.9,238.9 1075,237.3 C1072.1,235.7 1077.6,228 1077.7,225.3 C1077.8,222.6 1075.3,219 1075.7,217 C1076.1,215 1078.5,211.5 1080.7,210.3Z" fill="#2f9a44"/>
<path d="M1078.3,200.3 C1079.2,198.4 1082.9,197.8 1085,198 C1087.1,198.2 1089.9,199.6 1091,201.3 C1092.1,203 1092.5,206.2 1091.7,208 C1090.9,209.8 1088.3,211.8 1086.3,212 C1084.3,212.2 1081,211.2 1079.7,209.3 C1078.4,207.4 1077.4,202.2 1078.3,200.3Z" fill="#f0c8a2"/>
<path d="M1079,199.3 C1078.5,198.3 1079.5,194.6 1081,192.7 C1082.5,190.8 1085.5,188.8 1088.3,188 C1091.1,187.2 1096.3,186.7 1097.7,188 C1099.1,189.3 1097.8,193.7 1096.7,196 C1095.6,198.3 1093.1,201.6 1091,202 C1088.9,202.4 1086.3,199.1 1084.3,198.7 C1082.3,198.2 1079.5,200.3 1079,199.3Z" fill="#4aa4e2"/>
<circle cx="1083.0" cy="206.0" r="1.3" fill="#d9342b"/>
<path d="M1075,217 C1075.1,215.9 1077.8,214.4 1079,214.7 C1080.2,215 1082.4,217.6 1082.3,218.7 C1082.2,219.8 1079.5,221.6 1078.3,221.3 C1077.1,221 1074.9,218.1 1075,217Z" fill="#f0c8a2"/>
<path d="M1078.3,234.7 C1078.3,233.8 1081,232.6 1082.3,232.7 C1083.6,232.8 1086.3,234.4 1086.3,235.3 C1086.3,236.2 1083.6,238.1 1082.3,238 C1081,237.9 1078.3,235.6 1078.3,234.7Z" fill="#8a5a3a"/>
<path d="M1089.7,234.7 C1089.8,233.8 1092.9,232.5 1094.3,232.7 C1095.7,232.9 1098.4,235.1 1098.3,236 C1098.2,236.9 1095.1,238.2 1093.7,238 C1092.3,237.8 1089.6,235.6 1089.7,234.7Z" fill="#8a5a3a"/>
<g font-family="'Liberation Sans',Arial,sans-serif" font-size="7.6" fill="#333" letter-spacing="0.9">
<text x="1126" y="192.6">BLOCH</text><text x="1126" y="210.6">152.C1</text><text x="1127" y="225.6">N° 231</text></g>
<path d="M1118.8,235 L1165,235 C1158,238.5 1150,240.5 1142.5,241.3 C1134,240.5 1126,238.5 1118.8,235Z" fill="#e9c83a" stroke="#e08a1e" stroke-width="0.5"/>
<rect x="1133" y="235.6" width="18" height="3.2" fill="#f4e27a"/>
<text x="765.5" y="364" font-family="Liberation Sans,Arial,sans-serif" font-size="20.5" fill="#e3262d" textLength="26" lengthAdjust="spacingAndGlyphs">231</text>
<circle cx="647.3" cy="336.3" r="72" fill="#e41f26"/><circle cx="647.3" cy="336.3" r="48.4" fill="#fff"/><circle cx="647.3" cy="336.3" r="24.2" fill="#1b9fdd"/>
<path d="M80,330 L80,308 C81,296 95,286 122,283 L268,280 L270,279.5 L298,274 L330.6,242.5 C336,237 341,233.5 348,233 L436.4,233 L436.4,234.5 L545,238 L624,246 L702,254 L750,259.5 L950,286.7 C968,288.5 984,284 995,272.5 L1075,147.5 C1083,135 1097,124 1112.5,123 L1140,125 C1155,129 1163,143 1165,157.5 L1171,228 L1176,232 L1177,292 L1173,296 L1175,337.5 C1175,360 1166,374 1150,379.5 L1110,387.5 L1050,400 L900,419 L887,421.5 L670,442 L555,453 L548,458 L460,462 L350,460 L307,457 L250,452 L247,440 L126,438.8 C100,436 83,428 80,414 Z" fill="none" stroke="#2b2b2b" stroke-width="0.9"/>
</g>
<defs><path id="t1_o" d="M65,1211.7 C65.5,1210.6 65.8,1207.1 68.3,1205 C70.8,1202.9 75.3,1200.7 80,1199.3 C84.7,1197.9 91.7,1196.6 96.7,1196.7 C101.7,1196.8 103.9,1197.5 110,1200 C116.1,1202.5 126.6,1208.1 133.3,1211.7 C140,1215.3 145.6,1218.8 150,1221.7 C154.4,1224.6 156.1,1227.2 160,1229 C163.9,1230.8 168.9,1232.7 173.3,1232.5 C177.8,1232.3 182.2,1230.6 186.7,1228 C191.1,1225.4 196.1,1220.8 200,1216.7 C203.9,1212.6 201.7,1215 210,1203.3 C218.3,1191.6 236.1,1166.7 250,1146.7 C263.9,1126.7 282.8,1098.9 293.3,1083.3 C303.9,1067.7 298.9,1076.1 313.3,1053.3 C327.8,1030.5 367.6,966.4 380,946.7 C392.4,927 384.7,938.9 388,935 C391.3,931.1 396.2,926 400,923.3 C403.8,920.5 407.1,919.5 411,918.5 C414.9,917.5 419.1,917 423.3,917.3 C427.5,917.5 432.1,918.4 436,920 C439.9,921.6 443.5,923.7 446.7,926.7 C449.9,929.7 452.8,933.6 455,938 C457.2,942.4 458.9,946.3 460,953.3 C461.1,960.3 462.2,970 461.7,980 C461.1,990 459.5,1001.6 456.7,1013.3 C453.9,1025 448.9,1036.7 445,1050 C441.1,1063.3 439.1,1073.8 433.3,1093.3 C427.5,1112.8 419.4,1135 410,1166.7 C400.6,1198.4 383.9,1256.6 376.7,1283.3 C369.5,1310 368.1,1318.2 366.7,1326.7 C365.2,1335.2 366.9,1331.6 368,1334 C369.1,1336.4 371,1339.2 373,1341 C375,1342.8 370.5,1339.5 380,1345 C389.5,1350.5 413.3,1363.8 430,1373.8 C446.7,1383.8 463.3,1394.4 480,1405 C496.7,1415.6 513,1426.5 530,1437.5 C547,1448.5 573.3,1465.4 582,1471 L588.3,1471 C600.8,1458.6 649.5,1410 663.3,1396.7 C677.1,1383.4 668.2,1392.4 671,1391 C673.8,1389.6 675.2,1387.9 680,1388.3 C684.8,1388.7 692.2,1389.7 700,1393.3 C707.8,1396.9 721.2,1404.4 726.7,1410 C732.2,1415.6 732.8,1418.4 733.3,1426.7 C733.8,1435 733.9,1443.3 730,1460 C726.1,1476.7 715,1513.9 710,1526.7 C705,1539.5 703.9,1534.8 700,1536.7 C696.1,1538.6 690.6,1538.9 686.7,1538.3 C682.8,1537.7 683.1,1537.2 676.7,1533.3 C670.3,1529.4 653,1518 648.3,1515 L648.3,1515 L703.3,1559 L703.3,1559 L636.7,1540.7 L636.7,1540.7 C638.9,1541.5 643.3,1542.9 650,1545.7 C656.7,1548.5 671.2,1553.7 676.7,1557.3 C682.2,1560.9 682.8,1563.4 683.3,1567.3 C683.8,1571.2 689.4,1566.2 680,1580.7 C670.6,1595.2 637.2,1640.1 626.7,1654 C616.2,1667.9 621.2,1662 616.7,1664 C612.2,1666 606.7,1666.5 600,1665.7 C593.3,1664.9 583.9,1662.1 576.7,1659 C569.5,1655.9 561.7,1652 556.7,1647.3 C551.7,1642.6 548.4,1636.2 546.7,1630.7 C545,1625.2 543.9,1633.1 546.7,1614 C549.5,1594.9 560.5,1532.3 563.3,1516 L563.3,1515 C557.8,1512.9 543.9,1507.9 530,1502.5 C516.1,1497.1 496.7,1489.2 480,1482.5 C463.3,1475.8 446.7,1469.2 430,1462.5 C413.3,1455.8 396.7,1449.4 380,1442.5 C363.3,1435.6 340.7,1424.7 330,1421.2 C319.3,1417.8 320.2,1421 316,1422 C311.8,1423 309.8,1424.5 305,1427.5 C300.2,1430.5 296.1,1430 287.5,1440 C278.9,1450 267.9,1467.2 253.3,1487.3 C238.7,1507.4 218.9,1534 200,1560.7 C181.1,1587.4 156.7,1625.6 140,1647.3 C123.3,1669 111.1,1680.1 100,1690.7 C88.9,1701.3 82.2,1705.4 73.3,1710.7 C64.4,1716 54.5,1720.6 46.7,1722.3 C38.9,1724 32,1723.2 26.7,1720.7 C21.4,1718.2 17.2,1712.9 15,1707.3 C12.8,1701.7 12.8,1694 13.3,1687.3 C13.9,1680.6 15,1677.3 18.3,1667.3 C21.6,1657.3 25.2,1649.5 33.3,1627.3 C41.4,1605.1 55,1566.2 66.7,1534 C78.4,1501.8 93.3,1461.9 103.3,1434 C113.3,1406.1 122,1380.7 126.7,1366.7 C131.4,1352.7 131.1,1356.1 131.7,1350 C132.2,1343.9 131.4,1335.5 130,1330 C128.6,1324.5 128.8,1319.5 123.3,1316.7 C117.8,1313.9 106.1,1315.8 96.7,1313.3 C87.3,1310.8 74.5,1305.6 66.7,1301.7 C58.9,1297.8 54.2,1295.8 50,1290 C45.8,1284.2 42.8,1272 41.7,1266.7 C40.6,1261.4 43,1259.7 43.3,1258.3 Z"/><clipPath id="t1_clip"><use href="#t1_o" transform="translate(0,0)"/></clipPath></defs>
<defs><clipPath id="t1_lclip"><use href="#t1_o"/></clipPath></defs>
<g transform="translate(0,0)">
<line x1="235" y1="1052.7" x2="294" y2="1082" stroke="#555" stroke-width="2.6"/><line x1="235" y1="1052.7" x2="294" y2="1082" stroke="#9a9a9a" stroke-width="1.4"/>

<line x1="163.3" y1="1106.7" x2="251" y2="1150.5" stroke="#555" stroke-width="2.6"/><line x1="163.3" y1="1106.7" x2="251" y2="1150.5" stroke="#9a9a9a" stroke-width="1.4"/><line x1="165.08926223740878" y1="1107.5936110148064" x2="176.71946678056577" y2="1113.4020826110466" stroke="#6a6a6a" stroke-width="4.2" stroke-linecap="round"/>
<line x1="20" y1="1389.3" x2="107.5" y2="1433.5" stroke="#555" stroke-width="2.6"/><line x1="20" y1="1389.3" x2="107.5" y2="1433.5" stroke="#9a9a9a" stroke-width="1.4"/><line x1="21.78516696054914" y1="1390.2017643389288" x2="33.38875220411856" y2="1396.063232541966" stroke="#6a6a6a" stroke-width="4.2" stroke-linecap="round"/>
<path d="M65,1211.7 C60.8,1211.1 47.5,1208.3 40,1208.3 C32.5,1208.3 24.7,1210 20,1211.7 C15.3,1213.4 13.1,1215.8 11.7,1218.3 C10.3,1220.8 10.3,1223.1 11.7,1226.7 C13.1,1230.3 16.4,1235.8 20,1240 C23.6,1244.2 29.4,1248.7 33.3,1251.7 C37.2,1254.8 41.6,1257.2 43.3,1258.3 Z" fill="#3c3c3c" stroke="#222" stroke-width="0.6"/>
<use href="#t1_o" fill="#abaab6"/>
</g>
<g clip-path="url(#t1_clip)">
<path d="M81.2,1252.5 C81,1249.8 83.5,1245.7 86.2,1243.8 C88.9,1241.9 93.5,1241.9 97.5,1241.2 C101.5,1240.5 106,1240.5 110,1239.5 C114,1238.5 117.7,1237.5 121.2,1235.5 C124.7,1233.5 128.1,1230.9 131.2,1227.5 C134.3,1224.1 136.9,1216.5 140,1215 C143.1,1213.5 146.2,1216.1 150,1218.8 C153.8,1221.5 158.3,1228.8 162.5,1231.2 C166.7,1233.6 171.1,1233.5 175,1233 C178.9,1232.5 182.4,1231 186.2,1228 C189.9,1225 193.1,1219.5 197.5,1215 C201.9,1210.5 207.9,1203.8 212.5,1201.2 C217.1,1198.6 220.4,1199.5 225,1199.5 C229.6,1199.5 234.2,1199.9 240,1201.2 C245.8,1202.5 254.2,1205.4 260,1207.5 C265.8,1209.6 270,1211.1 275,1213.8 C280,1216.5 285.8,1221.1 290,1223.8 C294.2,1226.5 295.8,1226.5 300,1230 C304.2,1233.5 312.5,1233.3 315,1245 C317.5,1256.7 317.5,1290.8 315,1300 C312.5,1309.2 306.7,1302.1 300,1300 C293.3,1297.9 283.3,1291.2 275,1287.5 C266.7,1283.8 257.1,1280.2 250,1277.5 C242.9,1274.8 236.7,1274.5 232.5,1271.2 C228.3,1267.9 227.5,1260.2 225,1257.5 C222.5,1254.8 221.7,1256.5 217.5,1255 C213.3,1253.5 205,1250 200,1248.8 C195,1247.5 190.2,1245.6 187.5,1247.5 C184.8,1249.4 184.4,1253.8 183.8,1260 C183.2,1266.2 184.4,1279.2 183.8,1285 C183.2,1290.8 181.9,1292.5 180,1295 C178.1,1297.5 175,1297.5 172.5,1300 C170,1302.5 167.9,1307.1 165,1310 C162.1,1312.9 159.2,1315.8 155,1317.5 C150.8,1319.2 145.4,1319.9 140,1320 C134.6,1320.1 128.3,1319 122.5,1318 C116.7,1317 110.8,1315.3 105,1313.8 C99.2,1312.3 90.8,1310.9 87.5,1308.8 C84.2,1306.7 84.2,1303.5 85,1301.2 C85.8,1298.9 90,1297.3 92.5,1295 C95,1292.7 97.9,1290 100,1287.5 C102.1,1285 105.2,1282.5 105,1280 C104.8,1277.5 100.3,1275.2 98.8,1272.5 C97.3,1269.8 98.1,1265.9 96.2,1263.8 C94.3,1261.7 90,1261.9 87.5,1260 C85,1258.1 81.4,1255.2 81.2,1252.5Z" fill="#868f7b"/>
<path d="M128.3,1371.7 C131.9,1368.9 138,1366.7 143.3,1366.7 C148.6,1366.7 154.4,1368.9 160,1371.7 C165.6,1374.5 171.1,1378.6 176.7,1383.3 C182.2,1388 187.8,1393.9 193.3,1400 C198.9,1406.1 204.4,1413.3 210,1420 C215.6,1426.7 220.6,1432.8 226.7,1440 C232.8,1447.2 240,1457.2 246.7,1463.3 C253.4,1469.4 262.5,1472.8 266.7,1476.7 C270.9,1480.6 273.4,1483.4 271.7,1486.7 C270,1490 262,1493.4 256.7,1496.7 C251.4,1500 244.4,1502.8 240,1506.7 C235.6,1510.6 234.4,1518.3 230,1520 C225.6,1521.7 219.4,1518.4 213.3,1516.7 C207.2,1515 200,1512 193.3,1510 C186.6,1508 180.5,1505.8 173.3,1505 C166.1,1504.2 156.1,1503.6 150,1505 C143.9,1506.4 140.3,1514.1 136.7,1513.3 C133.1,1512.5 132.2,1503.9 128.3,1500 C124.4,1496.1 118.6,1494.5 113.3,1490 C108,1485.5 101.1,1476.1 96.7,1473.3 C92.3,1470.5 86.2,1478.8 86.7,1473.3 C87.2,1467.8 95.6,1451.1 100,1440 C104.4,1428.9 109.7,1416.2 113.3,1406.7 C116.9,1397.2 119.2,1389.1 121.7,1383.3 C124.2,1377.5 124.7,1374.5 128.3,1371.7Z" fill="#868f7b"/>
<path d="M13.3,1667.3 C16.6,1660.6 26.1,1652.8 30,1647.3 C33.9,1641.8 33.4,1634 36.7,1634 C40,1634 45,1642.3 50,1647.3 C55,1652.3 60.6,1659.5 66.7,1664 C72.8,1668.5 79.5,1672.6 86.7,1674 C93.9,1675.4 102.2,1674.5 110,1672.3 C117.8,1670.1 127.8,1666 133.3,1660.7 C138.9,1655.4 140,1645.7 143.3,1640.7 C146.6,1635.7 159.4,1621.8 153.3,1630.7 C147.2,1639.6 120,1680.1 106.7,1694 C93.4,1707.9 83.3,1708.7 73.3,1714 C63.3,1719.3 55,1724 46.7,1725.7 C38.4,1727.4 29.1,1727.1 23.3,1724 C17.5,1720.9 13.9,1713.4 11.7,1707.3 C9.5,1701.2 9.7,1694 10,1687.3 C10.3,1680.6 10,1674 13.3,1667.3Z" fill="#868f7b"/>
<path d="M333.3,1330 C335,1325.8 341.1,1324.5 346.7,1325 C352.3,1325.5 360.6,1329.7 366.7,1333.3 C372.8,1336.9 378.3,1343.9 383.3,1346.7 C388.3,1349.5 393.9,1348.3 396.7,1350 C399.5,1351.7 403.3,1356.2 400,1356.7 C396.7,1357.2 382.8,1353.3 376.7,1353.3 C370.6,1353.3 368.3,1355.6 363.3,1356.7 C358.3,1357.8 351.1,1361.1 346.7,1360 C342.3,1358.9 338.9,1355 336.7,1350 C334.5,1345 331.6,1334.2 333.3,1330Z" fill="#868f7b"/>
<path d="M276.7,1393.3 C277.3,1390.8 281.7,1388.8 286.7,1388.3 C291.7,1387.8 300,1388 306.7,1390 C313.4,1392 320,1396.7 326.7,1400 C333.4,1403.3 340,1406.7 346.7,1410 C353.4,1413.3 362.3,1416.1 366.7,1420 C371.1,1423.9 374.4,1431.6 373.3,1433.3 C372.2,1435 366.7,1431.7 360,1430 C353.3,1428.3 340.5,1425 333.3,1423.3 C326.1,1421.6 322.2,1421.7 316.7,1420 C311.1,1418.3 303.9,1413.8 300,1413.3 C296.1,1412.8 296.1,1418.4 293.3,1416.7 C290.5,1415 286.1,1407.2 283.3,1403.3 C280.5,1399.4 276.1,1395.8 276.7,1393.3Z" fill="#868f7b"/>
<path d="M332.5,1340 C334.2,1337.1 342.9,1336.7 347.5,1337.5 C352.1,1338.3 356.2,1342.5 360,1345 C363.8,1347.5 370,1350.4 370,1352.5 C370,1354.6 363.8,1356.2 360,1357.5 C356.2,1358.8 351.2,1360.4 347.5,1360 C343.8,1359.6 340,1358.3 337.5,1355 C335,1351.7 330.8,1342.9 332.5,1340Z" fill="#868f7b"/>
<path d="M280,1390 C280.8,1387.7 285.8,1386 290,1386.2 C294.2,1386.4 300,1389.5 305,1391.2 C310,1392.9 315,1395.2 320,1396.2 C325,1397.2 329.2,1398.3 335,1397.5 C340.8,1396.7 349.8,1392 355,1391.2 C360.2,1390.4 363.7,1390.2 366.2,1392.5 C368.7,1394.8 369.8,1400.8 370,1405 C370.2,1409.2 366.9,1412.5 367.5,1417.5 C368.1,1422.5 374.2,1432.9 373.8,1435 C373.4,1437.1 369,1432.1 365,1430 C361,1427.9 355.8,1425 350,1422.5 C344.2,1420 336.2,1417.5 330,1415 C323.8,1412.5 317.9,1409.2 312.5,1407.5 C307.1,1405.8 302.1,1406.2 297.5,1405 C292.9,1403.8 287.9,1402.5 285,1400 C282.1,1397.5 279.2,1392.3 280,1390Z" fill="#868f7b"/>
<path d="M408.8,1382.5 C407.6,1380.2 416.3,1371.8 420,1371.2 C423.7,1370.6 429.9,1376.5 431.2,1378.8 C432.4,1381.1 431.2,1384.4 427.5,1385 C423.8,1385.6 410.1,1384.8 408.8,1382.5Z" fill="#868f7b"/>
<path d="M430,1447.5 C430.4,1445.2 437.5,1442 442.5,1441.2 C447.5,1440.4 455.4,1440.6 460,1442.5 C464.6,1444.4 470.8,1450.2 470,1452.5 C469.2,1454.8 460,1455.8 455,1456.2 C450,1456.6 444.2,1456.5 440,1455 C435.8,1453.5 429.6,1449.8 430,1447.5Z" fill="#868f7b"/>
<path d="M530,1486.7 C529.7,1481.2 532.2,1472.8 535,1466.7 C537.8,1460.6 542,1451.4 546.7,1450 C551.4,1448.6 557.8,1454.7 563.3,1458.3 C568.8,1461.9 576.7,1467 580,1471.7 C583.3,1476.4 583.8,1482.5 583.3,1486.7 C582.8,1490.9 580,1493.9 576.7,1496.7 C573.4,1499.5 567.8,1501.9 563.3,1503.3 C558.8,1504.7 554.4,1505.5 550,1505 C545.6,1504.5 540,1503 536.7,1500 C533.4,1497 530.3,1492.2 530,1486.7Z" fill="#868f7b"/>
<path d="M603.3,1456.7 C603.9,1452.2 611.1,1446.1 616.7,1443.3 C622.3,1440.5 630,1439.4 636.7,1440 C643.4,1440.6 651.2,1443.4 656.7,1446.7 C662.2,1450 665.6,1454.5 670,1460 C674.4,1465.5 681.1,1473.3 683.3,1480 C685.5,1486.7 685.5,1496.1 683.3,1500 C681.1,1503.9 675.5,1504.4 670,1503.3 C664.5,1502.2 656.7,1497.2 650,1493.3 C643.3,1489.4 636.1,1483.9 630,1480 C623.9,1476.1 617.8,1473.9 613.3,1470 C608.8,1466.1 602.7,1461.2 603.3,1456.7Z" fill="#868f7b"/>
<path d="M543.3,1614 C546.6,1609.5 555.5,1610.6 563.3,1607.3 C571.1,1604 581.1,1597.6 590,1594 C598.9,1590.4 607.8,1586.8 616.7,1585.7 C625.6,1584.6 635,1586.2 643.3,1587.3 C651.6,1588.4 664.5,1587.8 666.7,1592.3 C668.9,1596.8 663.4,1603.2 656.7,1614 C650,1624.8 633.4,1648.4 626.7,1657.3 C620,1666.2 621.2,1665.3 616.7,1667.3 C612.2,1669.2 606.7,1669.8 600,1669 C593.3,1668.2 583.9,1665.3 576.7,1662.3 C569.5,1659.2 562.3,1655.4 556.7,1650.7 C551.1,1646 545.5,1640.1 543.3,1634 C541.1,1627.9 540,1618.5 543.3,1614Z" fill="#868f7b"/>
<path d="M313.3,1053.3 C317.7,1050.5 310.8,1045 333.3,1043.3 C355.8,1041.6 432.2,1033.8 448.3,1043.3 C464.4,1052.8 436.1,1079.4 430,1100 C423.9,1120.6 416.7,1152.8 411.7,1166.7 C406.7,1180.6 404.2,1181.6 400,1183.3 C395.8,1185 392.2,1178.4 386.7,1176.7 C381.1,1175 370,1177.8 366.7,1173.3 C363.4,1168.8 365.9,1159.4 366.7,1150 C367.5,1140.6 371.7,1125 371.7,1116.7 C371.7,1108.4 370.9,1106.1 366.7,1100 C362.5,1093.9 353.4,1086.1 346.7,1080 C340,1073.9 333.4,1066.6 326.7,1063.3 C320,1060 308.9,1061.7 306.7,1060 C304.5,1058.3 308.9,1056.1 313.3,1053.3Z" fill="#868f7b"/>
<path d="M206.7,1203.3 C215.3,1198.6 224.4,1199.4 233.3,1200 C242.2,1200.6 250.6,1205 260,1206.7 C269.4,1208.4 283.9,1207.2 290,1210 C296.1,1212.8 292.8,1220.2 296.7,1223.3 C300.6,1226.3 307.2,1227.7 313.3,1228.3 C319.4,1228.9 327.2,1228.1 333.3,1226.7 C339.4,1225.3 345,1218.3 350,1220 C355,1221.7 358,1231.7 363.3,1236.7 C368.6,1241.7 379.2,1242.2 381.7,1250 C384.2,1257.8 380.5,1273.8 378.3,1283.3 C376.1,1292.8 374.7,1306.7 368.3,1306.7 C361.9,1306.7 348.6,1289.4 340,1283.3 C331.4,1277.2 325.6,1275 316.7,1270 C307.8,1265 296.1,1258.3 286.7,1253.3 C277.2,1248.3 268.6,1243.4 260,1240 C251.4,1236.6 240.3,1231.3 235,1232.7 C229.7,1234.1 232.5,1245.4 228.3,1248.3 C224.1,1251.2 216.9,1251.9 210,1250 C203.1,1248.1 191.4,1240.3 186.7,1236.7 C182,1233.1 178.4,1233.9 181.7,1228.3 C185,1222.7 198.1,1208 206.7,1203.3Z" fill="#868f7b"/>
<path d="M346.7,990 C352.2,981.1 354.4,978.4 360,976.7 C365.6,975 374.4,980 380,980 C385.6,980 387.8,976.7 393.3,976.7 C398.9,976.7 406.6,977.8 413.3,980 C420,982.2 432.7,975.5 433.3,990 C433.9,1004.5 420,1051.7 416.7,1066.7 C413.4,1081.7 412.8,1074.5 413.3,1080 C413.9,1085.5 420,1091.1 420,1100 C420,1108.9 416.6,1120 413.3,1133.3 C410,1146.6 406.7,1172.2 400,1180 C393.3,1187.8 377.8,1191.1 373.3,1180 C368.9,1168.9 374.4,1126.6 373.3,1113.3 C372.2,1100 372.2,1107.8 366.7,1100 C361.1,1092.2 348.3,1073.9 340,1066.7 C331.7,1059.5 318.9,1062.8 316.7,1056.7 C314.5,1050.6 321.7,1041.1 326.7,1030 C331.7,1018.9 341.1,998.9 346.7,990Z" fill="#868f7b"/>
<path d="M76.2,1265 C77.9,1261.5 81.7,1261.4 85,1261.2 C88.3,1261 93.9,1261.9 96.2,1263.8 C98.5,1265.7 97.3,1269.8 98.8,1272.5 C100.3,1275.2 104.8,1277.5 105,1280 C105.2,1282.5 102.1,1285 100,1287.5 C97.9,1290 95,1292.7 92.5,1295 C90,1297.3 87.5,1300.8 85,1301.2 C82.5,1301.6 79.2,1300.6 77.5,1297.5 C75.8,1294.4 75.2,1287.9 75,1282.5 C74.8,1277.1 74.5,1268.5 76.2,1265Z" fill="#abaab6"/>
<path d="M363.3,1178.3 C367.5,1175.5 377.2,1181.3 383.3,1183.3 C389.4,1185.2 396.4,1186.1 400,1190 C403.6,1193.9 406.1,1201.2 405,1206.7 C403.9,1212.2 397.5,1216.6 393.3,1223.3 C389.1,1230 384.4,1244.5 380,1246.7 C375.6,1248.9 371.1,1240.6 366.7,1236.7 C362.2,1232.8 354.7,1229.4 353.3,1223.3 C351.9,1217.2 356.6,1207.5 358.3,1200 C360,1192.5 359.1,1181.1 363.3,1178.3Z" fill="#abaab6"/>
<path d="M183.8,1253.8 C186.9,1250.5 194.4,1249.6 200,1250 C205.6,1250.4 213.1,1254.5 217.5,1256.2 C221.9,1257.9 223.7,1257.3 226.2,1260 C228.7,1262.7 232.7,1267.9 232.5,1272.5 C232.3,1277.1 230.4,1285.4 225,1287.5 C219.6,1289.6 206.7,1285 200,1285 C193.3,1285 188.1,1290 185,1287.5 C181.9,1285 181.4,1275.6 181.2,1270 C181,1264.4 180.7,1257.1 183.8,1253.8Z" fill="#abaab6"/>
<path d="M65.5,1212 C69.7,1203.2 66.8,1207.2 68.8,1205 C70.8,1202.8 73.1,1200.5 77.5,1198.8 C81.9,1197.1 91.8,1193.5 95,1195 C98.2,1196.5 97.1,1203.3 96.5,1207.5 C95.9,1211.7 92.5,1215.4 91.2,1220 C89.9,1224.6 90.7,1230.4 88.8,1235 C86.9,1239.6 82.3,1242.9 80,1247.5 C77.7,1252.1 75.8,1257.5 75,1262.5 C74.2,1267.5 74.6,1272.1 75,1277.5 C75.4,1282.9 77.3,1290.2 77.5,1295 C77.7,1299.8 79.5,1306.2 76.2,1306.2 C72.9,1306.2 62.7,1299.4 57.5,1295 C52.3,1290.6 47.7,1284.6 45,1280 C42.3,1275.4 41.4,1271.2 41.2,1267.5 C41,1263.8 39.8,1266.8 43.8,1257.5 C47.8,1248.2 61.3,1220.8 65.5,1212Z" fill="#6c5548"/>
<path d="M147.5,1235 C149.4,1231.5 152.1,1226.6 155,1226.2 C157.9,1225.8 161.7,1230.4 165,1232.5 C168.3,1234.6 171.7,1236.7 175,1238.8 C178.3,1240.9 183.8,1242.3 185,1245 C186.2,1247.7 183.5,1251.7 182.5,1255 C181.5,1258.3 179.2,1261.2 178.8,1265 C178.4,1268.8 180.6,1274.8 180,1277.5 C179.4,1280.2 177.5,1281.6 175,1281.2 C172.5,1280.8 169.2,1277.3 165,1275 C160.8,1272.7 153.8,1270 150,1267.5 C146.2,1265 143.5,1263.3 142.5,1260 C141.5,1256.7 143,1251.7 143.8,1247.5 C144.6,1243.3 145.6,1238.5 147.5,1235Z" fill="#6c5548"/>
<path d="M117.5,1290 C118.8,1288.2 125.4,1288.7 130,1289.5 C134.6,1290.3 140,1292.8 145,1295 C150,1297.2 155.4,1299.6 160,1302.5 C164.6,1305.4 170.4,1309.6 172.5,1312.5 C174.6,1315.4 174.2,1318.1 172.5,1320 C170.8,1321.9 166.7,1324 162.5,1323.8 C158.3,1323.6 152.1,1321.1 147.5,1318.8 C142.9,1316.5 139.2,1313.1 135,1310 C130.8,1306.9 125.4,1303.3 122.5,1300 C119.6,1296.7 116.2,1291.8 117.5,1290Z" fill="#6c5548"/>
<path d="M188.3,1333.3 C189.7,1331.3 192.5,1329.4 196.7,1330 C200.9,1330.6 206.1,1333.9 213.3,1336.7 C220.5,1339.5 231.7,1343.7 240,1346.7 C248.3,1349.8 258.3,1351.1 263.3,1355 C268.3,1358.9 267.8,1364.7 270,1370 C272.2,1375.3 274.5,1381.2 276.7,1386.7 C278.9,1392.2 280.5,1398.3 283.3,1403.3 C286.1,1408.3 290.5,1412.2 293.3,1416.7 C296.1,1421.2 300.6,1425.6 300,1430 C299.4,1434.4 293.9,1437.2 290,1443.3 C286.1,1449.4 280,1464.5 276.7,1466.7 C273.4,1468.9 272.2,1461.2 270,1456.7 C267.8,1452.2 265.5,1445.6 263.3,1440 C261.1,1434.4 259.5,1431.1 256.7,1423.3 C253.9,1415.5 250.6,1401.1 246.7,1393.3 C242.8,1385.5 238.9,1381.7 233.3,1376.7 C227.7,1371.7 219.4,1367.8 213.3,1363.3 C207.2,1358.8 200.9,1353.6 196.7,1350 C192.5,1346.4 189.7,1344.5 188.3,1341.7 C186.9,1338.9 186.9,1335.2 188.3,1333.3Z" fill="#6c5548"/>
<path d="M131.7,1517.3 C134.5,1512.8 136.4,1509.4 140,1507.3 C143.6,1505.2 147.2,1504.7 153.3,1504.7 C159.4,1504.7 168.9,1505.6 176.7,1507.3 C184.5,1509 190.6,1512.3 200,1515 C209.4,1517.7 230.8,1517.6 233.3,1523.3 C235.8,1529 222.5,1538.6 215,1549 C207.5,1559.4 197.2,1573.8 188.3,1585.7 C179.4,1597.7 169.2,1612.1 161.7,1620.7 C154.2,1629.3 148,1637.3 143.3,1637.3 C138.6,1637.3 135.8,1626.8 133.3,1620.7 C130.8,1614.6 131.1,1607.9 128.3,1600.7 C125.5,1593.5 119.2,1582 116.7,1577.3 C114.2,1572.6 113.3,1575.6 113.3,1572.3 C113.3,1569 115,1563.7 116.7,1557.3 C118.4,1550.9 120.8,1540.7 123.3,1534 C125.8,1527.3 128.9,1521.8 131.7,1517.3Z" fill="#6c5548"/>
<path d="M360,1355 C360.6,1351.7 370,1352.8 376.7,1353.3 C383.4,1353.8 395.6,1346.1 400,1358.3 C404.4,1370.5 406.1,1415.9 403.3,1426.7 C400.5,1437.5 388.9,1426.1 383.3,1423.3 C377.8,1420.5 372.8,1415.5 370,1410 C367.2,1404.5 366.1,1396.1 366.7,1390 C367.2,1383.9 374.4,1379.1 373.3,1373.3 C372.2,1367.5 359.4,1358.3 360,1355Z" fill="#6c5548"/>
<path d="M360,1353.8 C360.8,1351.3 365.8,1351 370,1352.5 C374.2,1354 379.2,1359.2 385,1362.5 C390.8,1365.8 398.3,1369.6 405,1372.5 C411.7,1375.4 418.8,1377.5 425,1380 C431.2,1382.5 437.1,1385.4 442.5,1387.5 C447.9,1389.6 452.9,1390 457.5,1392.5 C462.1,1395 466.2,1399.2 470,1402.5 C473.8,1405.8 480,1410 480,1412.5 C480,1415 474.2,1417.1 470,1417.5 C465.8,1417.9 459.2,1414.6 455,1415 C450.8,1415.4 447.5,1416.7 445,1420 C442.5,1423.3 442.1,1431.2 440,1435 C437.9,1438.8 435.4,1442.5 432.5,1442.5 C429.6,1442.5 425.4,1438.8 422.5,1435 C419.6,1431.2 417.9,1425.4 415,1420 C412.1,1414.6 407.9,1407.5 405,1402.5 C402.1,1397.5 399.6,1391.2 397.5,1390 C395.4,1388.8 392.9,1391.2 392.5,1395 C392.1,1398.8 395.4,1408.3 395,1412.5 C394.6,1416.7 392.9,1419.2 390,1420 C387.1,1420.8 381.2,1418.8 377.5,1417.5 C373.8,1416.2 368.8,1416.2 367.5,1412.5 C366.2,1408.8 368.9,1400.4 370,1395 C371.1,1389.6 374.6,1384.6 373.8,1380 C373,1375.4 367.3,1371.9 365,1367.5 C362.7,1363.1 359.2,1356.3 360,1353.8Z" fill="#6c5548"/>
<path d="M470,1460 C472.8,1457 482.2,1455.8 490,1455 C497.8,1454.2 509.5,1453.6 516.7,1455 C523.9,1456.4 530,1460.2 533.3,1463.3 C536.6,1466.3 538.4,1470.2 536.7,1473.3 C535,1476.4 528.3,1479.5 523.3,1481.7 C518.3,1483.9 511.7,1484.5 506.7,1486.7 C501.7,1488.9 497.8,1494.7 493.3,1495 C488.9,1495.3 483.3,1491.9 480,1488.3 C476.7,1484.7 475,1478 473.3,1473.3 C471.6,1468.6 467.2,1463 470,1460Z" fill="#6c5548"/>
<path d="M660,1393.3 C668.9,1385.5 672.8,1385.5 680,1385 C687.2,1384.5 695,1386.1 703.3,1390 C711.6,1393.9 724.4,1402.2 730,1408.3 C735.6,1414.4 736.2,1418.1 736.7,1426.7 C737.2,1435.3 736.6,1453.9 733.3,1460 C730,1466.1 722.8,1464.4 716.7,1463.3 C710.6,1462.2 704.5,1457.2 696.7,1453.3 C688.9,1449.4 678.9,1442.8 670,1440 C661.1,1437.2 650.5,1438.1 643.3,1436.7 C636.1,1435.3 623.9,1438.9 626.7,1431.7 C629.5,1424.5 651.1,1401.1 660,1393.3Z" fill="#6c5548"/>
<path d="M566.7,1534 C570.9,1529.6 577.8,1522.7 583.3,1520.7 C588.8,1518.8 594.4,1520.6 600,1522.3 C605.6,1524 612.8,1527.1 616.7,1530.7 C620.6,1534.3 623.3,1539 623.3,1544 C623.3,1549 619.5,1555.2 616.7,1560.7 C613.9,1566.2 611.2,1571.8 606.7,1577.3 C602.2,1582.8 595,1589.5 590,1594 C585,1598.5 581.7,1601.8 576.7,1604 C571.7,1606.2 565,1607.3 560,1607.3 C555,1607.3 548.1,1609.5 546.7,1604 C545.3,1598.5 549.8,1583.5 551.7,1574 C553.6,1564.5 555.8,1554 558.3,1547.3 C560.8,1540.6 562.5,1538.4 566.7,1534Z" fill="#6c5548"/>
<path d="M270,1121.7 C270.3,1113.9 279.2,1103.6 285,1093.3 C290.8,1083 298.1,1065 305,1060 C311.9,1055 319.8,1060 326.7,1063.3 C333.6,1066.6 340,1073.9 346.7,1080 C353.4,1086.1 362.5,1093.9 366.7,1100 C370.9,1106.1 371.7,1108.4 371.7,1116.7 C371.7,1125 368.1,1140 366.7,1150 C365.3,1160 365,1168.4 363.3,1176.7 C361.6,1185 358.9,1192.8 356.7,1200 C354.5,1207.2 353.9,1215.5 350,1220 C346.1,1224.5 339.4,1225.3 333.3,1226.7 C327.2,1228.1 319.4,1228.9 313.3,1228.3 C307.2,1227.7 300.6,1226.3 296.7,1223.3 C292.8,1220.2 291.4,1215.5 290,1210 C288.6,1204.5 288.3,1197.8 288.3,1190 C288.3,1182.2 290.8,1171.6 290,1163.3 C289.2,1155 286.6,1146.9 283.3,1140 C280,1133.1 269.7,1129.5 270,1121.7Z" fill="#6c5548"/>
<path d="M360,975 C358.9,970.3 369.7,956.7 373.3,951.7 C376.9,946.7 377.2,945 381.7,945 C386.1,945 393.6,948.7 400,951.7 C406.4,954.8 413.1,959.1 420,963.3 C426.9,967.5 439.5,972.2 441.7,976.7 C443.9,981.2 438,989.5 433.3,990 C428.6,990.5 420,982.2 413.3,980 C406.6,977.8 398.9,976.7 393.3,976.7 C387.8,976.7 385.6,980.3 380,980 C374.4,979.7 361.1,979.7 360,975Z" fill="#6c5548"/>
<path d="M433.3,990 C438.6,980 445.2,1000 448.3,1006.7 C451.4,1013.4 452.5,1020 451.7,1030 C450.9,1040 446.4,1056.2 443.3,1066.7 C440.2,1077.2 437.2,1087.8 433.3,1093.3 C429.4,1098.8 423.3,1102.2 420,1100 C416.7,1097.8 413.9,1085.5 413.3,1080 C412.8,1074.5 413.4,1081.7 416.7,1066.7 C420,1051.7 428,1000 433.3,990Z" fill="#6c5548"/>
<path d="M563.3,1503.3 C565.5,1499.1 576.7,1496.4 580,1491.7 C583.3,1487 579.4,1475.8 583.3,1475 C587.2,1474.2 596.1,1482.5 603.3,1486.7 C610.5,1490.9 618.9,1495.6 626.7,1500 C634.5,1504.4 647.2,1508.3 650,1513.3 C652.8,1518.3 646.1,1525.5 643.3,1530 C640.5,1534.5 637.7,1539.5 633.3,1540 C628.9,1540.5 622.8,1536.1 616.7,1533.3 C610.6,1530.5 602.8,1525.5 596.7,1523.3 C590.6,1521.1 585,1521.1 580,1520 C575,1518.9 569.5,1519.5 566.7,1516.7 C563.9,1513.9 561.1,1507.5 563.3,1503.3Z" fill="#d2d9df"/>
</g>
<g transform="translate(0,0)">
<g clip-path="url(#t1_lclip)">
<ellipse cx="486" cy="1409" rx="34.5" ry="12" transform="rotate(32.5 486 1409)" fill="#e41f26"/>
<ellipse cx="486" cy="1409" rx="23.805" ry="8.16" transform="rotate(32.5 486 1409)" fill="#fff"/>
<ellipse cx="486" cy="1409" rx="11.385" ry="3.84" transform="rotate(32.5 486 1409)" fill="#1b9fdd"/>
<ellipse cx="455.5" cy="1472.5" rx="33" ry="12" transform="rotate(21.8 455.5 1472.5)" fill="#e41f26"/>
<ellipse cx="455.5" cy="1472.5" rx="22.77" ry="8.16" transform="rotate(21.8 455.5 1472.5)" fill="#fff"/>
<ellipse cx="455.5" cy="1472.5" rx="10.89" ry="3.84" transform="rotate(21.8 455.5 1472.5)" fill="#1b9fdd"/>
</g>
<path d="M235,1232.7 Q300,1270 366.7,1296.7 L363,1313.5 Q296,1286 228.3,1248.5Z" fill="#585858" stroke="#333" stroke-width="0.8"/>
<path d="M170,1358.3 Q236,1397 303.3,1426.7 L293.3,1441.7 Q226,1411 163.3,1371.7Z" fill="#585858" stroke="#333" stroke-width="0.8"/>
<path d="M182.7,1288.3 L230,1284.3 L281.7,1306.7 L279.3,1316.7 L260.7,1363.3 L206.7,1341.7Z" fill="#b9b8c2" stroke="#2b2b2b" stroke-width="0.7"/>
<path d="M186.7,1300.7 L199.3,1292 L211,1298.7 L202.7,1314Z" fill="#fbfcfc" stroke="#555" stroke-width="0.5"/>
<path d="M204,1291.3 L229.3,1289.7 L222.7,1296.7 L212.7,1297Z" fill="#fbfcfc" stroke="#555" stroke-width="0.5"/>
<path d="M214,1299 L222.7,1299 L213.3,1319.3 L205.7,1315Z" fill="#fbfcfc" stroke="#555" stroke-width="0.5"/>
<path d="M234,1291.7 L278.3,1310 L274.7,1318.7 L230,1300.3Z" fill="#fbfcfc" stroke="#555" stroke-width="0.5"/>
<path d="M226.7,1305 L248.3,1313.3 L242,1328.3 L220.7,1319.3Z" fill="#fbfcfc" stroke="#555" stroke-width="0.5"/>
<path d="M250.3,1314.3 L271.7,1323.3 L265.3,1337.7 L244.7,1329.3Z" fill="#fbfcfc" stroke="#555" stroke-width="0.5"/>
<path d="M218.3,1323.3 L240,1331.7 L234.7,1344 L213.3,1334.3Z" fill="#fbfcfc" stroke="#555" stroke-width="0.5"/>
<path d="M242.7,1332.7 L264.3,1341 L258.7,1354 L237.3,1345.3Z" fill="#fbfcfc" stroke="#555" stroke-width="0.5"/>
<path d="M210.7,1336 L256.7,1354 L253.3,1362 L207.3,1342.7Z" fill="#fbfcfc" stroke="#555" stroke-width="0.5"/>
<path d="M192.7,1317.3 L200,1314 L213.3,1332.7 L207.3,1335.3Z" fill="#fbfcfc" stroke="#555" stroke-width="0.5"/>
<path d="M281.7,1316.7 C282.7,1315.3 285.1,1313.5 289.3,1314.7 C293.5,1315.9 301.5,1320.8 306.7,1324 C311.9,1327.2 317.8,1331.3 320.7,1334 C323.6,1336.7 326.1,1339.8 324.3,1340.3 C322.5,1340.8 315.2,1339 310,1337.3 C304.8,1335.6 297.8,1332.3 293.3,1330 C288.9,1327.7 285.2,1325.5 283.3,1323.3 C281.4,1321.1 280.7,1318.1 281.7,1316.7Z" fill="#fbfcfc" stroke="#444" stroke-width="0.6"/>
<path d="M261,1360 C261.6,1358.3 263,1355.7 266.7,1356.7 C270.4,1357.7 278.2,1362.8 283.3,1366 C288.4,1369.2 294.1,1373 297.3,1375.7 C300.5,1378.4 303.9,1381.3 302.7,1382 C301.5,1382.7 294.9,1381.5 290,1380 C285.1,1378.5 277.8,1374.9 273.3,1372.7 C268.9,1370.5 265.4,1368.8 263.3,1366.7 C261.2,1364.6 260.4,1361.7 261,1360Z" fill="#fbfcfc" stroke="#444" stroke-width="0.6"/>
<path d="M600,1505 C601.1,1502.7 607.8,1501.3 613.3,1502.7 C618.8,1504.1 625.5,1508.8 633.3,1513.3 C641.1,1517.8 653.9,1525.5 660,1530 C666.1,1534.5 671.7,1539.2 670,1540 C668.3,1540.8 657.2,1537.2 650,1535 C642.8,1532.8 633.9,1529.8 626.7,1526.7 C619.5,1523.7 611.2,1520.3 606.7,1516.7 C602.2,1513.1 598.9,1507.3 600,1505Z" fill="#d2d9df" stroke="#333" stroke-width="0.6"/>
<path d="M640,1528.3 C640,1526.4 645,1524.6 650,1526 C655,1527.4 664.5,1533.2 670,1536.7 C675.5,1540.2 683.3,1545.3 683.3,1546.7 C683.3,1548.1 675.5,1546.6 670,1545 C664.5,1543.4 655,1540.1 650,1537.3 C645,1534.5 640,1530.2 640,1528.3Z" fill="#d2d9df" stroke="#333" stroke-width="0.6"/>
<path d="M661.7,1530 L703.3,1558.7 L698.3,1559.3 L650,1540.7Z" fill="#f2f2f2" stroke="#333" stroke-width="0.6"/>
<path d="M666.7,1538.7 L672.7,1535.3 L678.3,1540.7 L672,1546.7Z" fill="#1b9fdd"/>
<path d="M685,1547.3 L690.7,1546.7 L696.7,1554 L690,1553.3Z" fill="#e41f26"/>
<path d="M396.7,926.7 L409,920.5 L421.7,918.3 L410,931.7Z" fill="#1f9a48" stroke="#333" stroke-width="0.5"/>
<path d="M13.6,1685.7 L25,1687.3 L23.3,1711 L15.5,1706.5Z" fill="#e41f26" stroke="#333" stroke-width="0.5"/>
<g stroke="#2b2b2b" stroke-width="0.7" fill="none"><path d="M393.3,956.7 L300,1133 L253,1237" fill="none"/>
<path d="M453.3,960 L433.3,1040 L386.7,1150 L348,1290" fill="none"/>
<path d="M353.3,1035 L413.3,1066.7" fill="none"/>
<path d="M316.7,1113.3 L383.3,1150" fill="none"/>
<path d="M280,1180 L356.7,1216.7" fill="none"/>
<path d="M246.7,1203.3 L293.3,1226.7" fill="none"/>
<path d="M428,955 L400,1050 L360,1183 L340,1265" fill="none"/>
<path d="M128.3,1371.7 L173.3,1390" fill="none"/>
<path d="M115,1410 L151.7,1428.3" fill="none"/>
<path d="M173.3,1390 C163.3,1410.5 130.2,1480 113.3,1513.3 C96.4,1546.6 78.6,1577.2 71.7,1590" fill="none"/>
<path d="M146.7,1440 L221.7,1475" fill="none"/>
<path d="M111.7,1510 L186.7,1546.7" fill="none"/>
<path d="M256.7,1421.7 L186.7,1546.7 L150,1600" fill="none"/>
<path d="M71.7,1584 L135,1615.7" fill="none"/>
<path d="M35,1662.3 L96.7,1692.3" fill="none"/>
<path d="M233.3,1410 L200,1460 L143.3,1530 L100,1556.7" fill="none"/>
<path d="M370,1343.3 L563.3,1496.7" fill="none"/>
<path d="M350,1410 L570,1500" fill="none"/>
<path d="M396.7,1356.7 L386.7,1376.7" fill="none"/>
<path d="M426.7,1400 L413.3,1430" fill="none"/>
<path d="M470,1428.3 L458.3,1446.7" fill="none"/>
<path d="M513.3,1456.7 L506.7,1473.3" fill="none"/>
<path d="M546.7,1451.7 L530,1486.7" fill="none"/>
<path d="M105,1198 C102.7,1205.8 96.2,1227.2 91.2,1245 C86.2,1262.8 77.7,1295 75,1305" fill="none"/>
<path d="M140,1216.2 C136.2,1225.2 124.4,1254.4 117.5,1270 C110.6,1285.6 101.9,1303.3 98.8,1310" fill="none"/>
<path d="M143.8,1218.8 C140,1227.5 128.1,1255.8 121.2,1271.2 C114.3,1286.6 105.6,1304.5 102.5,1311.2" fill="none"/>
<path d="M663.3,1410 L626.7,1431.7" fill="none"/>
<path d="M696.7,1425 L648.3,1515" fill="none"/>
<path d="M686.7,1423.3 L730,1443.3" fill="none"/>
<path d="M716.7,1460 L703.3,1506.7" fill="none"/>
<path d="M581.7,1525.7 L550,1615.7" fill="none"/>
<path d="M640,1544 L590,1634" fill="none"/>
<path d="M546.7,1614 L590,1634" fill="none"/>
<path d="M663.3,1587.3 L633.3,1627.3" fill="none"/></g>
<g stroke="#333" stroke-width="3.6" stroke-linecap="round"><line x1="107.5" y1="1203.8" x2="131.2" y2="1216.2"/><line x1="101.2" y1="1217.5" x2="125.0" y2="1230.0"/><line x1="92.5" y1="1237.5" x2="116.2" y2="1250.0"/><line x1="82.5" y1="1260.0" x2="106.2" y2="1272.5"/><line x1="73.8" y1="1280.0" x2="96.2" y2="1292.5"/><line x1="67.5" y1="1292.5" x2="91.2" y2="1303.8"/></g>
<g stroke="#b4b3bd" stroke-width="2.4" stroke-linecap="round"><line x1="107.5" y1="1203.8" x2="131.2" y2="1216.2"/><line x1="101.2" y1="1217.5" x2="125.0" y2="1230.0"/><line x1="92.5" y1="1237.5" x2="116.2" y2="1250.0"/><line x1="82.5" y1="1260.0" x2="106.2" y2="1272.5"/><line x1="73.8" y1="1280.0" x2="96.2" y2="1292.5"/><line x1="67.5" y1="1292.5" x2="91.2" y2="1303.8"/></g><circle cx="397.3" cy="1024.3" r="50.8" fill="#e41f26"/><circle cx="397.3" cy="1024.3" r="34.3" fill="#fff"/><circle cx="397.3" cy="1024.3" r="17.3" fill="#1b9fdd"/><circle cx="92" cy="1624.7" r="51.3" fill="#e41f26"/><circle cx="92" cy="1624.7" r="34.3" fill="#fff"/><circle cx="92" cy="1624.7" r="17.3" fill="#1b9fdd"/>
<use href="#t1_o" fill="none" stroke="#2b2b2b" stroke-width="0.9"/>
</g>
<defs><path id="t2_o" d="M65,1211.7 C65.5,1210.6 65.8,1207.1 68.3,1205 C70.8,1202.9 75.3,1200.7 80,1199.3 C84.7,1197.9 91.7,1196.6 96.7,1196.7 C101.7,1196.8 103.9,1197.5 110,1200 C116.1,1202.5 126.6,1208.1 133.3,1211.7 C140,1215.3 145.6,1218.8 150,1221.7 C154.4,1224.6 156.1,1227.2 160,1229 C163.9,1230.8 168.9,1232.7 173.3,1232.5 C177.8,1232.3 182.2,1230.6 186.7,1228 C191.1,1225.4 196.1,1220.8 200,1216.7 C203.9,1212.6 201.7,1215 210,1203.3 C218.3,1191.6 236.1,1166.7 250,1146.7 C263.9,1126.7 282.8,1098.9 293.3,1083.3 C303.9,1067.7 298.9,1076.1 313.3,1053.3 C327.8,1030.5 367.6,966.4 380,946.7 C392.4,927 384.7,938.9 388,935 C391.3,931.1 396.2,926 400,923.3 C403.8,920.5 407.1,919.5 411,918.5 C414.9,917.5 419.1,917 423.3,917.3 C427.5,917.5 432.1,918.4 436,920 C439.9,921.6 443.5,923.7 446.7,926.7 C449.9,929.7 452.8,933.6 455,938 C457.2,942.4 458.9,946.3 460,953.3 C461.1,960.3 462.2,970 461.7,980 C461.1,990 459.5,1001.6 456.7,1013.3 C453.9,1025 448.9,1036.7 445,1050 C441.1,1063.3 439.1,1073.8 433.3,1093.3 C427.5,1112.8 419.4,1135 410,1166.7 C400.6,1198.4 383.9,1256.6 376.7,1283.3 C369.5,1310 368.1,1318.2 366.7,1326.7 C365.2,1335.2 366.9,1331.6 368,1334 C369.1,1336.4 371,1339.2 373,1341 C375,1342.8 370.5,1339.5 380,1345 C389.5,1350.5 413.3,1363.8 430,1373.8 C446.7,1383.8 463.3,1394.4 480,1405 C496.7,1415.6 513,1426.5 530,1437.5 C547,1448.5 573.3,1465.4 582,1471 L588.3,1471 C600.8,1458.6 649.5,1410 663.3,1396.7 C677.1,1383.4 668.2,1392.4 671,1391 C673.8,1389.6 675.2,1387.9 680,1388.3 C684.8,1388.7 692.2,1389.7 700,1393.3 C707.8,1396.9 721.2,1404.4 726.7,1410 C732.2,1415.6 732.8,1418.4 733.3,1426.7 C733.8,1435 733.9,1443.3 730,1460 C726.1,1476.7 715,1513.9 710,1526.7 C705,1539.5 703.9,1534.8 700,1536.7 C696.1,1538.6 690.6,1538.9 686.7,1538.3 C682.8,1537.7 683.1,1537.2 676.7,1533.3 C670.3,1529.4 653,1518 648.3,1515 L648.3,1515 L703.3,1559 L703.3,1559 L636.7,1540.7 L636.7,1540.7 C638.9,1541.5 643.3,1542.9 650,1545.7 C656.7,1548.5 671.2,1553.7 676.7,1557.3 C682.2,1560.9 682.8,1563.4 683.3,1567.3 C683.8,1571.2 689.4,1566.2 680,1580.7 C670.6,1595.2 637.2,1640.1 626.7,1654 C616.2,1667.9 621.2,1662 616.7,1664 C612.2,1666 606.7,1666.5 600,1665.7 C593.3,1664.9 583.9,1662.1 576.7,1659 C569.5,1655.9 561.7,1652 556.7,1647.3 C551.7,1642.6 548.4,1636.2 546.7,1630.7 C545,1625.2 543.9,1633.1 546.7,1614 C549.5,1594.9 560.5,1532.3 563.3,1516 L563.3,1515 C557.8,1512.9 543.9,1507.9 530,1502.5 C516.1,1497.1 496.7,1489.2 480,1482.5 C463.3,1475.8 446.7,1469.2 430,1462.5 C413.3,1455.8 396.7,1449.4 380,1442.5 C363.3,1435.6 340.7,1424.7 330,1421.2 C319.3,1417.8 320.2,1421 316,1422 C311.8,1423 309.8,1424.5 305,1427.5 C300.2,1430.5 296.1,1430 287.5,1440 C278.9,1450 267.9,1467.2 253.3,1487.3 C238.7,1507.4 218.9,1534 200,1560.7 C181.1,1587.4 156.7,1625.6 140,1647.3 C123.3,1669 111.1,1680.1 100,1690.7 C88.9,1701.3 82.2,1705.4 73.3,1710.7 C64.4,1716 54.5,1720.6 46.7,1722.3 C38.9,1724 32,1723.2 26.7,1720.7 C21.4,1718.2 17.2,1712.9 15,1707.3 C12.8,1701.7 12.8,1694 13.3,1687.3 C13.9,1680.6 15,1677.3 18.3,1667.3 C21.6,1657.3 25.2,1649.5 33.3,1627.3 C41.4,1605.1 55,1566.2 66.7,1534 C78.4,1501.8 93.3,1461.9 103.3,1434 C113.3,1406.1 122,1380.7 126.7,1366.7 C131.4,1352.7 131.1,1356.1 131.7,1350 C132.2,1343.9 131.4,1335.5 130,1330 C128.6,1324.5 128.8,1319.5 123.3,1316.7 C117.8,1313.9 106.1,1315.8 96.7,1313.3 C87.3,1310.8 74.5,1305.6 66.7,1301.7 C58.9,1297.8 54.2,1295.8 50,1290 C45.8,1284.2 42.8,1272 41.7,1266.7 C40.6,1261.4 43,1259.7 43.3,1258.3 Z"/><clipPath id="t2_clip"><use href="#t2_o" transform="rotate(180 593.7 1306.3)"/></clipPath></defs>
<defs><clipPath id="t2_lclip"><use href="#t2_o"/></clipPath></defs>
<g transform="rotate(180 593.7 1306.3)">
<line x1="235" y1="1052.7" x2="294" y2="1082" stroke="#555" stroke-width="2.6"/><line x1="235" y1="1052.7" x2="294" y2="1082" stroke="#9a9a9a" stroke-width="1.4"/>

<line x1="163.3" y1="1106.7" x2="251" y2="1150.5" stroke="#555" stroke-width="2.6"/><line x1="163.3" y1="1106.7" x2="251" y2="1150.5" stroke="#9a9a9a" stroke-width="1.4"/><line x1="165.08926223740878" y1="1107.5936110148064" x2="176.71946678056577" y2="1113.4020826110466" stroke="#6a6a6a" stroke-width="4.2" stroke-linecap="round"/>
<line x1="20" y1="1389.3" x2="107.5" y2="1433.5" stroke="#555" stroke-width="2.6"/><line x1="20" y1="1389.3" x2="107.5" y2="1433.5" stroke="#9a9a9a" stroke-width="1.4"/><line x1="21.78516696054914" y1="1390.2017643389288" x2="33.38875220411856" y2="1396.063232541966" stroke="#6a6a6a" stroke-width="4.2" stroke-linecap="round"/>
<path d="M65,1211.7 C60.8,1211.1 47.5,1208.3 40,1208.3 C32.5,1208.3 24.7,1210 20,1211.7 C15.3,1213.4 13.1,1215.8 11.7,1218.3 C10.3,1220.8 10.3,1223.1 11.7,1226.7 C13.1,1230.3 16.4,1235.8 20,1240 C23.6,1244.2 29.4,1248.7 33.3,1251.7 C37.2,1254.8 41.6,1257.2 43.3,1258.3 Z" fill="#3c3c3c" stroke="#222" stroke-width="0.6"/>
<use href="#t2_o" fill="#abaab6"/>
</g>
<g clip-path="url(#t2_clip)">
<path d="M450,1063.3 C460,1013.3 476.7,957.8 510,936.7 C543.3,915.6 625.5,911.2 650,936.7 C674.5,962.2 620.6,1052.2 656.7,1090 C692.8,1127.8 831.7,1137.2 866.7,1163.3 C901.7,1189.4 886.2,1232.8 866.7,1246.7 C847.2,1260.6 795,1262.8 750,1246.7 C705,1230.6 630,1151.7 596.7,1150 C563.4,1148.3 574.5,1222.2 550,1236.7 C525.5,1251.2 466.7,1265.6 450,1236.7 C433.3,1207.8 440,1113.3 450,1063.3Z" fill="#868f7b"/>
<path d="M1046.7,990 C1052.2,983.3 1050,973.9 1053.3,966.7 C1056.6,959.5 1051.7,943.4 1066.7,946.7 C1081.7,950 1130,975.6 1143.3,986.7 C1156.6,997.8 1147.8,1005.5 1146.7,1013.3 C1145.6,1021.1 1141.2,1027.7 1136.7,1033.3 C1132.2,1038.9 1124.5,1045.6 1120,1046.7 C1115.5,1047.8 1113.3,1038.9 1110,1040 C1106.7,1041.1 1102.8,1048.3 1100,1053.3 C1097.2,1058.3 1096.6,1066.1 1093.3,1070 C1090,1073.9 1083.3,1073.9 1080,1076.7 C1076.7,1079.5 1076.6,1085 1073.3,1086.7 C1070,1088.4 1065.5,1088.4 1060,1086.7 C1054.5,1085 1046.7,1081.2 1040,1076.7 C1033.3,1072.2 1024.5,1065 1020,1060 C1015.5,1055 1016.6,1052.2 1013.3,1046.7 C1010,1041.2 998.9,1033.4 1000,1026.7 C1001.1,1020 1012.2,1012.8 1020,1006.7 C1027.8,1000.6 1041.2,996.7 1046.7,990Z" fill="#868f7b"/>
<path d="M916.7,1146.7 C921.7,1139.5 931.7,1125.5 940,1113.3 C948.3,1101.1 960.6,1082.5 966.7,1073.3 C972.8,1064.1 973.4,1057.2 976.7,1058.3 C980,1059.4 984.2,1073.6 986.7,1080 C989.2,1086.4 992,1092.2 991.7,1096.7 C991.4,1101.2 988.6,1104.5 985,1106.7 C981.4,1108.9 973.6,1107.2 970,1110 C966.4,1112.8 963.8,1118.3 963.3,1123.3 C962.8,1128.3 967.8,1134.4 966.7,1140 C965.6,1145.6 960.6,1152.2 956.7,1156.7 C952.8,1161.2 947.2,1163.9 943.3,1166.7 C939.4,1169.5 936.1,1175 933.3,1173.3 C930.5,1171.6 930.6,1159.5 926.7,1156.7 C922.8,1153.9 911.7,1158.4 910,1156.7 C908.3,1155 911.7,1153.9 916.7,1146.7Z" fill="#868f7b"/>
<path d="M1000,1156.7 C1001.7,1152.2 1003.4,1143.3 1006.7,1140 C1010,1136.7 1016.1,1135.6 1020,1136.7 C1023.9,1137.8 1027.8,1142.3 1030,1146.7 C1032.2,1151.1 1031.6,1156.6 1033.3,1163.3 C1035,1170 1046.7,1182.8 1040,1186.7 C1033.3,1190.6 1000.5,1190 993.3,1186.7 C986.1,1183.4 995.6,1171.7 996.7,1166.7 C997.8,1161.7 998.3,1161.2 1000,1156.7Z" fill="#868f7b"/>
<path d="M930,1126.7 C948.9,1123.4 1015.5,1122.8 1033.3,1126.7 C1051.1,1130.6 1035.6,1142.8 1036.7,1150 C1037.8,1157.2 1040.6,1163.9 1040,1170 C1039.4,1176.1 1036.6,1181.7 1033.3,1186.7 C1030,1191.7 1021.1,1196.4 1020,1200 C1018.9,1203.6 1021.2,1206.9 1026.7,1208.3 C1032.2,1209.7 1046.6,1206.3 1053.3,1208.3 C1060,1210.2 1066.7,1214.7 1066.7,1220 C1066.7,1225.3 1058.9,1236.1 1053.3,1240 C1047.7,1243.9 1038.8,1244.4 1033.3,1243.3 C1027.8,1242.2 1025.5,1236.1 1020,1233.3 C1014.5,1230.5 1006.1,1229.5 1000,1226.7 C993.9,1223.9 990,1220.3 983.3,1216.7 C976.6,1213.1 966.1,1209.5 960,1205 C953.9,1200.5 948.7,1195.3 946.7,1190 C944.8,1184.7 950.5,1178.8 948.3,1173.3 C946.1,1167.8 938,1161.1 933.3,1156.7 C928.6,1152.3 920.5,1151.7 920,1146.7 C919.5,1141.7 911.1,1130 930,1126.7Z" fill="#868f7b"/>
<path d="M905,1206.7 C907,1204.2 912,1201.2 916.7,1201.7 C921.4,1202.2 928.3,1206.4 933.3,1210 C938.3,1213.6 945,1219.4 946.7,1223.3 C948.4,1227.2 946.6,1232.2 943.3,1233.3 C940,1234.4 931.7,1231.1 926.7,1230 C921.7,1228.9 916.9,1228.9 913.3,1226.7 C909.7,1224.5 906.4,1220 905,1216.7 C903.6,1213.4 903,1209.2 905,1206.7Z" fill="#868f7b"/>
<path d="M970,1240 C971.4,1237.8 979.4,1240 983.3,1243.3 C987.2,1246.6 991.6,1254.4 993.3,1260 C995,1265.6 995,1273.4 993.3,1276.7 C991.6,1280 986.6,1281.1 983.3,1280 C980,1278.9 974.7,1273.9 973.3,1270 C971.9,1266.1 975.5,1261.7 975,1256.7 C974.5,1251.7 968.6,1242.2 970,1240Z" fill="#868f7b"/>
<path d="M1046.7,1330 C1063.9,1323.3 1129.5,1326.7 1146.7,1330 C1163.9,1333.3 1150.6,1341.7 1150,1350 C1149.4,1358.3 1146.6,1371.1 1143.3,1380 C1140,1388.9 1135,1397.5 1130,1403.3 C1125,1409.1 1119.4,1412.8 1113.3,1415 C1107.2,1417.2 1100,1417.5 1093.3,1416.7 C1086.6,1415.9 1080,1413.3 1073.3,1410 C1066.6,1406.7 1058.3,1403.4 1053.3,1396.7 C1048.3,1390 1044.4,1381.1 1043.3,1370 C1042.2,1358.9 1029.5,1336.7 1046.7,1330Z" fill="#868f7b"/>
<path d="M800,1370 C804.5,1357.8 817.8,1369.5 826.7,1366.7 C835.6,1363.9 845,1355.5 853.3,1353.3 C861.6,1351.1 870.6,1351.6 876.7,1353.3 C882.8,1355 886.7,1360.2 890,1363.3 C893.3,1366.4 892.2,1371.1 896.7,1371.7 C901.2,1372.3 913.9,1364.8 916.7,1366.7 C919.5,1368.6 916.1,1378.3 913.3,1383.3 C910.5,1388.3 905,1393.9 900,1396.7 C895,1399.5 888.8,1400 883.3,1400 C877.8,1400 871.7,1396.2 866.7,1396.7 C861.7,1397.2 856.6,1398.9 853.3,1403.3 C850,1407.7 850,1418.8 846.7,1423.3 C843.4,1427.8 838.9,1428.3 833.3,1430 C827.7,1431.7 818.8,1431.6 813.3,1433.3 C807.8,1435 802.2,1450.5 800,1440 C797.8,1429.5 795.5,1382.2 800,1370Z" fill="#868f7b"/>
<path d="M913.3,1383.3 C915.5,1381.6 926.1,1384.5 933.3,1386.7 C940.5,1388.9 951.1,1391.7 956.7,1396.7 C962.3,1401.7 966.2,1411.7 966.7,1416.7 C967.2,1421.7 963.3,1422.8 960,1426.7 C956.7,1430.6 950,1435 946.7,1440 C943.4,1445 943.3,1451.7 940,1456.7 C936.7,1461.7 931.2,1463.9 926.7,1470 C922.2,1476.1 917.2,1487.2 913.3,1493.3 C909.4,1499.4 905.5,1510 903.3,1506.7 C901.1,1503.4 901.1,1483.3 900,1473.3 C898.9,1463.3 895.6,1454.5 896.7,1446.7 C897.8,1438.9 901.7,1431.2 906.7,1426.7 C911.7,1422.2 922.3,1423.3 926.7,1420 C931.1,1416.7 934.4,1410.6 933.3,1406.7 C932.2,1402.8 923.3,1400.6 920,1396.7 C916.7,1392.8 911.1,1385 913.3,1383.3Z" fill="#868f7b"/>
<path d="M796.7,1370 C799.8,1365 803.3,1362 810,1360 C816.7,1358 828.9,1360 836.7,1358.3 C844.5,1356.6 851.2,1352.5 856.7,1350 C862.2,1347.5 864.5,1344.4 870,1343.3 C875.5,1342.2 884.5,1341.1 890,1343.3 C895.5,1345.5 900,1352.8 903.3,1356.7 C906.6,1360.6 911.1,1365 910,1366.7 C908.9,1368.4 901.2,1366.2 896.7,1366.7 C892.2,1367.2 887.8,1367.2 883.3,1370 C878.8,1372.8 874.4,1378.8 870,1383.3 C865.6,1387.8 860.6,1393.4 856.7,1396.7 C852.8,1400 851.2,1401.1 846.7,1403.3 C842.2,1405.5 835,1405.5 830,1410 C825,1414.5 821.2,1424.5 816.7,1430 C812.2,1435.5 808.9,1440 803.3,1443.3 C797.7,1446.6 787.7,1450 783.3,1450 C778.9,1450 776.4,1449.4 776.7,1443.3 C777,1437.2 782.5,1422.2 785,1413.3 C787.5,1404.4 789.8,1397.2 791.7,1390 C793.7,1382.8 793.7,1375 796.7,1370Z" fill="#868f7b"/>
<path d="M760,1496.7 C763.3,1488.9 768.3,1490 773.3,1490 C778.3,1490 784.4,1494.5 790,1496.7 C795.6,1498.9 801.7,1501.6 806.7,1503.3 C811.7,1505 815.6,1507.2 820,1506.7 C824.4,1506.2 828.8,1500 833.3,1500 C837.8,1500 842.8,1502.8 846.7,1506.7 C850.6,1510.6 853.9,1517.2 856.7,1523.3 C859.5,1529.4 861.1,1536.6 863.3,1543.3 C865.5,1550 866.7,1562.2 870,1563.3 C873.3,1564.4 878.8,1553.3 883.3,1550 C887.8,1546.7 896.7,1537.8 896.7,1543.3 C896.7,1548.8 890,1568.8 883.3,1583.3 C876.6,1597.8 865.6,1616.7 856.7,1630 C847.8,1643.3 842.2,1652.2 830,1663.3 C817.8,1674.4 799.4,1691.1 783.3,1696.7 C767.2,1702.3 742.2,1707.8 733.3,1696.7 C724.4,1685.6 728.3,1648.9 730,1630 C731.7,1611.1 739.4,1598.8 743.3,1583.3 C747.2,1567.8 750.5,1551.1 753.3,1536.7 C756.1,1522.3 756.7,1504.5 760,1496.7Z" fill="#868f7b"/>
<path d="M860,1343.3 C861.1,1337.8 868.8,1333.9 873.3,1330 C877.8,1326.1 882.2,1320 886.7,1320 C891.2,1320 895.6,1326.1 900,1330 C904.4,1333.9 907.8,1338.8 913.3,1343.3 C918.8,1347.8 927.7,1353.4 933.3,1356.7 C938.9,1360 941.7,1361.1 946.7,1363.3 C951.7,1365.5 958.3,1370 963.3,1370 C968.3,1370 971.7,1365.5 976.7,1363.3 C981.7,1361.1 988.3,1360 993.3,1356.7 C998.3,1353.4 1002.2,1345.5 1006.7,1343.3 C1011.2,1341.1 1015.6,1340 1020,1343.3 C1024.4,1346.6 1033.3,1356.6 1033.3,1363.3 C1033.3,1370 1025.5,1377.7 1020,1383.3 C1014.5,1388.9 1005.5,1391.1 1000,1396.7 C994.5,1402.3 992.2,1411.2 986.7,1416.7 C981.2,1422.2 975.6,1427.8 966.7,1430 C957.8,1432.2 942.2,1432.2 933.3,1430 C924.4,1427.8 915.5,1422.2 913.3,1416.7 C911.1,1411.2 920,1402.8 920,1396.7 C920,1390.6 918.8,1383.3 913.3,1380 C907.8,1376.7 894.5,1379.5 886.7,1376.7 C878.9,1373.9 871.2,1368.9 866.7,1363.3 C862.2,1357.7 858.9,1348.8 860,1343.3Z" fill="#868f7b"/>
<path d="M1000,1330 C1000,1326.1 1007.8,1321.2 1013.3,1316.7 C1018.8,1312.2 1026.6,1306.6 1033.3,1303.3 C1040,1300 1047.7,1296.7 1053.3,1296.7 C1058.9,1296.7 1063.4,1297.8 1066.7,1303.3 C1070,1308.8 1075.5,1323.3 1073.3,1330 C1071.1,1336.7 1060,1341.6 1053.3,1343.3 C1046.6,1345 1040,1340.5 1033.3,1340 C1026.6,1339.5 1018.8,1341.7 1013.3,1340 C1007.8,1338.3 1000,1333.9 1000,1330Z" fill="#868f7b"/>
<path d="M563.3,1031.7 C566.1,1029.5 574.4,1030 583.3,1030 C592.2,1030 607.8,1032 616.7,1031.7 C625.6,1031.4 634.8,1023 636.7,1028.3 C638.6,1033.6 630.5,1052.2 628.3,1063.3 C626.1,1074.4 626.3,1091.9 623.3,1095 C620.2,1098.1 614.4,1087 610,1081.7 C605.6,1076.4 601.2,1068 596.7,1063.3 C592.2,1058.6 588.3,1056.6 583.3,1053.3 C578.3,1050 570,1046.9 566.7,1043.3 C563.4,1039.7 560.5,1033.9 563.3,1031.7Z" fill="#abaab6"/>
<path d="M483.3,1090 C484.4,1084.5 488.9,1078.4 493.3,1076.7 C497.8,1075 504.4,1077.2 510,1080 C515.6,1082.8 521.7,1089.4 526.7,1093.3 C531.7,1097.2 534.5,1099.4 540,1103.3 C545.5,1107.2 554.5,1112.2 560,1116.7 C565.5,1121.2 572.2,1125.6 573.3,1130 C574.4,1134.4 570.6,1140 566.7,1143.3 C562.8,1146.6 554.5,1146.7 550,1150 C545.5,1153.3 540.5,1158.8 540,1163.3 C539.5,1167.8 543.4,1173.4 546.7,1176.7 C550,1180 560,1181.6 560,1183.3 C560,1185 552.8,1186.7 546.7,1186.7 C540.6,1186.7 530,1186.1 523.3,1183.3 C516.6,1180.5 511.7,1176.1 506.7,1170 C501.7,1163.9 497.2,1153.4 493.3,1146.7 C489.4,1140 484.4,1136.1 483.3,1130 C482.2,1123.9 486.7,1116.7 486.7,1110 C486.7,1103.3 482.2,1095.5 483.3,1090Z" fill="#abaab6"/>
<path d="M646.7,1116.7 C649.5,1113.9 657.2,1108.9 663.3,1110 C669.4,1111.1 678.8,1118.8 683.3,1123.3 C687.8,1127.8 691.1,1133.4 690,1136.7 C688.9,1140 682.2,1143.3 676.7,1143.3 C671.2,1143.3 661.7,1139.5 656.7,1136.7 C651.7,1133.9 648.4,1130 646.7,1126.7 C645,1123.4 643.9,1119.5 646.7,1116.7Z" fill="#abaab6"/>
<path d="M716.7,1136.7 C720,1135.6 728.9,1137.2 736.7,1140 C744.5,1142.8 757.8,1149.4 763.3,1153.3 C768.8,1157.2 772.2,1160.5 770,1163.3 C767.8,1166.1 756.7,1170.5 750,1170 C743.3,1169.5 735.5,1163.9 730,1160 C724.5,1156.1 718.9,1150.6 716.7,1146.7 C714.5,1142.8 713.4,1137.8 716.7,1136.7Z" fill="#abaab6"/>
<path d="M663.3,1170 C667.8,1167.2 681.1,1162.8 690,1163.3 C698.9,1163.8 714.5,1170 716.7,1173.3 C718.9,1176.6 708.9,1181.1 703.3,1183.3 C697.7,1185.5 690,1187.2 683.3,1186.7 C676.6,1186.2 666.6,1182.8 663.3,1180 C660,1177.2 658.8,1172.8 663.3,1170Z" fill="#abaab6"/>
<path d="M623.3,1146.7 C624.4,1143.9 637.7,1141.6 643.3,1143.3 C648.9,1145 657.8,1153.9 656.7,1156.7 C655.6,1159.5 642.3,1161.7 636.7,1160 C631.1,1158.3 622.2,1149.5 623.3,1146.7Z" fill="#abaab6"/>
<path d="M763.3,1196.7 C765.5,1193.9 776.6,1195 783.3,1196.7 C790,1198.4 797.7,1203.4 803.3,1206.7 C808.9,1210 816.7,1213.9 816.7,1216.7 C816.7,1219.5 808.9,1222.8 803.3,1223.3 C797.7,1223.8 788.8,1221.7 783.3,1220 C777.8,1218.3 773.3,1217.2 770,1213.3 C766.7,1209.4 761.1,1199.5 763.3,1196.7Z" fill="#abaab6"/>
<path d="M1056.7,1326.7 C1066.4,1320.6 1107.3,1321.7 1116.7,1326.7 C1126.1,1331.7 1116.1,1346.7 1113.3,1356.7 C1110.5,1366.7 1104.4,1377.8 1100,1386.7 C1095.6,1395.6 1092.2,1407 1086.7,1410 C1081.2,1413 1072.3,1407.8 1066.7,1405 C1061.1,1402.2 1054.7,1400.2 1053.3,1393.3 C1051.9,1386.3 1057.7,1374.4 1058.3,1363.3 C1058.9,1352.2 1047,1332.8 1056.7,1326.7Z" fill="#abaab6"/>
<path d="M968.3,1113.3 C972.2,1108.3 981.4,1108.9 986.7,1110 C992,1111.1 997.2,1114.5 1000,1120 C1002.8,1125.5 1003.8,1135.5 1003.3,1143.3 C1002.8,1151.1 1000.6,1161.7 996.7,1166.7 C992.8,1171.7 985,1173.3 980,1173.3 C975,1173.3 969.5,1172.2 966.7,1166.7 C963.9,1161.2 963,1148.9 963.3,1140 C963.6,1131.1 964.4,1118.3 968.3,1113.3Z" fill="#abaab6"/>
<path d="M720,1136.7 C721.7,1133.9 734.7,1129.7 743.3,1133.3 C751.9,1136.9 767.8,1152.7 771.7,1158.3 C775.6,1163.9 770.3,1166.1 766.7,1166.7 C763.1,1167.3 755.6,1164.5 750,1161.7 C744.4,1158.9 738.3,1154.2 733.3,1150 C728.3,1145.8 718.3,1139.5 720,1136.7Z" fill="#abaab6"/>
<path d="M976.7,1056.7 C977.8,1052.8 982.8,1048.3 986.7,1043.3 C990.6,1038.3 995.6,1026.1 1000,1026.7 C1004.4,1027.3 1010,1041.2 1013.3,1046.7 C1016.6,1052.2 1015.5,1055 1020,1060 C1024.5,1065 1033.3,1072.2 1040,1076.7 C1046.7,1081.2 1054.5,1085 1060,1086.7 C1065.5,1088.4 1070.5,1088.9 1073.3,1086.7 C1076.1,1084.5 1074.5,1076.1 1076.7,1073.3 C1078.9,1070.5 1083.9,1069.4 1086.7,1070 C1089.5,1070.6 1093.3,1072.8 1093.3,1076.7 C1093.3,1080.6 1090,1089.4 1086.7,1093.3 C1083.4,1097.2 1077.2,1098.3 1073.3,1100 C1069.4,1101.7 1067.7,1101.6 1063.3,1103.3 C1058.9,1105 1050.6,1107.2 1046.7,1110 C1042.8,1112.8 1043.3,1118.9 1040,1120 C1036.7,1121.1 1031.2,1118.4 1026.7,1116.7 C1022.2,1115 1017.8,1113.3 1013.3,1110 C1008.8,1106.7 1004.4,1101.7 1000,1096.7 C995.6,1091.7 990,1085 986.7,1080 C983.4,1075 981.7,1070.6 980,1066.7 C978.3,1062.8 975.6,1060.6 976.7,1056.7Z" fill="#6c5548"/>
<path d="M1116.7,895 C1118.9,892 1135.5,886.7 1143.3,886.7 C1151.1,886.7 1158.3,891.1 1163.3,895 C1168.3,898.9 1171.3,904.2 1173.3,910 C1175.2,915.8 1175.3,924.2 1175,930 C1174.7,935.8 1173.7,945 1171.7,945 C1169.8,945 1167.5,934.7 1163.3,930 C1159.1,925.3 1152.2,920.9 1146.7,916.7 C1141.2,912.5 1135,908.6 1130,905 C1125,901.4 1114.5,898 1116.7,895Z" fill="#6c5548"/>
<path d="M1040,1173.3 C1044.5,1170.5 1052.8,1170.3 1060,1170 C1067.2,1169.7 1078.8,1168.9 1083.3,1171.7 C1087.8,1174.5 1095,1184.2 1086.7,1186.7 C1078.4,1189.2 1041.1,1188.9 1033.3,1186.7 C1025.5,1184.5 1035.5,1176.1 1040,1173.3Z" fill="#6c5548"/>
<path d="M558.3,966.7 C559.7,962.2 566.4,953.6 571.7,950 C577,946.4 582.2,944.3 590,945 C597.8,945.7 610.1,949.5 618.3,954 C626.5,958.5 635,965.2 639.3,971.7 C643.6,978.2 644.4,988.6 644,993.3 C643.6,998 640.2,999.7 636.7,1000 C633.2,1000.3 628.3,996.7 623.3,995 C618.3,993.3 612.2,991.1 606.7,990 C601.2,988.9 595,989.4 590,988.3 C585,987.2 581.2,985.2 576.7,983.3 C572.2,981.4 566.4,979.5 563.3,976.7 C560.2,973.9 556.9,971.2 558.3,966.7Z" fill="#6c5548"/>
<path d="M453.3,1193.3 C455.8,1190.8 463.9,1191.1 470,1190 C476.1,1188.9 483.9,1186.2 490,1186.7 C496.1,1187.2 500.6,1192.2 506.7,1193.3 C512.8,1194.4 520,1194.4 526.7,1193.3 C533.4,1192.2 541.2,1188.4 546.7,1186.7 C552.2,1185 559.5,1181.6 560,1183.3 C560.5,1185 554.2,1190.9 550,1196.7 C545.8,1202.5 540.5,1212.8 535,1218.3 C529.5,1223.8 523.9,1228.6 516.7,1230 C509.5,1231.4 499.8,1228.9 491.7,1226.7 C483.6,1224.5 474.4,1220.3 468.3,1216.7 C462.2,1213.1 457.5,1208.9 455,1205 C452.5,1201.1 450.8,1195.8 453.3,1193.3Z" fill="#6c5548"/>
<path d="M560,1103.3 C561.1,1101.1 566.1,1100 570,1100 C573.9,1100 579.4,1100.5 583.3,1103.3 C587.2,1106.1 591.1,1112.2 593.3,1116.7 C595.5,1121.2 597.8,1126.4 596.7,1130 C595.6,1133.6 590,1137.8 586.7,1138.3 C583.4,1138.8 579.5,1135.8 576.7,1133.3 C573.9,1130.8 572.2,1126.6 570,1123.3 C567.8,1120 565,1116.6 563.3,1113.3 C561.6,1110 558.9,1105.5 560,1103.3Z" fill="#6c5548"/>
<path d="M726.7,1166.7 C728.9,1163.4 737.8,1162.2 743.3,1163.3 C748.8,1164.4 753.9,1171.1 760,1173.3 C766.1,1175.5 775,1173.9 780,1176.7 C785,1179.5 789.5,1186.7 790,1190 C790.5,1193.3 787.8,1195.6 783.3,1196.7 C778.8,1197.8 770,1197.3 763.3,1196.7 C756.6,1196.1 748.8,1195.5 743.3,1193.3 C737.8,1191.1 732.8,1187.7 730,1183.3 C727.2,1178.9 724.5,1170 726.7,1166.7Z" fill="#6c5548"/>
<path d="M1020,1200 C1021.1,1196.7 1027.8,1190.6 1033.3,1186.7 C1038.8,1182.8 1046.1,1179.2 1053.3,1176.7 C1060.5,1174.2 1072.2,1170.6 1076.7,1171.7 C1081.2,1172.8 1080.6,1178 1080,1183.3 C1079.4,1188.6 1076.6,1198.8 1073.3,1203.3 C1070,1207.8 1065.5,1209.2 1060,1210 C1054.5,1210.8 1045.5,1208.8 1040,1208.3 C1034.5,1207.8 1030,1208.1 1026.7,1206.7 C1023.4,1205.3 1018.9,1203.3 1020,1200Z" fill="#6c5548"/>
<path d="M940,1240 C942,1236.7 943.4,1228.7 946.7,1226.7 C950,1224.8 956.1,1226.1 960,1228.3 C963.9,1230.5 967.2,1234.2 970,1240 C972.8,1245.8 977.2,1258.3 976.7,1263.3 C976.2,1268.3 970.6,1270 966.7,1270 C962.8,1270 957.8,1265.5 953.3,1263.3 C948.8,1261.1 943,1259.5 940,1256.7 C937,1253.9 935,1249.5 935,1246.7 C935,1243.9 938,1243.3 940,1240Z" fill="#6c5548"/>
<path d="M993.3,1276.7 C993.8,1272.8 995.5,1270 1000,1266.7 C1004.5,1263.4 1013.3,1260 1020,1256.7 C1026.7,1253.4 1033.3,1248.9 1040,1246.7 C1046.7,1244.5 1055.5,1243.3 1060,1243.3 C1064.5,1243.3 1067.8,1244.5 1066.7,1246.7 C1065.6,1248.9 1058.9,1253.9 1053.3,1256.7 C1047.7,1259.5 1038.8,1260.5 1033.3,1263.3 C1027.8,1266.1 1024.4,1269.4 1020,1273.3 C1015.6,1277.2 1010.6,1283.9 1006.7,1286.7 C1002.8,1289.5 998.9,1291.7 996.7,1290 C994.5,1288.3 992.8,1280.6 993.3,1276.7Z" fill="#6c5548"/>
<path d="M723.3,1170 C724.4,1166.7 733.9,1166.2 740,1166.7 C746.1,1167.2 752.8,1169.4 760,1173.3 C767.2,1177.2 776.6,1186.1 783.3,1190 C790,1193.9 797.8,1193.9 800,1196.7 C802.2,1199.5 800.6,1205.3 796.7,1206.7 C792.8,1208.1 783.4,1206.7 776.7,1205 C770,1203.3 763.9,1199.8 756.7,1196.7 C749.5,1193.7 738.9,1191.2 733.3,1186.7 C727.7,1182.2 722.2,1173.3 723.3,1170Z" fill="#6c5548"/>
<path d="M826.7,1240 C828.4,1235 834.5,1232.2 840,1230 C845.5,1227.8 853.9,1229.5 860,1226.7 C866.1,1223.9 872.2,1215 876.7,1213.3 C881.2,1211.6 886.2,1213.9 886.7,1216.7 C887.2,1219.5 883.3,1225.6 880,1230 C876.7,1234.4 870.6,1237.8 866.7,1243.3 C862.8,1248.8 860,1257.7 856.7,1263.3 C853.4,1268.9 850.6,1272.2 846.7,1276.7 C842.8,1281.2 836.6,1290 833.3,1290 C830,1290 827.2,1281.7 826.7,1276.7 C826.2,1271.7 830,1266.1 830,1260 C830,1253.9 825,1245 826.7,1240Z" fill="#6c5548"/>
<path d="M856.7,1346.7 C856.2,1342.8 861.7,1338.3 866.7,1333.3 C871.7,1328.3 881.2,1321.7 886.7,1316.7 C892.2,1311.7 895.6,1306.1 900,1303.3 C904.4,1300.5 907.8,1298.9 913.3,1300 C918.8,1301.1 927.7,1306.1 933.3,1310 C938.9,1313.9 945.6,1318.8 946.7,1323.3 C947.8,1327.8 942.8,1332.8 940,1336.7 C937.2,1340.6 933.9,1342.8 930,1346.7 C926.1,1350.6 921.7,1356.7 916.7,1360 C911.7,1363.3 905,1366.7 900,1366.7 C895,1366.7 891.7,1361.7 886.7,1360 C881.7,1358.3 875,1358.9 870,1356.7 C865,1354.5 857.2,1350.6 856.7,1346.7Z" fill="#6c5548"/>
<path d="M1006.7,1350 C1008.4,1345.8 1008.9,1340 1013.3,1338.3 C1017.7,1336.6 1027.2,1338 1033.3,1340 C1039.4,1342 1046.7,1345 1050,1350 C1053.3,1355 1054.4,1363.9 1053.3,1370 C1052.2,1376.1 1047.7,1384.5 1043.3,1386.7 C1038.9,1388.9 1032.2,1385 1026.7,1383.3 C1021.2,1381.6 1014.5,1377.8 1010,1376.7 C1005.5,1375.6 1001.1,1378.9 1000,1376.7 C998.9,1374.5 1002.2,1367.8 1003.3,1363.3 C1004.4,1358.8 1005,1354.2 1006.7,1350Z" fill="#6c5548"/>
<path d="M1110,1350 C1111.4,1345.8 1117,1341.7 1120,1341.7 C1123,1341.7 1126.6,1346.4 1128.3,1350 C1130,1353.6 1130.8,1358.8 1130,1363.3 C1129.2,1367.8 1126.1,1372.8 1123.3,1376.7 C1120.5,1380.6 1116.1,1386.2 1113.3,1386.7 C1110.5,1387.2 1107,1383.3 1106.7,1380 C1106.4,1376.7 1111.2,1371.7 1111.7,1366.7 C1112.2,1361.7 1108.6,1354.2 1110,1350Z" fill="#6c5548"/>
<path d="M1006.7,1350 C1008.1,1346.1 1009.4,1342.2 1013.3,1340 C1017.2,1337.8 1024.4,1336.2 1030,1336.7 C1035.6,1337.2 1042.8,1340 1046.7,1343.3 C1050.6,1346.6 1052.8,1351.7 1053.3,1356.7 C1053.8,1361.7 1051.1,1367.8 1050,1373.3 C1048.9,1378.8 1048.4,1386.1 1046.7,1390 C1045,1393.9 1042.8,1397.2 1040,1396.7 C1037.2,1396.2 1033.9,1389.5 1030,1386.7 C1026.1,1383.9 1021.7,1380.6 1016.7,1380 C1011.7,1379.4 1003.3,1384.4 1000,1383.3 C996.7,1382.2 995.9,1376.6 996.7,1373.3 C997.5,1370 1003.3,1367.2 1005,1363.3 C1006.7,1359.4 1005.3,1353.9 1006.7,1350Z" fill="#6c5548"/>
<path d="M800,1470 C806.7,1468.3 811.7,1467.8 820,1466.7 C828.3,1465.6 841.1,1464.7 850,1463.3 C858.9,1461.9 866.6,1458.8 873.3,1458.3 C880,1457.8 885.5,1457.5 890,1460 C894.5,1462.5 898.3,1466.1 900,1473.3 C901.7,1480.5 901.7,1493.8 900,1503.3 C898.3,1512.8 893.9,1522.2 890,1530 C886.1,1537.8 880,1544.5 876.7,1550 C873.4,1555.5 872.2,1564.4 870,1563.3 C867.8,1562.2 865.5,1550 863.3,1543.3 C861.1,1536.6 858.9,1528.8 856.7,1523.3 C854.5,1517.8 853.9,1512.8 850,1510 C846.1,1507.2 838.3,1506.7 833.3,1506.7 C828.3,1506.7 823.9,1506.7 820,1510 C816.1,1513.3 813.3,1523.4 810,1526.7 C806.7,1530 805,1531.7 800,1530 C795,1528.3 783.3,1525.6 780,1516.7 C776.7,1507.8 776.7,1484.5 780,1476.7 C783.3,1468.9 793.3,1471.7 800,1470Z" fill="#6c5548"/>
<path d="M858.3,1343.3 C858.9,1340 859.8,1336.1 866.7,1333.3 C873.7,1330.5 884.5,1327.8 900,1326.7 C915.5,1325.6 950,1320.6 960,1326.7 C970,1332.8 963.3,1356.1 960,1363.3 C956.7,1370.5 946.7,1370 940,1370 C933.3,1370 926.1,1364.4 920,1363.3 C913.9,1362.2 907.2,1361.9 903.3,1363.3 C899.4,1364.7 898.9,1371.7 896.7,1371.7 C894.5,1371.7 893.3,1366.4 890,1363.3 C886.7,1360.2 881.2,1355 876.7,1353.3 C872.2,1351.6 866.4,1355 863.3,1353.3 C860.2,1351.6 857.7,1346.6 858.3,1343.3Z" fill="#6c5548"/>
<path d="M770,1470 C772.8,1467.8 778.3,1466.4 783.3,1466.7 C788.3,1467 793.3,1471.4 800,1471.7 C806.7,1472 815,1470 823.3,1468.3 C831.6,1466.6 841.1,1463.4 850,1461.7 C858.9,1460 869.5,1458 876.7,1458.3 C883.9,1458.6 888.9,1458.6 893.3,1463.3 C897.7,1468 902.2,1478.9 903.3,1486.7 C904.4,1494.5 901.7,1502.8 900,1510 C898.3,1517.2 896.1,1523.3 893.3,1530 C890.5,1536.7 887.2,1544.5 883.3,1550 C879.4,1555.5 873.3,1564.4 870,1563.3 C866.7,1562.2 865.5,1550 863.3,1543.3 C861.1,1536.6 859.5,1529.4 856.7,1523.3 C853.9,1517.2 850.6,1510.6 846.7,1506.7 C842.8,1502.8 837.8,1500 833.3,1500 C828.8,1500 824.4,1506.2 820,1506.7 C815.6,1507.2 811.7,1505 806.7,1503.3 C801.7,1501.6 795.6,1498.9 790,1496.7 C784.4,1494.5 777.2,1492.8 773.3,1490 C769.4,1487.2 767.2,1483.3 766.7,1480 C766.2,1476.7 767.2,1472.2 770,1470Z" fill="#6c5548"/>
<path d="M636.8,1099.5 L750.8,1187.3 L749.1,1189.4 L635.1,1101.6Z" fill="#fff"/>
<path d="M635.1,1101.6 L746.1,1188.4 L744.4,1190.6 L633.4,1103.8Z" fill="#e41f26"/>
<path d="M638.5,1097.2 L756.5,1187 L754.8,1189.3 L636.8,1099.5Z" fill="#1b9fdd"/>
<path d="M612.3,1148.5 L750.3,1187 L749.6,1189.6 L611.6,1151.1Z" fill="#fff"/>
<path d="M613.1,1145.7 L746.1,1181.7 L745.3,1184.5 L612.3,1148.5Z" fill="#e41f26"/>
<path d="M611.6,1151.1 L754.6,1191.1 L753.9,1193.8 L610.9,1153.8Z" fill="#1b9fdd"/>
</g>
<g transform="rotate(180 593.7 1306.3)">
<g clip-path="url(#t2_lclip)">
<ellipse cx="373.4" cy="1439.7" rx="47.3" ry="16" transform="rotate(21.8 373.4 1439.7)" fill="#e41f26"/>
<ellipse cx="373.4" cy="1439.7" rx="32.63699999999999" ry="10.88" transform="rotate(21.8 373.4 1439.7)" fill="#fff"/>
<ellipse cx="373.4" cy="1439.7" rx="15.609" ry="5.12" transform="rotate(21.8 373.4 1439.7)" fill="#1b9fdd"/>
<ellipse cx="407.4" cy="1360.8" rx="47.3" ry="16" transform="rotate(30 407.4 1360.8)" fill="#e41f26"/>
<ellipse cx="407.4" cy="1360.8" rx="32.63699999999999" ry="10.88" transform="rotate(30 407.4 1360.8)" fill="#fff"/>
<ellipse cx="407.4" cy="1360.8" rx="15.609" ry="5.12" transform="rotate(30 407.4 1360.8)" fill="#1b9fdd"/>
</g>
<path d="M235,1232.7 Q300,1270 366.7,1296.7 L363,1313.5 Q296,1286 228.3,1248.5Z" fill="#585858" stroke="#333" stroke-width="0.8"/>
<path d="M170,1358.3 Q236,1397 303.3,1426.7 L293.3,1441.7 Q226,1411 163.3,1371.7Z" fill="#585858" stroke="#333" stroke-width="0.8"/>
<path d="M182.7,1288.3 L230,1284.3 L281.7,1306.7 L279.3,1316.7 L260.7,1363.3 L206.7,1341.7Z" fill="#b9b8c2" stroke="#2b2b2b" stroke-width="0.7"/>
<path d="M186.7,1300.7 L199.3,1292 L211,1298.7 L202.7,1314Z" fill="#fbfcfc" stroke="#555" stroke-width="0.5"/>
<path d="M204,1291.3 L229.3,1289.7 L222.7,1296.7 L212.7,1297Z" fill="#fbfcfc" stroke="#555" stroke-width="0.5"/>
<path d="M214,1299 L222.7,1299 L213.3,1319.3 L205.7,1315Z" fill="#fbfcfc" stroke="#555" stroke-width="0.5"/>
<path d="M234,1291.7 L278.3,1310 L274.7,1318.7 L230,1300.3Z" fill="#fbfcfc" stroke="#555" stroke-width="0.5"/>
<path d="M226.7,1305 L248.3,1313.3 L242,1328.3 L220.7,1319.3Z" fill="#fbfcfc" stroke="#555" stroke-width="0.5"/>
<path d="M250.3,1314.3 L271.7,1323.3 L265.3,1337.7 L244.7,1329.3Z" fill="#fbfcfc" stroke="#555" stroke-width="0.5"/>
<path d="M218.3,1323.3 L240,1331.7 L234.7,1344 L213.3,1334.3Z" fill="#fbfcfc" stroke="#555" stroke-width="0.5"/>
<path d="M242.7,1332.7 L264.3,1341 L258.7,1354 L237.3,1345.3Z" fill="#fbfcfc" stroke="#555" stroke-width="0.5"/>
<path d="M210.7,1336 L256.7,1354 L253.3,1362 L207.3,1342.7Z" fill="#fbfcfc" stroke="#555" stroke-width="0.5"/>
<path d="M192.7,1317.3 L200,1314 L213.3,1332.7 L207.3,1335.3Z" fill="#fbfcfc" stroke="#555" stroke-width="0.5"/>
<path d="M281.7,1316.7 C282.7,1315.3 285.1,1313.5 289.3,1314.7 C293.5,1315.9 301.5,1320.8 306.7,1324 C311.9,1327.2 317.8,1331.3 320.7,1334 C323.6,1336.7 326.1,1339.8 324.3,1340.3 C322.5,1340.8 315.2,1339 310,1337.3 C304.8,1335.6 297.8,1332.3 293.3,1330 C288.9,1327.7 285.2,1325.5 283.3,1323.3 C281.4,1321.1 280.7,1318.1 281.7,1316.7Z" fill="#fbfcfc" stroke="#444" stroke-width="0.6"/>
<path d="M261,1360 C261.6,1358.3 263,1355.7 266.7,1356.7 C270.4,1357.7 278.2,1362.8 283.3,1366 C288.4,1369.2 294.1,1373 297.3,1375.7 C300.5,1378.4 303.9,1381.3 302.7,1382 C301.5,1382.7 294.9,1381.5 290,1380 C285.1,1378.5 277.8,1374.9 273.3,1372.7 C268.9,1370.5 265.4,1368.8 263.3,1366.7 C261.2,1364.6 260.4,1361.7 261,1360Z" fill="#fbfcfc" stroke="#444" stroke-width="0.6"/>
<path d="M600,1505 C601.1,1502.7 607.8,1501.3 613.3,1502.7 C618.8,1504.1 625.5,1508.8 633.3,1513.3 C641.1,1517.8 653.9,1525.5 660,1530 C666.1,1534.5 671.7,1539.2 670,1540 C668.3,1540.8 657.2,1537.2 650,1535 C642.8,1532.8 633.9,1529.8 626.7,1526.7 C619.5,1523.7 611.2,1520.3 606.7,1516.7 C602.2,1513.1 598.9,1507.3 600,1505Z" fill="#abaab6" stroke="#333" stroke-width="0.6"/>
<path d="M640,1528.3 C640,1526.4 645,1524.6 650,1526 C655,1527.4 664.5,1533.2 670,1536.7 C675.5,1540.2 683.3,1545.3 683.3,1546.7 C683.3,1548.1 675.5,1546.6 670,1545 C664.5,1543.4 655,1540.1 650,1537.3 C645,1534.5 640,1530.2 640,1528.3Z" fill="#abaab6" stroke="#333" stroke-width="0.6"/>
<path d="M661.7,1530 L703.3,1558.7 L698.3,1559.3 L650,1540.7Z" fill="#f2f2f2" stroke="#333" stroke-width="0.6"/>
<path d="M666.7,1538.7 L672.7,1535.3 L678.3,1540.7 L672,1546.7Z" fill="#1b9fdd"/>
<path d="M685,1547.3 L690.7,1546.7 L696.7,1554 L690,1553.3Z" fill="#e41f26"/>
<path d="M396.7,926.7 L409,920.5 L421.7,918.3 L410,931.7Z" fill="#1f9a48" stroke="#333" stroke-width="0.5"/>
<path d="M13.6,1685.7 L25,1687.3 L23.3,1711 L15.5,1706.5Z" fill="#e41f26" stroke="#333" stroke-width="0.5"/>
<g stroke="#2b2b2b" stroke-width="0.7" fill="none"><path d="M393.3,956.7 L300,1133 L253,1237" fill="none"/>
<path d="M453.3,960 L433.3,1040 L386.7,1150 L348,1290" fill="none"/>
<path d="M353.3,1035 L413.3,1066.7" fill="none"/>
<path d="M316.7,1113.3 L383.3,1150" fill="none"/>
<path d="M280,1180 L356.7,1216.7" fill="none"/>
<path d="M246.7,1203.3 L293.3,1226.7" fill="none"/>
<path d="M428,955 L400,1050 L360,1183 L340,1265" fill="none"/>
<path d="M128.3,1371.7 L173.3,1390" fill="none"/>
<path d="M115,1410 L151.7,1428.3" fill="none"/>
<path d="M173.3,1390 C163.3,1410.5 130.2,1480 113.3,1513.3 C96.4,1546.6 78.6,1577.2 71.7,1590" fill="none"/>
<path d="M146.7,1440 L221.7,1475" fill="none"/>
<path d="M111.7,1510 L186.7,1546.7" fill="none"/>
<path d="M256.7,1421.7 L186.7,1546.7 L150,1600" fill="none"/>
<path d="M71.7,1584 L135,1615.7" fill="none"/>
<path d="M35,1662.3 L96.7,1692.3" fill="none"/>
<path d="M233.3,1410 L200,1460 L143.3,1530 L100,1556.7" fill="none"/>
<path d="M370,1343.3 L563.3,1496.7" fill="none"/>
<path d="M350,1410 L570,1500" fill="none"/>
<path d="M396.7,1356.7 L386.7,1376.7" fill="none"/>
<path d="M426.7,1400 L413.3,1430" fill="none"/>
<path d="M470,1428.3 L458.3,1446.7" fill="none"/>
<path d="M513.3,1456.7 L506.7,1473.3" fill="none"/>
<path d="M546.7,1451.7 L530,1486.7" fill="none"/>
<path d="M105,1198 C102.7,1205.8 96.2,1227.2 91.2,1245 C86.2,1262.8 77.7,1295 75,1305" fill="none"/>
<path d="M140,1216.2 C136.2,1225.2 124.4,1254.4 117.5,1270 C110.6,1285.6 101.9,1303.3 98.8,1310" fill="none"/>
<path d="M143.8,1218.8 C140,1227.5 128.1,1255.8 121.2,1271.2 C114.3,1286.6 105.6,1304.5 102.5,1311.2" fill="none"/>
<path d="M663.3,1410 L626.7,1431.7" fill="none"/>
<path d="M696.7,1425 L648.3,1515" fill="none"/>
<path d="M686.7,1423.3 L730,1443.3" fill="none"/>
<path d="M716.7,1460 L703.3,1506.7" fill="none"/>
<path d="M581.7,1525.7 L550,1615.7" fill="none"/>
<path d="M640,1544 L590,1634" fill="none"/>
<path d="M546.7,1614 L590,1634" fill="none"/>
<path d="M663.3,1587.3 L633.3,1627.3" fill="none"/></g>
<g stroke="#333" stroke-width="3.6" stroke-linecap="round"><line x1="107.5" y1="1203.8" x2="131.2" y2="1216.2"/><line x1="101.2" y1="1217.5" x2="125.0" y2="1230.0"/><line x1="92.5" y1="1237.5" x2="116.2" y2="1250.0"/><line x1="82.5" y1="1260.0" x2="106.2" y2="1272.5"/><line x1="73.8" y1="1280.0" x2="96.2" y2="1292.5"/><line x1="67.5" y1="1292.5" x2="91.2" y2="1303.8"/></g>
<g stroke="#b4b3bd" stroke-width="2.4" stroke-linecap="round"><line x1="107.5" y1="1203.8" x2="131.2" y2="1216.2"/><line x1="101.2" y1="1217.5" x2="125.0" y2="1230.0"/><line x1="92.5" y1="1237.5" x2="116.2" y2="1250.0"/><line x1="82.5" y1="1260.0" x2="106.2" y2="1272.5"/><line x1="73.8" y1="1280.0" x2="96.2" y2="1292.5"/><line x1="67.5" y1="1292.5" x2="91.2" y2="1303.8"/></g><circle cx="397.3" cy="1024.3" r="50.8" fill="#e41f26"/><circle cx="397.3" cy="1024.3" r="34.3" fill="#fff"/><circle cx="397.3" cy="1024.3" r="17.3" fill="#1b9fdd"/><circle cx="92" cy="1624.7" r="51.3" fill="#e41f26"/><circle cx="92" cy="1624.7" r="34.3" fill="#fff"/><circle cx="92" cy="1624.7" r="17.3" fill="#1b9fdd"/>
<use href="#t2_o" fill="none" stroke="#2b2b2b" stroke-width="0.9"/>
</g>
<!-- title -->
<g class="title" font-size="110">
<g transform="translate(1,109.5) skewX(-23) scale(0.5998,1)"><text x="0" y="0">Bloch</text></g>
<g transform="translate(212,109.5) skewX(-23) scale(0.6701,1)"><text x="0" y="0">MB.152</text></g>
<g transform="translate(522,109.5) skewX(-23) scale(0.6403,1)"><text x="0" y="0">C1</text></g>
<g transform="translate(652,109.5) skewX(-23) scale(0.7371,1)"><text x="0" y="0">(Early)</text></g>
</g>
<!-- leader lines -->
<g class="ld">
<path d="M1100,91 L1142,205"/>
<path d="M657,212 L624,330"/>
<path d="M803.5,216 L771.5,331"/>
<path d="M988.75,243 L1088.75,220"/>
<path d="M1068.3,460 L1148.3,441.7 L1150,546.7"/>
<path d="M475,535 L566.7,547.3 L637.3,660"/>
<path d="M881.7,561.7 L911.7,664"/>
<path d="M966.7,584 L1081.7,555"/>
<path d="M777,694 L864,784"/>
<path d="M289,971.5 L397.5,1021"/>
</g>
<!-- labels -->
<g class="t">
<text x="1075" y="45.8" text-anchor="middle" class="n">6+16</text>
<text x="1075.5" y="71.6" text-anchor="middle">paint to white before</text>
<text x="572" y="155.6"><tspan class="n">1(2)</tspan> (paint the fuselage</text>
<text x="571" y="180.7">by white and use mask</text>
<text x="577" y="204.8">before camo paint )</text>
<text x="818" y="155.6"><tspan class="n">8</tspan> (paint the fuselage</text>
<text x="818" y="180.7">by white and use mask</text>
<text x="825" y="204.8">before camo paint )</text>
<text x="912" y="265.6" class="n">15+14</text>
<text x="943" y="450" text-anchor="middle" class="n">6+13</text>
<text x="943.5" y="474" text-anchor="middle">paint to white before</text>
<text x="241" y="512"><tspan class="n">9</tspan> (paint the fuselage</text>
<text x="241" y="537">by white and use mask</text>
<text x="247" y="562">before camo paint )</text>
<text x="588" y="520"><tspan class="n">10</tspan> (paint the fuselage by white</text>
<text x="591.5" y="545.6">and use mask before camo paint )</text>
<text x="947" y="592" class="n">4</text>
<text x="869" y="806.3" class="n">5</text>
<text x="69" y="927"><tspan class="n">9</tspan> (paint the fuselage</text>
<text x="69" y="952">by white and use mask</text>
<text x="75" y="975">before camo paint )</text>
</g>
<g class="s">
<text x="684.5" y="848.6" font-size="34.8">www.uprise-decal.ru</text>
<text x="1005.5" y="820.5" font-size="25.7">UR48126 Bloch</text>
<text x="987.5" y="848.4" font-size="26.1">MB.152 C1 (Early)</text>
</g>
<text x="2" y="1731" font-family="'DejaVu Sans','Liberation Sans',sans-serif" font-weight="bold" font-size="26" fill="#8a8a8a" fill-opacity="0.55">ARMATA-MODELS.RU</text>

</svg>
</body>
</html>
